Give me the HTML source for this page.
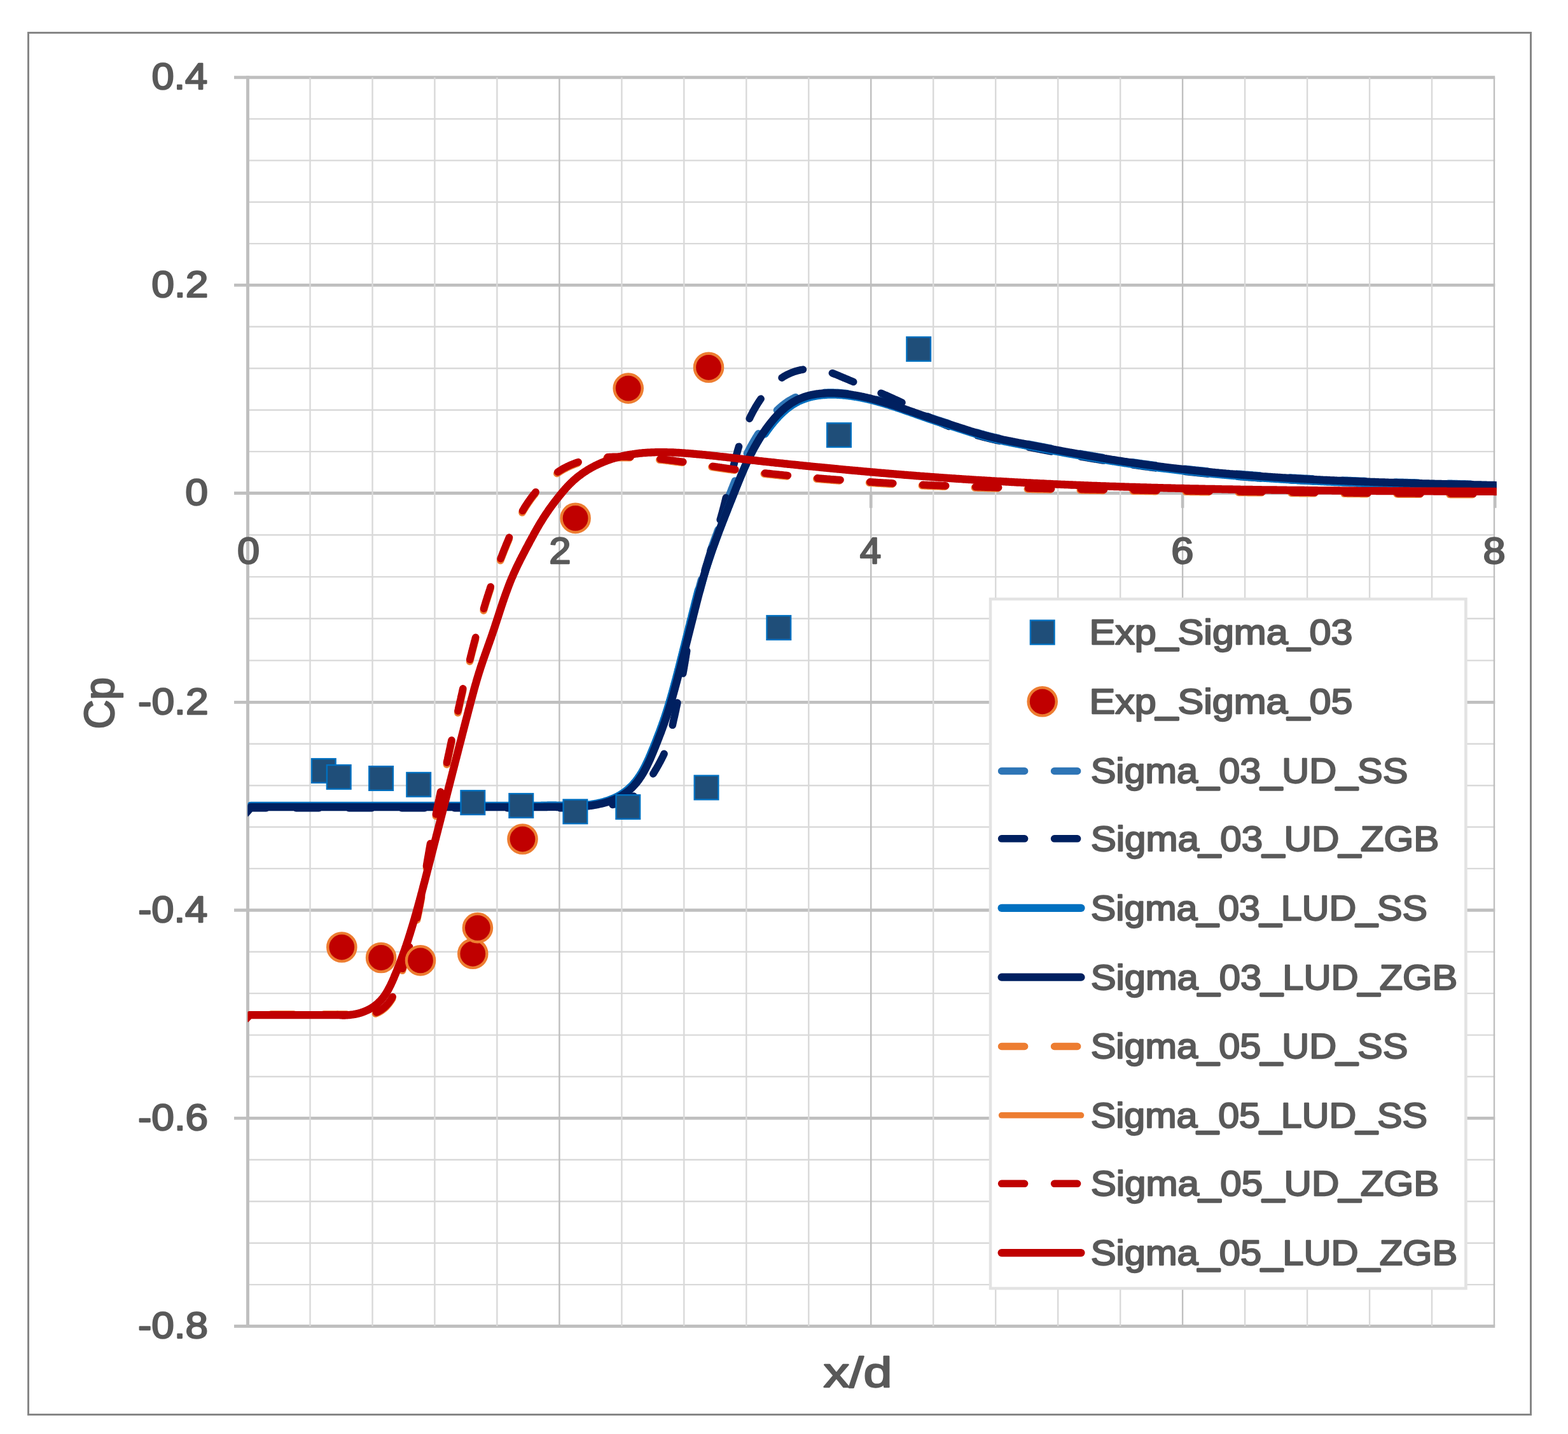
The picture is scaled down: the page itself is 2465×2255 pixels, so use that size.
<!DOCTYPE html>
<html lang="en"><head><meta charset="utf-8"><title>Cp vs x/d</title>
<style>html,body{margin:0;padding:0;background:#fff}svg{display:block}text{font-family:"Liberation Sans",sans-serif;font-weight:normal;fill:#595959;stroke:#595959;stroke-width:2.3px;stroke-linejoin:round}.u{stroke-width:3.6px}</style></head>
<body><svg width="2465" height="2255" viewBox="0 0 2465 2255">
<defs><filter id="soft" filterUnits="userSpaceOnUse" x="0" y="0" width="2465" height="2255" color-interpolation-filters="sRGB"><feGaussianBlur stdDeviation="0.7"/></filter></defs>
<g filter="url(#soft)">
<rect width="2465" height="2255" fill="#fff"/>
<rect x="44.5" y="51.5" width="2362" height="2173" fill="#fff" stroke="#868686" stroke-width="3"/>
<g id="grid" fill="none">
<path d="M389.5 187.0H2350.2M389.5 252.4H2350.2M389.5 317.7H2350.2M389.5 383.1H2350.2M389.5 513.8H2350.2M389.5 579.2H2350.2M389.5 644.7H2350.2M389.5 710.1H2350.2M389.5 841.3H2350.2M389.5 907.1H2350.2M389.5 972.8H2350.2M389.5 1038.6H2350.2M389.5 1169.8H2350.2M389.5 1235.2H2350.2M389.5 1300.5H2350.2M389.5 1365.9H2350.2M389.5 1496.7H2350.2M389.5 1562.1H2350.2M389.5 1627.6H2350.2M389.5 1693.0H2350.2M389.5 1823.8H2350.2M389.5 1889.2H2350.2M389.5 1954.7H2350.2M389.5 2020.1H2350.2" stroke="#D9D9D9" stroke-width="2.4"/>
<path d="M368 121.7H2350.2M368 448.4H2350.2M368 775.5H2350.2M368 1104.4H2350.2M368 1431.3H2350.2M368 1758.4H2350.2M368 2085.5H2350.2" stroke="#BFBFBF" stroke-width="4.9"/>
<path d="M487.5 121.7V2085.5M585.5 121.7V2085.5M683.4 121.7V2085.5M781.4 121.7V2085.5M977.4 121.7V2085.5M1075.3 121.7V2085.5M1173.3 121.7V2085.5M1271.3 121.7V2085.5M1467.2 121.7V2085.5M1565.2 121.7V2085.5M1663.2 121.7V2085.5M1761.2 121.7V2085.5M1957.1 121.7V2085.5M2055.1 121.7V2085.5M2153.1 121.7V2085.5M2251.0 121.7V2085.5" stroke="#D9D9D9" stroke-width="2.4"/>
<path d="M879.4 121.7V2085.5M1369.2 121.7V2085.5M1859.1 121.7V2085.5M2349.0 121.7V2085.5" stroke="#BFBFBF" stroke-width="2.4"/>
<path d="M389.5 119.2V2087.9" stroke="#BFBFBF" stroke-width="4.9"/>
<path d="M879.4 775.5V798.8M1369.2 775.5V798.8M1859.1 775.5V798.8M2350.2 775.5V798.8" stroke="#BFBFBF" stroke-width="4.7"/>
</g>
<defs><clipPath id="pc"><rect x="389.5" y="100" width="1963.3" height="2010"/></clipPath></defs>
<g id="curves" clip-path="url(#pc)" fill="none" stroke-linejoin="round">
<path d="M385.5 1276.6 L394.0 1266.8 L850.0 1266.8 L850.0 1266.8 L851.4 1266.7 L852.8 1266.7 L854.2 1266.7 L855.6 1266.6 L857.0 1266.6 L858.4 1266.6 L859.8 1266.6 L861.2 1266.5 L862.5 1266.5 L863.9 1266.5 L865.3 1266.5 L866.7 1266.5 L868.1 1266.5 L869.5 1266.5 L870.9 1266.5 L872.3 1266.5 L873.7 1266.5 L875.1 1266.6 L876.5 1266.6 L877.9 1266.6 L879.3 1266.6 L880.6 1266.6 L882.0 1266.6 L883.4 1266.6 L884.8 1266.6 L886.2 1266.6 L887.6 1266.6 L889.0 1266.6 L890.4 1266.6 L891.8 1266.6 L893.2 1266.6 L894.6 1266.6 L895.9 1266.6 L897.3 1266.6 L898.7 1266.5 L898.1 1267.9 L899.5 1267.9 L900.9 1267.8 L902.3 1267.8 L903.7 1267.7 L905.1 1267.7 L906.4 1267.6 L907.8 1267.6 L909.2 1267.5 L910.6 1267.4 L912.0 1267.3 L913.4 1267.2 L914.8 1267.1 L916.2 1267.0 L917.5 1266.9 L918.9 1266.7 L920.3 1266.6 L921.7 1266.4 L923.1 1266.3 L924.5 1266.1 L925.8 1265.9 L927.2 1265.8 L928.6 1265.6 L930.0 1265.4 L931.3 1265.1 L932.7 1264.9 L934.1 1264.7 L935.5 1264.4 L936.8 1264.2 L938.2 1263.9 L939.6 1263.6 L940.9 1263.3 L942.3 1263.0 L943.6 1262.7 L945.0 1262.4 L946.4 1262.0 L947.7 1261.7 L949.1 1261.3 L950.4 1260.9 L951.8 1260.5 L953.1 1260.1 L954.4 1259.7 L955.8 1259.2 L957.1 1258.8 L958.4 1258.3 L959.7 1257.8 L961.0 1257.3 L962.3 1256.8 L963.6 1256.2 L964.9 1255.7 L966.2 1255.1 L967.4 1254.5 L968.7 1253.9 L969.9 1253.3 L971.2 1252.6 L972.4 1252.0 L973.6 1251.3 L974.8 1250.6 L976.0 1249.8 L977.2 1249.1 L978.3 1248.3 L979.5 1247.6 L980.6 1246.8 L981.7 1246.0 L982.9 1245.1 L984.0 1244.3 L985.0 1243.4 L986.1 1242.6 L987.2 1241.7 L988.2 1240.8 L989.2 1239.8 L990.2 1238.9 L991.2 1237.9 L992.2 1237.0 L993.2 1236.0 L994.1 1235.0 L995.0 1234.0 L995.9 1233.0 L996.8 1231.9 L997.7 1230.9 L998.6 1229.8 L999.5 1228.8 L1000.3 1227.7 L1001.1 1226.6 L1002.0 1225.5 L1002.8 1224.3 L1003.5 1223.2 L1004.3 1222.1 L1005.1 1220.9 L1005.9 1219.8 L1006.6 1218.6 L1007.3 1217.4 L1008.1 1216.3 L1008.8 1215.1 L1009.5 1213.9 L1010.2 1212.7 L1010.9 1211.4 L1011.5 1210.2 L1012.2 1209.0 L1012.9 1207.7 L1013.5 1206.5 L1014.1 1205.3 L1014.8 1204.0 L1015.4 1202.7 L1016.0 1201.5 L1016.6 1200.2 L1017.2 1198.9 L1017.8 1197.7 L1018.4 1196.4 L1019.0 1195.1 L1019.6 1193.8 L1020.2 1192.5 L1020.7 1191.2 L1021.3 1189.9 L1021.8 1188.6 L1022.4 1187.3 L1022.9 1186.0 L1023.5 1184.7 L1024.0 1183.4 L1024.6 1182.1 L1025.1 1180.8 L1025.6 1179.5 L1026.2 1178.2 L1026.7 1176.9 L1027.2 1175.6 L1027.8 1174.3 L1028.3 1173.0 L1028.8 1171.7 L1029.3 1170.4 L1029.8 1169.1 L1030.4 1167.8 L1030.9 1166.5 L1031.4 1165.2 L1031.9 1163.9 L1032.4 1162.6 L1032.9 1161.3 L1033.4 1160.0 L1033.9 1158.7 L1034.4 1157.4 L1034.9 1156.1 L1035.4 1154.8 L1035.9 1153.5 L1036.4 1152.3 L1036.9 1151.0 L1037.4 1149.7 L1037.8 1148.4 L1038.3 1147.1 L1038.8 1145.8 L1039.3 1144.5 L1039.7 1143.2 L1040.2 1141.9 L1040.7 1140.6 L1041.1 1139.3 L1041.6 1138.0 L1042.1 1136.7 L1042.5 1135.4 L1043.0 1134.1 L1043.4 1132.8 L1043.9 1131.5 L1044.3 1130.2 L1044.8 1128.8 L1045.2 1127.5 L1045.7 1126.2 L1046.1 1124.9 L1046.5 1123.6 L1047.0 1122.3 L1047.4 1121.0 L1047.8 1119.6 L1048.2 1118.3 L1048.7 1117.0 L1049.1 1115.7 L1049.5 1114.3 L1049.9 1113.0 L1050.3 1111.7 L1050.7 1110.4 L1051.1 1109.0 L1051.5 1107.7 L1051.9 1106.4 L1052.3 1105.0 L1052.7 1103.7 L1053.1 1102.4 L1053.5 1101.0 L1053.9 1099.7 L1054.3 1098.4 L1054.7 1097.0 L1055.1 1095.7 L1055.5 1094.3 L1055.8 1093.0 L1056.2 1091.6 L1056.6 1090.3 L1057.0 1089.0 L1057.3 1087.6 L1057.7 1086.3 L1058.1 1084.9 L1058.4 1083.6 L1058.8 1082.2 L1059.2 1080.9 L1059.5 1079.5 L1059.9 1078.2 L1060.3 1076.8 L1060.6 1075.5 L1061.0 1074.1 L1061.4 1072.8 L1061.7 1071.4 L1062.1 1070.1 L1062.4 1068.7 L1062.8 1067.4 L1063.1 1066.0 L1063.5 1064.7 L1063.8 1063.3 L1064.2 1062.0 L1064.5 1060.6 L1064.9 1059.2 L1065.2 1057.9 L1065.6 1056.5 L1065.9 1055.2 L1066.3 1053.8 L1066.6 1052.5 L1067.0 1051.1 L1067.3 1049.8 L1067.7 1048.4 L1068.0 1047.1 L1068.3 1045.7 L1068.7 1044.4 L1069.0 1043.0 L1069.4 1041.7 L1069.7 1040.3 L1070.1 1039.0 L1070.4 1037.6 L1070.7 1036.3 L1071.1 1034.9 L1071.4 1033.6 L1071.8 1032.2 L1072.1 1030.9 L1072.4 1029.5 L1072.8 1028.2 L1073.1 1026.9 L1073.5 1025.5 L1073.8 1024.2 L1074.1 1022.8 L1074.5 1021.5 L1074.8 1020.1 L1075.2 1018.8 L1075.5 1017.4 L1075.8 1016.1 L1076.2 1014.7 L1076.5 1013.4 L1076.8 1012.0 L1077.2 1010.7 L1077.5 1009.3 L1077.9 1008.0 L1078.2 1006.6 L1078.5 1005.3 L1078.9 1004.0 L1079.2 1002.6 L1079.5 1001.3 L1079.9 999.9 L1080.2 998.6 L1080.5 997.2 L1080.9 995.9 L1081.2 994.5 L1081.6 993.2 L1081.9 991.8 L1082.2 990.5 L1082.6 989.1 L1082.9 987.8 L1083.2 986.4 L1083.6 985.1 L1083.9 983.7 L1084.3 982.4 L1084.6 981.0 L1084.9 979.7 L1085.3 978.3 L1085.6 977.0 L1085.9 975.7 L1086.3 974.3 L1086.6 973.0 L1087.0 971.6 L1087.3 970.3 L1087.6 968.9 L1088.0 967.6 L1088.3 966.2 L1088.6 964.9 L1089.0 963.5 L1089.3 962.2 L1089.7 960.8 L1090.0 959.5 L1090.3 958.1 L1090.7 956.7 L1091.0 955.4 L1091.4 954.0 L1091.7 952.7 L1092.1 951.3 L1092.4 950.0 L1092.7 948.6 L1093.1 947.3 L1093.4 945.9 L1093.8 944.6 L1094.1 943.2 L1094.5 941.9 L1094.8 940.5 L1095.2 939.2 L1095.5 937.8 L1095.9 936.5 L1096.2 935.1 L1096.6 933.8 L1096.9 932.4 L1097.3 931.1 L1097.6 929.7 L1098.0 928.4 L1098.4 927.0 L1098.7 925.7 L1099.1 924.3 L1099.4 923.0 L1099.8 921.6 L1100.2 920.3 L1100.5 918.9 L1100.9 917.6 L1101.3 916.2 L1101.7 914.9 L1102.0 913.5 L1102.4 912.2 L1102.8 910.8 L1103.2 909.5 L1103.6 908.2 L1103.9 906.8 L1104.3 905.5 L1104.7 904.1 L1105.1 902.8 L1105.5 901.5 L1105.9 900.1 L1106.3 898.8 L1106.7 897.5 L1107.1 896.1 L1107.5 894.8 L1107.9 893.5 L1108.3 892.1 L1108.8 890.8 L1109.2 889.5 L1109.6 888.2 L1110.0 886.8 L1110.4 885.5 L1110.9 884.2 L1111.3 882.9 L1111.7 881.5 L1112.2 880.2 L1112.6 878.9 L1113.0 877.6 L1113.5 876.3 L1113.9 874.9 L1114.4 873.6 L1114.8 872.3 L1115.2 871.0 L1115.7 869.7 L1116.1 868.4 L1116.6 867.1 L1117.0 865.7 L1117.5 864.4 L1118.0 863.1 L1118.4 861.8 L1118.9 860.5 L1119.3 859.2 L1119.8 857.9 L1120.3 856.6 L1120.7 855.3 L1121.2 854.0 L1121.7 852.7 L1122.2 851.4 L1122.6 850.0 L1123.1 848.7 L1123.6 847.4 L1124.1 846.1 L1124.5 844.8 L1125.0 843.5 L1125.5 842.2 L1126.0 840.9 L1126.5 839.6 L1127.0 838.3 L1127.4 837.0 L1127.9 835.7 L1128.4 834.4 L1128.9 833.1 L1129.4 831.8 L1129.9 830.5 L1130.4 829.2 L1130.9 827.9 L1131.4 826.6 L1131.9 825.3 L1132.4 824.0 L1132.9 822.7 L1133.4 821.4 L1133.9 820.1 L1134.4 818.9 L1134.9 817.6 L1135.4 816.3 L1135.9 815.0 L1136.4 813.7 L1136.9 812.4 L1137.4 811.1 L1137.9 809.8 L1138.4 808.5 L1138.9 807.2 L1139.5 805.9 L1140.0 804.6 L1140.5 803.3 L1141.0 802.0 L1141.5 800.7 L1142.0 799.4 L1142.5 798.1 L1143.0 796.8 L1143.5 795.5 L1144.1 794.2 L1144.6 792.9 L1145.1 791.6 L1145.6 790.3 L1146.1 789.0 L1146.6 787.7 L1147.1 786.4 L1147.7 785.2 L1145.2 781.9 L1145.7 780.6 L1146.2 779.3 L1146.7 778.0 L1147.2 776.7 L1147.8 775.4 L1148.3 774.1 L1148.8 772.8 L1149.3 771.5 L1149.8 770.2 L1150.3 768.9 L1150.8 767.6 L1151.4 766.3 L1151.9 765.0 L1152.4 763.7 L1152.9 762.4 L1153.4 761.1 L1154.0 759.8 L1154.5 758.5 L1155.0 757.2 L1155.5 755.9 L1156.1 754.6 L1156.6 753.3 L1157.1 752.0 L1157.7 750.7 L1158.2 749.4 L1158.7 748.1 L1159.3 746.8 L1159.8 745.5 L1160.3 744.2 L1160.9 743.0 L1161.4 741.7 L1162.0 740.4 L1162.5 739.1 L1163.1 737.8 L1163.6 736.5 L1164.2 735.3 L1164.7 734.0 L1165.3 732.7 L1165.9 731.4 L1166.4 730.2 L1167.0 728.9 L1167.6 727.6 L1168.1 726.4 L1168.7 725.1 L1169.3 723.8 L1169.9 722.6 L1170.5 721.3 L1171.1 720.1 L1171.7 718.8 L1172.3 717.6 L1172.9 716.3 L1173.5 715.1 L1174.1 713.8 L1174.7 712.6 L1175.3 711.4 L1175.9 710.1 L1176.6 708.9 L1177.2 707.7 L1177.8 706.5 L1178.5 705.2 L1179.1 704.0 L1179.8 702.8 L1180.4 701.6 L1181.1 700.4 L1181.8 699.2 L1182.4 698.0 L1183.1 696.8 L1183.8 695.6 L1184.5 694.4 L1185.2 693.2 L1185.9 692.0 L1186.6 690.8 L1187.3 689.6 L1188.0 688.4 L1188.7 687.3 L1189.4 686.1 L1190.2 684.9 L1190.9 683.7 L1191.7 682.6 L1192.4 681.4 L1193.2 680.2 L1193.9 679.1 L1194.7 677.9 L1195.5 676.8 L1196.3 675.6 L1197.1 674.5 L1197.9 673.3 L1198.7 672.2 L1199.5 671.1 L1200.3 669.9 L1201.2 668.8 L1202.0 667.7 L1202.8 666.6 L1203.7 665.4 L1204.6 664.3 L1205.4 663.2 L1206.3 662.1 L1207.2 661.0 L1208.1 659.9 L1209.0 658.8 L1209.9 657.7 L1210.8 656.6 L1211.8 655.5 L1212.7 654.4 L1213.7 653.4 L1214.6 652.3 L1215.6 651.3 L1216.5 650.2 L1217.5 649.2 L1218.5 648.1 L1219.5 647.1 L1220.5 646.1 L1221.5 645.1 L1222.6 644.1 L1223.6 643.2 L1224.6 642.2 L1225.7 641.3 L1226.7 640.3 L1227.8 639.4 L1228.9 638.5 L1230.0 637.6 L1231.1 636.7 L1232.2 635.9 L1233.3 635.0 L1234.4 634.2 L1235.5 633.4 L1236.7 632.6 L1237.8 631.8 L1238.9 631.0 L1240.1 630.3 L1241.3 629.6 L1242.5 628.9 L1243.7 628.2 L1244.9 627.5 L1246.1 626.9 L1247.3 626.2 L1248.5 625.6 L1249.7 625.0 L1251.0 624.5 L1252.2 623.9 L1253.5 623.4 L1254.7 622.9 L1256.0 622.4 L1257.3 621.9 L1258.6 621.5 L1259.9 621.0 L1261.2 620.6 L1262.5 620.2 L1263.8 619.8 L1270.1 621.4 L1271.4 621.1 L1272.7 620.8 L1274.1 620.4 L1275.4 620.1 L1276.8 619.8 L1278.1 619.6 L1279.5 619.3 L1280.8 619.1 L1282.2 618.8 L1283.5 618.6 L1284.9 618.4 L1286.3 618.3 L1287.7 618.1 L1289.0 617.9 L1290.4 617.8 L1291.8 617.7 L1293.2 617.6 L1294.6 617.5 L1296.0 617.4 L1297.4 617.3 L1298.8 617.2 L1300.2 617.2 L1301.6 617.1 L1303.0 617.1 L1304.4 617.1 L1305.8 617.1 L1307.2 617.1 L1308.6 617.1 L1310.0 617.1 L1311.4 617.2 L1312.9 617.2 L1314.3 617.3 L1315.7 617.4 L1317.1 617.4 L1318.5 617.5 L1319.9 617.6 L1321.3 617.7 L1322.7 617.8 L1324.1 618.0 L1325.5 618.1 L1326.9 618.2 L1328.3 618.4 L1329.7 618.5 L1331.1 618.7 L1332.5 618.9 L1333.9 619.1 L1335.3 619.2 L1336.7 619.4 L1338.0 619.6 L1339.4 619.8 L1340.8 620.1 L1342.2 620.3 L1343.6 620.5 L1344.9 620.7 L1346.3 621.0 L1347.7 621.2 L1349.0 621.5 L1350.4 621.7 L1351.8 622.0 L1353.1 622.3 L1354.5 622.6 L1355.9 622.8 L1357.2 623.1 L1358.6 623.4 L1359.9 623.7 L1361.3 624.0 L1362.7 624.3 L1364.0 624.7 L1365.4 625.0 L1366.7 625.3 L1368.1 625.6 L1369.4 626.0 L1370.7 626.3 L1372.1 626.7 L1373.4 627.0 L1374.8 627.4 L1376.1 627.7 L1377.5 628.1 L1378.8 628.5 L1380.1 628.9 L1381.5 629.2 L1382.8 629.6 L1384.1 630.0 L1385.5 630.4 L1386.8 630.8 L1388.1 631.2 L1389.5 631.6 L1390.8 632.0 L1392.1 632.4 L1393.4 632.8 L1394.8 633.2 L1396.1 633.6 L1397.4 634.1 L1398.7 634.5 L1400.1 634.9 L1401.4 635.3 L1402.7 635.8 L1404.0 636.2 L1405.4 636.6 L1406.7 637.1 L1408.0 637.5 L1409.3 637.9 L1410.6 638.4 L1412.0 638.8 L1413.3 639.3 L1414.6 639.7 L1415.9 640.2 L1417.2 640.6 L1418.5 641.1 L1419.9 641.6 L1421.2 642.0 L1422.5 642.5 L1423.8 642.9 L1425.1 643.4 L1426.4 643.8 L1427.7 644.3 L1429.1 644.8 L1430.4 645.2 L1431.7 645.7 L1433.0 646.2 L1434.3 646.6 L1435.6 647.1 L1436.9 647.6 L1438.2 648.0 L1439.6 648.5 L1440.9 649.0 L1442.2 649.4 L1443.5 649.9 L1444.8 650.3 L1446.1 650.8 L1447.4 651.3 L1448.8 651.7 L1450.1 652.2 L1451.4 652.7 L1452.7 653.1 L1454.0 653.6 L1455.3 654.0 L1456.7 654.5 L1458.0 654.9 L1459.3 655.4 L1460.6 655.8 L1461.9 656.3 L1463.2 656.7 L1464.6 657.2 L1465.9 657.6 L1467.2 658.1 L1468.5 658.5 L1469.8 659.0 L1471.2 659.4 L1472.5 659.8 L1473.8 660.3 L1475.1 660.7 L1476.5 661.1 L1477.8 661.5 L1479.1 662.0 L1480.4 662.4 L1481.8 662.8 L1483.1 663.2 L1484.4 663.7 L1485.7 664.1 L1487.1 664.5 L1488.4 664.9 L1489.7 665.4 L1491.1 665.8 L1492.4 666.2 L1493.7 666.6 L1495.0 667.0 L1496.4 667.5 L1497.7 667.9 L1499.0 668.3 L1500.3 668.7 L1501.7 669.2 L1503.0 669.6 L1504.3 670.0 L1505.7 670.4 L1507.0 670.9 L1508.3 671.3 L1509.6 671.7 L1511.0 672.2 L1512.3 672.6 L1513.6 673.0 L1514.9 673.4 L1516.3 673.9 L1517.6 674.3 L1518.9 674.7 L1520.2 675.2 L1521.6 675.6 L1522.9 676.0 L1524.2 676.4 L1525.5 676.9 L1526.9 677.3 L1528.2 677.7 L1529.5 678.1 L1530.9 678.5 L1532.2 679.0 L1533.5 679.4 L1534.8 679.8 L1536.2 680.2 L1537.5 680.6 L1538.8 681.0 L1540.2 681.4 L1541.5 681.8 L1542.9 682.2 L1544.2 682.5 L1545.5 682.9 L1546.9 683.3 L1548.2 683.7 L1549.5 684.0 L1550.9 684.4 L1552.2 684.7 L1553.6 685.1 L1554.9 685.4 L1556.3 685.8 L1557.6 686.1 L1559.0 686.4 L1560.3 686.8 L1561.7 687.1 L1563.0 687.4 L1564.4 687.7 L1565.7 688.0 L1567.1 688.3 L1568.5 688.6 L1569.8 688.9 L1571.2 689.2 L1572.5 689.5 L1573.9 689.8 L1575.2 690.1 L1576.6 690.4 L1578.0 690.7 L1579.3 691.0 L1580.7 691.2 L1582.1 691.5 L1583.4 691.8 L1584.8 692.1 L1586.2 692.3 L1587.5 692.6 L1588.9 692.9 L1590.3 693.1 L1591.6 693.4 L1593.0 693.7 L1594.4 693.9 L1595.7 694.2 L1597.1 694.5 L1598.4 694.7 L1599.8 695.0 L1601.2 695.3 L1602.6 695.5 L1603.9 695.8 L1605.3 696.1 L1606.7 696.3 L1608.0 696.6 L1609.4 696.9 L1610.8 697.1 L1612.1 697.4 L1613.5 697.6 L1614.9 697.9 L1616.2 698.2 L1617.6 698.4 L1619.0 698.7 L1620.3 699.0 L1621.7 699.2 L1623.1 699.5 L1624.4 699.8 L1625.8 700.0 L1627.2 700.3 L1628.5 700.5 L1629.9 700.8 L1631.3 701.1 L1632.6 701.3 L1634.0 701.6 L1635.4 701.8 L1636.7 702.1 L1638.1 702.4 L1639.5 702.6 L1640.8 702.9 L1642.2 703.1 L1643.6 703.4 L1645.0 703.7 L1646.3 703.9 L1647.7 704.2 L1649.1 704.4 L1650.4 704.7 L1651.8 704.9 L1653.2 705.2 L1654.5 705.5 L1655.9 705.7 L1657.3 706.0 L1658.6 706.2 L1660.0 706.5 L1661.4 706.7 L1662.8 707.0 L1664.1 707.2 L1665.5 707.5 L1666.9 707.7 L1668.2 708.0 L1669.6 708.3 L1671.0 708.5 L1672.3 708.8 L1673.7 709.0 L1675.1 709.3 L1676.5 709.5 L1677.8 709.8 L1679.2 710.0 L1680.6 710.3 L1681.9 710.5 L1683.3 710.7 L1684.7 711.0 L1686.1 711.2 L1687.4 711.5 L1688.8 711.7 L1690.2 712.0 L1691.5 712.2 L1692.9 712.5 L1694.3 712.7 L1695.7 713.0 L1697.0 713.2 L1698.4 713.4 L1699.8 713.7 L1701.1 713.9 L1702.5 714.2 L1703.9 714.4 L1705.3 714.6 L1706.6 714.9 L1708.0 715.1 L1709.4 715.4 L1710.7 715.6 L1712.1 715.8 L1713.5 716.1 L1714.9 716.3 L1716.2 716.5 L1717.6 716.8 L1719.0 717.0 L1720.4 717.2 L1721.7 717.5 L1723.1 717.7 L1724.5 717.9 L1725.9 718.2 L1727.2 718.4 L1728.6 718.6 L1730.0 718.9 L1731.3 719.1 L1732.7 719.3 L1734.1 719.5 L1735.5 719.8 L1736.8 720.0 L1738.2 720.2 L1739.6 720.4 L1741.0 720.7 L1742.3 720.9 L1743.7 721.1 L1745.1 721.3 L1746.5 721.6 L1747.8 721.8 L1749.2 722.0 L1750.6 722.2 L1752.0 722.4 L1753.3 722.6 L1754.7 722.9 L1756.1 723.1 L1757.5 723.3 L1758.8 723.5 L1760.2 723.7 L1761.6 723.9 L1763.0 724.1 L1764.4 724.4 L1765.7 724.6 L1767.1 724.8 L1768.5 725.0 L1769.9 725.2 L1771.2 725.4 L1772.6 725.6 L1774.0 725.8 L1775.4 726.0 L1776.7 726.2 L1778.1 726.4 L1779.5 726.6 L1780.9 726.8 L1782.3 727.0 L1783.6 727.2 L1785.0 727.4 L1786.4 727.6 L1787.8 727.8 L1789.1 728.0 L1790.5 728.2 L1791.9 728.4 L1793.3 728.6 L1794.7 728.8 L1796.0 729.0 L1797.4 729.2 L1798.8 729.4 L1800.2 729.5 L1801.5 729.7 L1802.9 729.9 L1804.3 730.1 L1805.7 730.3 L1807.1 730.5 L1808.4 730.7 L1809.8 730.8 L1811.2 731.0 L1812.6 731.2 L1814.0 731.4 L1815.3 731.6 L1816.7 731.7 L1818.1 731.9 L1819.5 732.1 L1820.9 732.3 L1822.2 732.5 L1823.6 732.6 L1825.0 732.8 L1826.4 733.0 L1827.8 733.1 L1829.2 733.3 L1830.5 733.5 L1831.9 733.7 L1833.3 733.8 L1834.7 734.0 L1836.1 734.2 L1837.4 734.3 L1838.8 734.5 L1840.2 734.7 L1841.6 734.8 L1843.0 735.0 L1844.3 735.2 L1845.7 735.3 L1847.1 735.5 L1848.5 735.6 L1849.9 735.8 L1851.3 736.0 L1852.6 736.1 L1854.0 736.3 L1855.4 736.4 L1856.8 736.6 L1858.2 736.8 L1859.6 736.9 L1860.9 737.1 L1862.3 737.2 L1863.7 737.4 L1865.1 737.5 L1866.5 737.7 L1867.9 737.8 L1869.2 738.0 L1870.6 738.1 L1872.0 738.3 L1873.4 738.4 L1874.8 738.6 L1876.2 738.7 L1877.5 738.9 L1878.9 739.0 L1880.3 739.2 L1881.7 739.3 L1883.1 739.4 L1884.5 739.6 L1885.8 739.7 L1887.2 739.9 L1888.6 740.0 L1890.0 740.1 L1891.4 740.3 L1892.8 740.4 L1894.2 740.6 L1895.5 740.7 L1896.9 740.8 L1898.3 741.0 L1899.7 741.1 L1901.1 741.2 L1902.5 741.4 L1903.8 741.5 L1905.2 741.6 L1906.6 741.8 L1908.0 741.9 L1909.4 742.0 L1910.8 742.2 L1912.2 742.3 L1913.5 742.4 L1914.9 742.5 L1916.3 742.7 L1917.7 742.8 L1919.1 742.9 L1920.5 743.1 L1921.9 743.2 L1923.2 743.3 L1924.6 743.4 L1926.0 743.5 L1927.4 743.7 L1928.8 743.8 L1930.2 743.9 L1931.6 744.0 L1933.0 744.2 L1934.3 744.3 L1935.7 744.4 L1937.1 744.5 L1938.5 744.6 L1939.9 744.7 L1941.3 744.9 L1942.7 745.0 L1944.1 745.1 L1945.4 745.2 L1946.8 745.3 L1948.2 745.4 L1949.6 745.5 L1951.0 745.6 L1952.4 745.8 L1953.8 745.9 L1955.2 746.0 L1956.5 746.1 L1957.9 746.2 L1959.3 746.3 L1960.7 746.4 L1962.1 746.5 L1963.5 746.6 L1964.9 746.7 L1966.3 746.8 L1967.6 746.9 L1969.0 747.0 L1970.4 747.2 L1971.8 747.3 L1973.2 747.4 L1974.6 747.5 L1976.0 747.6 L1977.4 747.7 L1978.8 747.8 L1980.1 747.9 L1981.5 748.0 L1982.9 748.1 L1984.3 748.2 L1985.7 748.3 L1987.1 748.4 L1988.5 748.4 L1989.9 748.5 L1991.3 748.6 L1992.6 748.7 L1994.0 748.8 L1995.4 748.9 L1996.8 749.0 L1998.2 749.1 L1999.6 749.2 L2001.0 749.3 L2002.4 749.4 L2003.8 749.5 L2005.1 749.6 L2006.5 749.7 L2007.9 749.7 L2009.3 749.8 L2010.7 749.9 L2012.1 750.0 L2013.5 750.1 L2014.9 750.2 L2016.3 750.3 L2017.7 750.4 L2019.0 750.4 L2020.4 750.5 L2021.8 750.6 L2023.2 750.7 L2024.6 750.8 L2026.0 750.9 L2027.4 750.9 L2028.8 751.0 L2030.2 751.1 L2031.6 751.2 L2032.9 751.3 L2034.3 751.4 L2035.7 751.4 L2037.1 751.5 L2038.5 751.6 L2039.9 751.7 L2041.3 751.7 L2042.7 751.8 L2044.1 751.9 L2045.5 752.0 L2046.9 752.1 L2048.2 752.1 L2049.6 752.2 L2051.0 752.3 L2052.4 752.4 L2053.8 752.4 L2055.2 752.5 L2056.6 752.6 L2058.0 752.6 L2059.4 752.7 L2060.8 752.8 L2062.2 752.9 L2063.5 752.9 L2064.9 753.0 L2066.3 753.1 L2067.7 753.1 L2069.1 753.2 L2070.5 753.3 L2071.9 753.4 L2073.3 753.4 L2074.7 753.5 L2076.1 753.6 L2077.5 753.6 L2078.9 753.7 L2080.2 753.8 L2081.6 753.8 L2083.0 753.9 L2084.4 754.0 L2085.8 754.0 L2087.2 754.1 L2088.6 754.1 L2090.0 754.2 L2091.4 754.3 L2092.8 754.3 L2094.2 754.4 L2095.6 754.5 L2096.9 754.5 L2098.3 754.6 L2099.7 754.6 L2101.1 754.7 L2102.5 754.8 L2103.9 754.8 L2105.3 754.9 L2106.7 754.9 L2108.1 755.0 L2109.5 755.1 L2110.9 755.1 L2112.3 755.2 L2113.6 755.2 L2115.0 755.3 L2116.4 755.4 L2117.8 755.4 L2119.2 755.5 L2120.6 755.5 L2122.0 755.6 L2123.4 755.6 L2124.8 755.7 L2126.2 755.7 L2127.6 755.8 L2129.0 755.9 L2130.4 755.9 L2131.7 756.0 L2133.1 756.0 L2134.5 756.1 L2135.9 756.1 L2137.3 756.2 L2138.7 756.2 L2140.1 756.3 L2141.5 756.3 L2142.9 756.4 L2144.3 756.4 L2145.7 756.5 L2147.1 756.5 L2148.5 756.6 L2149.8 756.6 L2151.2 756.7 L2152.6 756.7 L2154.0 756.8 L2155.4 756.8 L2156.8 756.9 L2158.2 756.9 L2159.6 757.0 L2161.0 757.0 L2162.4 757.1 L2163.8 757.1 L2165.2 757.2 L2166.6 757.2 L2167.9 757.3 L2169.3 757.3 L2170.7 757.3 L2172.1 757.4 L2173.5 757.4 L2174.9 757.5 L2176.3 757.5 L2177.7 757.6 L2179.1 757.6 L2180.5 757.7 L2181.9 757.7 L2183.3 757.8 L2184.7 757.8 L2186.0 757.8 L2187.4 757.9 L2188.8 757.9 L2190.2 758.0 L2191.6 758.0 L2193.0 758.1 L2194.4 758.1 L2195.8 758.1 L2197.2 758.2 L2198.6 758.2 L2200.0 758.3 L2201.4 758.3 L2202.8 758.3 L2204.2 758.4 L2205.5 758.4 L2206.9 758.5 L2208.3 758.5 L2209.7 758.5 L2211.1 758.6 L2212.5 758.6 L2213.9 758.7 L2215.3 758.7 L2216.7 758.7 L2218.1 758.8 L2219.5 758.8 L2220.9 758.9 L2222.3 758.9 L2223.6 758.9 L2225.0 759.0 L2226.4 759.0 L2227.8 759.1 L2229.2 759.1 L2230.6 759.1 L2232.0 759.2 L2233.4 759.2 L2234.8 759.2 L2236.2 759.3 L2237.6 759.3 L2239.0 759.4 L2240.3 759.4 L2241.7 759.4 L2243.1 759.5 L2244.5 759.5 L2245.9 759.5 L2247.3 759.6 L2248.7 759.6 L2250.1 759.6 L2251.5 759.7 L2252.9 759.7 L2254.3 759.7 L2255.7 759.8 L2257.1 759.8 L2258.4 759.9 L2259.8 759.9 L2261.2 759.9 L2262.6 760.0 L2264.0 760.0 L2265.4 760.0 L2266.8 760.1 L2268.2 760.1 L2269.6 760.1 L2271.0 760.2 L2272.4 760.2 L2273.8 760.2 L2275.1 760.3 L2276.5 760.3 L2277.9 760.3 L2279.3 760.4 L2280.7 760.4 L2282.1 760.4 L2283.5 760.5 L2284.9 760.5 L2286.3 760.5 L2287.7 760.6 L2289.1 760.6 L2290.5 760.6 L2291.8 760.7 L2293.2 760.7 L2294.6 760.7 L2296.0 760.8 L2297.4 760.8 L2298.8 760.8 L2300.2 760.9 L2301.6 760.9 L2303.0 760.9 L2304.4 761.0 L2305.8 761.0 L2307.1 761.0 L2308.5 761.1 L2309.9 761.1 L2311.3 761.1 L2312.7 761.2 L2314.1 761.2 L2315.5 761.2 L2316.9 761.3 L2318.3 761.3 L2319.7 761.3 L2321.1 761.4 L2322.4 761.4 L2323.8 761.4 L2325.2 761.5 L2326.6 761.5 L2328.0 761.5 L2329.4 761.6 L2330.8 761.6 L2332.2 761.6 L2333.6 761.7 L2335.0 761.7 L2336.3 761.7 L2337.7 761.8 L2339.1 761.8 L2340.5 761.8 L2341.9 761.9 L2343.3 761.9 L2344.7 761.9 L2346.1 762.0 L2347.5 762.0 L2348.9 762.0 L2350.2 762.1 L2351.6 762.1 L2353.0 762.1 L2354.4 762.2 L2355.8 762.2 L2357.2 762.2 L2358.6 762.3 L2360.0 762.3" stroke="#2E75B6" stroke-width="11.6" stroke-linecap="round" stroke-dasharray="36.0 47.0" stroke-dashoffset="64.7"/>
<path d="M385.5 1280.5 L394.0 1270.6 L900.0 1270.6 L900.0 1270.6 L901.4 1270.6 L902.9 1270.7 L904.3 1270.8 L905.7 1270.8 L907.1 1270.8 L908.6 1270.9 L910.0 1270.9 L911.4 1270.9 L912.8 1270.9 L914.2 1270.9 L915.6 1270.9 L917.0 1270.9 L918.4 1270.9 L919.8 1270.9 L921.2 1270.8 L922.6 1270.8 L924.0 1270.7 L925.4 1270.6 L926.8 1270.6 L928.2 1270.5 L929.6 1270.4 L931.0 1270.3 L932.4 1270.2 L933.8 1270.1 L935.2 1270.0 L936.5 1269.8 L937.9 1269.7 L939.3 1269.5 L940.7 1269.4 L942.1 1269.2 L943.5 1269.0 L944.9 1268.8 L946.2 1268.6 L947.6 1268.4 L949.0 1268.2 L950.4 1268.0 L951.8 1267.7 L953.2 1267.5 L954.6 1267.2 L956.0 1267.0 L957.4 1266.7 L958.8 1266.4 L960.1 1266.1 L961.5 1265.8 L962.9 1265.5 L964.3 1265.1 L965.7 1264.8 L967.1 1264.4 L968.5 1264.0 L969.8 1263.7 L971.2 1263.3 L972.6 1262.8 L973.9 1262.4 L975.3 1262.0 L976.6 1261.5 L978.0 1261.0 L979.3 1260.5 L980.6 1260.0 L981.9 1259.5 L983.2 1258.9 L984.5 1258.4 L985.8 1257.8 L987.0 1257.2 L988.3 1256.6 L989.5 1255.9 L990.8 1255.3 L992.0 1254.6 L993.2 1253.9 L994.4 1253.2 L995.6 1252.4 L996.7 1251.6 L997.9 1250.9 L999.0 1250.0 L1000.1 1249.2 L1001.2 1248.3 L1002.2 1247.5 L1003.3 1246.6 L1004.3 1245.6 L1005.3 1244.7 L1006.4 1243.7 L1007.3 1242.8 L1008.3 1241.8 L1009.3 1240.7 L1010.2 1239.7 L1011.2 1238.7 L1012.1 1237.6 L1013.0 1236.5 L1013.9 1235.4 L1014.8 1234.3 L1015.6 1233.2 L1016.5 1232.1 L1017.3 1230.9 L1018.2 1229.8 L1019.0 1228.6 L1019.8 1227.5 L1020.6 1226.3 L1021.5 1225.1 L1022.2 1224.0 L1023.0 1222.8 L1023.8 1221.6 L1024.6 1220.4 L1025.4 1219.2 L1026.1 1218.0 L1026.9 1216.8 L1027.6 1215.6 L1028.4 1214.4 L1029.1 1213.2 L1029.8 1211.9 L1030.5 1210.7 L1031.3 1209.5 L1032.0 1208.3 L1032.7 1207.1 L1033.4 1205.8 L1034.1 1204.6 L1034.8 1203.4 L1035.5 1202.2 L1036.1 1200.9 L1036.8 1199.7 L1037.5 1198.5 L1038.1 1197.2 L1038.8 1196.0 L1039.4 1194.7 L1040.1 1193.5 L1040.7 1192.2 L1041.3 1191.0 L1042.0 1189.7 L1042.6 1188.4 L1043.2 1187.2 L1043.8 1185.9 L1044.3 1184.6 L1044.9 1183.3 L1045.4 1182.1 L1046.0 1180.8 L1046.5 1179.5 L1047.0 1178.2 L1047.5 1176.8 L1047.9 1175.5 L1048.4 1174.2 L1048.8 1172.9 L1049.3 1171.5 L1049.7 1170.2 L1050.1 1168.9 L1050.5 1167.5 L1050.9 1166.2 L1051.2 1164.8 L1051.6 1163.4 L1052.0 1162.1 L1052.3 1160.7 L1052.7 1159.3 L1053.0 1158.0 L1053.3 1156.6 L1053.7 1155.2 L1054.0 1153.9 L1054.3 1152.5 L1054.7 1151.1 L1055.0 1149.8 L1055.3 1148.4 L1055.6 1147.0 L1056.0 1145.6 L1056.3 1144.3 L1056.6 1142.9 L1056.9 1141.5 L1057.3 1140.1 L1057.6 1138.8 L1057.9 1137.4 L1058.2 1136.0 L1058.5 1134.6 L1058.8 1133.3 L1059.1 1131.9 L1059.4 1130.5 L1059.7 1129.1 L1060.1 1127.8 L1060.4 1126.4 L1060.7 1125.0 L1061.0 1123.6 L1061.3 1122.3 L1061.6 1120.9 L1061.9 1119.5 L1062.2 1118.1 L1062.5 1116.8 L1062.8 1115.4 L1063.0 1114.0 L1063.3 1112.6 L1063.6 1111.2 L1063.9 1109.9 L1064.2 1108.5 L1064.5 1107.1 L1064.8 1105.7 L1065.1 1104.3 L1065.4 1103.0 L1065.6 1101.6 L1065.9 1100.2 L1066.2 1098.8 L1066.5 1097.4 L1066.8 1096.1 L1067.0 1094.7 L1067.3 1093.3 L1067.6 1091.9 L1067.8 1090.5 L1068.1 1089.2 L1068.4 1087.8 L1068.7 1086.4 L1068.9 1085.0 L1069.2 1083.6 L1069.5 1082.2 L1069.7 1080.9 L1070.0 1079.5 L1070.3 1078.1 L1070.5 1076.7 L1070.8 1075.3 L1071.0 1073.9 L1071.3 1072.6 L1071.5 1071.2 L1071.8 1069.8 L1072.1 1068.4 L1072.3 1067.0 L1072.6 1065.6 L1072.8 1064.3 L1073.1 1062.9 L1073.3 1061.5 L1073.6 1060.1 L1073.8 1058.7 L1074.0 1057.3 L1074.3 1055.9 L1074.5 1054.6 L1074.8 1053.2 L1075.0 1051.8 L1075.3 1050.4 L1075.5 1049.0 L1075.7 1047.6 L1076.0 1046.2 L1076.2 1044.8 L1076.4 1043.4 L1076.7 1042.1 L1076.9 1040.7 L1077.1 1039.3 L1077.4 1037.9 L1077.6 1036.5 L1077.8 1035.1 L1078.1 1033.7 L1078.3 1032.3 L1078.5 1030.9 L1078.7 1029.6 L1079.0 1028.2 L1079.2 1026.8 L1079.4 1025.4 L1079.6 1024.0 L1079.9 1022.6 L1080.1 1021.2 L1080.3 1019.8 L1080.5 1018.4 L1080.8 1017.0 L1081.0 1015.7 L1081.2 1014.3 L1081.4 1012.9 L1081.7 1011.5 L1081.9 1010.1 L1082.1 1008.7 L1082.4 1007.3 L1082.6 1005.9 L1082.8 1004.5 L1083.1 1003.1 L1083.3 1001.8 L1083.5 1000.4 L1083.8 999.0 L1084.0 997.6 L1084.2 996.2 L1084.5 994.8 L1084.7 993.4 L1085.0 992.1 L1085.2 990.7 L1085.5 989.3 L1085.7 987.9 L1086.0 986.5 L1086.2 985.1 L1086.5 983.7 L1086.7 982.4 L1087.0 981.0 L1087.3 979.6 L1087.5 978.2 L1087.8 976.8 L1088.1 975.5 L1088.4 974.1 L1088.7 972.7 L1088.9 971.3 L1089.2 969.9 L1089.5 968.6 L1089.8 967.2 L1090.1 965.8 L1090.4 964.4 L1090.7 963.1 L1091.0 961.7 L1091.3 960.3 L1091.6 958.9 L1091.9 957.6 L1092.3 956.2 L1092.6 954.8 L1092.9 953.5 L1093.2 952.1 L1093.5 950.7 L1093.9 949.3 L1094.2 948.0 L1094.5 946.6 L1094.9 945.2 L1095.2 943.9 L1095.5 942.5 L1095.9 941.1 L1096.2 939.8 L1096.6 938.4 L1096.9 937.0 L1097.3 935.7 L1097.6 934.3 L1098.0 933.0 L1098.3 931.6 L1098.7 930.2 L1099.1 928.9 L1099.4 927.5 L1099.8 926.2 L1100.1 924.8 L1100.5 923.4 L1100.9 922.1 L1101.3 920.7 L1101.6 919.4 L1102.0 918.0 L1102.4 916.6 L1102.8 915.3 L1103.1 913.9 L1103.5 912.6 L1103.9 911.2 L1104.3 909.9 L1104.7 908.5 L1105.1 907.1 L1105.5 905.8 L1105.9 904.4 L1106.2 903.1 L1106.6 901.7 L1107.0 900.4 L1107.4 899.0 L1107.8 897.7 L1108.2 896.3 L1108.6 895.0 L1109.0 893.6 L1109.4 892.3 L1109.8 890.9 L1110.2 889.6 L1110.6 888.2 L1111.1 886.9 L1111.5 885.5 L1111.9 884.2 L1112.3 882.8 L1112.7 881.5 L1113.1 880.1 L1113.5 878.8 L1113.9 877.4 L1114.3 876.1 L1114.8 874.7 L1115.2 873.4 L1115.6 872.0 L1116.0 870.7 L1116.4 869.4 L1116.8 868.0 L1117.3 866.7 L1117.7 865.3 L1118.1 864.0 L1118.5 862.6 L1118.9 861.3 L1119.3 859.9 L1119.8 858.6 L1120.2 857.2 L1120.6 855.9 L1121.0 854.6 L1121.4 853.2 L1121.8 851.9 L1122.3 850.5 L1122.7 849.2 L1123.1 847.8 L1123.5 846.5 L1123.9 845.1 L1124.3 843.8 L1124.7 842.4 L1125.2 841.1 L1125.6 839.8 L1126.0 838.4 L1126.4 837.1 L1126.8 835.7 L1127.2 834.4 L1127.6 833.0 L1128.0 831.7 L1128.4 830.3 L1128.8 829.0 L1129.2 827.6 L1129.6 826.3 L1130.0 824.9 L1130.4 823.6 L1130.8 822.2 L1131.2 820.9 L1131.6 819.5 L1132.0 818.2 L1132.3 816.8 L1132.7 815.5 L1133.1 814.1 L1133.5 812.7 L1133.9 811.4 L1134.2 810.0 L1134.6 808.7 L1135.0 807.3 L1135.4 806.0 L1135.7 804.6 L1136.1 803.2 L1136.5 801.9 L1136.8 800.5 L1137.2 799.2 L1137.5 797.8 L1137.9 796.4 L1138.2 795.1 L1138.6 793.7 L1138.9 792.3 L1139.3 791.0 L1139.6 789.6 L1139.9 788.2 L1140.3 786.9 L1140.6 785.5 L1140.9 784.1 L1141.3 782.8 L1141.6 781.4 L1141.9 780.0 L1142.3 778.7 L1142.6 777.3 L1142.9 775.9 L1143.2 774.6 L1143.6 773.2 L1143.9 771.8 L1144.2 770.4 L1144.5 769.1 L1144.9 767.7 L1145.2 766.3 L1145.5 765.0 L1145.8 763.6 L1146.1 762.2 L1146.5 760.8 L1146.8 759.5 L1147.1 758.1 L1147.4 756.7 L1147.7 755.4 L1148.1 754.0 L1148.4 752.6 L1148.7 751.2 L1149.0 749.9 L1149.3 748.5 L1149.7 747.1 L1150.0 745.8 L1150.3 744.4 L1150.7 743.0 L1151.0 741.6 L1151.3 740.3 L1151.6 738.9 L1152.0 737.5 L1152.3 736.2 L1152.7 734.8 L1153.0 733.4 L1153.3 732.1 L1153.7 730.7 L1154.0 729.3 L1154.4 728.0 L1154.7 726.6 L1155.1 725.2 L1155.4 723.9 L1155.8 722.5 L1156.1 721.2 L1156.5 719.8 L1156.9 718.4 L1157.2 717.1 L1157.6 715.7 L1158.0 714.4 L1158.4 713.0 L1158.8 711.6 L1159.1 710.3 L1159.5 708.9 L1159.9 707.6 L1160.3 706.2 L1160.7 704.9 L1161.1 703.5 L1161.5 702.2 L1161.9 700.8 L1162.4 699.5 L1162.8 698.2 L1163.2 696.8 L1163.6 695.5 L1164.1 694.1 L1164.5 692.8 L1165.0 691.5 L1165.4 690.1 L1165.9 688.8 L1166.3 687.5 L1166.8 686.1 L1167.3 684.8 L1167.7 683.5 L1168.2 682.2 L1168.7 680.8 L1169.2 679.5 L1169.7 678.2 L1170.2 676.9 L1170.7 675.6 L1171.2 674.3 L1171.8 673.0 L1172.3 671.7 L1172.8 670.4 L1173.4 669.1 L1173.9 667.8 L1174.5 666.5 L1175.0 665.2 L1175.6 663.9 L1176.2 662.6 L1176.8 661.3 L1177.4 660.0 L1178.0 658.8 L1178.6 657.5 L1179.2 656.2 L1179.8 654.9 L1180.4 653.7 L1181.1 652.4 L1181.7 651.2 L1182.4 649.9 L1183.0 648.6 L1183.7 647.4 L1184.4 646.1 L1185.1 644.9 L1185.8 643.7 L1186.5 642.4 L1187.2 641.2 L1187.9 640.0 L1188.6 638.7 L1189.4 637.5 L1190.1 636.3 L1190.9 635.1 L1191.6 633.9 L1192.4 632.7 L1193.2 631.5 L1194.0 630.3 L1194.8 629.1 L1195.6 627.9 L1196.4 626.8 L1197.3 625.6 L1198.1 624.4 L1198.9 623.3 L1199.8 622.2 L1200.7 621.0 L1201.6 619.9 L1202.4 618.8 L1203.3 617.7 L1204.2 616.6 L1205.2 615.5 L1206.1 614.4 L1207.0 613.4 L1208.0 612.3 L1208.9 611.3 L1209.9 610.3 L1210.9 609.2 L1211.9 608.2 L1212.9 607.2 L1213.9 606.3 L1214.9 605.3 L1215.9 604.3 L1217.0 603.4 L1218.0 602.5 L1219.1 601.6 L1220.2 600.7 L1221.3 599.8 L1222.4 598.9 L1223.5 598.1 L1224.6 597.2 L1225.7 596.4 L1226.9 595.6 L1228.0 594.8 L1229.2 594.0 L1230.3 593.3 L1231.5 592.5 L1232.7 591.8 L1233.9 591.1 L1235.2 590.4 L1236.4 589.8 L1237.6 589.1 L1238.9 588.5 L1240.2 587.9 L1241.4 587.3 L1242.7 586.8 L1244.0 586.2 L1245.3 585.7 L1246.7 585.2 L1248.0 584.7 L1249.3 584.3 L1250.7 583.8 L1252.1 583.4 L1253.5 583.0 L1254.8 582.7 L1256.2 582.3 L1257.6 582.0 L1259.0 581.7 L1260.4 581.4 L1261.9 581.2 L1263.3 580.9 L1264.7 580.7 L1266.1 580.6 L1267.6 580.4 L1269.0 580.3 L1270.4 580.2 L1271.9 580.1 L1273.3 580.0 L1274.7 580.0 L1276.2 580.0 L1277.6 580.0 L1279.0 580.1 L1280.4 580.1 L1281.8 580.2 L1283.3 580.4 L1284.7 580.5 L1286.1 580.7 L1287.5 580.9 L1288.8 581.1 L1290.2 581.4 L1291.6 581.6 L1293.0 581.9 L1294.3 582.3 L1295.7 582.6 L1297.1 583.0 L1298.4 583.4 L1299.8 583.8 L1301.1 584.2 L1302.4 584.6 L1303.8 585.0 L1305.1 585.5 L1306.4 586.0 L1307.8 586.5 L1309.1 587.0 L1310.4 587.5 L1311.7 588.0 L1313.0 588.5 L1314.4 589.0 L1315.7 589.6 L1317.0 590.1 L1318.3 590.7 L1319.6 591.2 L1320.9 591.8 L1322.2 592.3 L1323.5 592.9 L1324.8 593.4 L1326.1 594.0 L1327.4 594.5 L1328.7 595.1 L1330.0 595.6 L1331.3 596.1 L1332.6 596.7 L1333.9 597.2 L1335.2 597.8 L1336.5 598.3 L1337.8 598.9 L1339.1 599.4 L1340.4 599.9 L1341.7 600.5 L1343.0 601.0 L1344.4 601.5 L1345.7 602.1 L1347.0 602.6 L1348.3 603.1 L1349.6 603.7 L1350.9 604.2 L1352.2 604.7 L1353.5 605.3 L1354.8 605.8 L1356.1 606.3 L1357.4 606.9 L1358.7 607.4 L1360.0 607.9 L1361.3 608.4 L1362.6 609.0 L1363.9 609.5 L1365.2 610.0 L1366.5 610.6 L1367.8 611.1 L1369.1 611.6 L1370.4 612.2 L1371.7 612.7 L1373.0 613.3 L1374.3 613.8 L1375.6 614.3 L1376.9 614.9 L1378.2 615.4 L1379.5 616.0 L1380.8 616.5 L1382.1 617.1 L1383.4 617.6 L1384.7 618.1 L1386.0 618.7 L1387.3 619.2 L1388.6 619.8 L1389.9 620.4 L1391.2 620.9 L1392.5 621.5 L1393.8 622.0 L1395.0 622.6 L1396.3 623.2 L1397.6 623.7 L1398.9 624.3 L1400.2 624.9 L1401.5 625.4 L1402.8 626.0 L1404.1 626.6 L1405.3 627.2 L1406.6 627.8 L1407.9 628.3 L1409.2 628.9 L1410.5 629.5 L1411.7 630.1 L1413.0 630.7 L1414.3 631.3 L1415.6 631.9 L1416.8 632.5 L1418.1 633.1 L1419.4 633.8 L1420.6 634.4 L1421.9 635.0 L1423.2 635.6 L1424.4 636.2 L1425.7 636.9 L1426.9 637.5 L1428.2 638.1 L1429.4 638.8 L1430.7 639.4 L1431.9 640.1 L1433.2 640.7 L1434.4 641.4 L1435.7 642.0 L1436.9 642.7 L1438.1 643.4 L1439.4 644.1 L1440.6 644.7 L1441.9 645.4 L1443.1 646.1 L1444.3 646.8 L1445.5 647.5 L1446.8 648.2 L1448.0 648.9 L1449.2 649.6 L1450.4 650.3 L1451.7 651.0 L1452.9 651.6 L1454.1 652.3 L1455.3 653.0 L1456.6 653.7 L1457.8 654.4 L1459.0 655.1 L1460.3 655.8 L1461.5 656.4 L1462.7 657.1 L1464.0 657.8 L1465.2 658.4 L1466.5 659.1 L1467.7 659.7 L1469.0 660.4 L1470.3 661.0 L1471.5 661.6 L1472.8 662.2 L1474.1 662.8 L1475.3 663.4 L1476.6 664.0 L1477.9 664.6 L1479.2 665.2 L1480.5 665.7 L1481.8 666.3 L1483.1 666.9 L1484.4 667.4 L1485.7 668.0 L1487.0 668.5 L1488.3 669.0 L1489.6 669.6 L1490.9 670.1 L1492.2 670.6 L1493.5 671.1 L1494.8 671.6 L1496.2 672.1 L1497.5 672.6 L1498.8 673.1 L1500.1 673.6 L1501.5 674.0 L1502.8 674.5 L1504.1 675.0 L1505.5 675.4 L1506.8 675.9 L1508.1 676.3 L1509.5 676.8 L1510.8 677.2 L1512.2 677.6 L1513.5 678.1 L1514.8 678.5 L1516.2 678.9 L1517.5 679.3 L1518.9 679.7 L1520.2 680.2 L1521.6 680.6 L1522.9 681.0 L1524.3 681.4 L1525.6 681.8 L1527.0 682.1 L1528.3 682.5 L1529.7 682.9 L1531.0 683.3 L1532.4 683.7 L1533.8 684.0 L1535.1 684.4 L1536.5 684.8 L1537.8 685.1 L1539.2 685.5 L1540.5 685.9 L1541.9 686.2 L1543.3 686.6 L1544.6 686.9 L1546.0 687.3 L1547.4 687.6 L1548.7 688.0 L1550.1 688.3 L1551.5 688.6 L1552.8 689.0 L1554.2 689.3 L1555.6 689.7 L1556.9 690.0 L1558.3 690.3 L1559.7 690.7 L1561.0 691.0 L1562.4 691.3 L1563.8 691.6 L1565.1 692.0 L1566.5 692.3 L1567.9 692.6 L1569.2 692.9 L1570.6 693.2 L1572.0 693.5 L1573.4 693.9 L1574.7 694.2 L1576.1 694.5 L1577.5 694.8 L1578.9 695.1 L1580.2 695.4 L1581.6 695.7 L1583.0 696.0 L1584.4 696.3 L1585.7 696.6 L1587.1 696.9 L1588.5 697.2 L1589.9 697.5 L1591.2 697.8 L1592.6 698.1 L1594.0 698.4 L1595.4 698.7 L1596.7 699.0 L1598.1 699.2 L1599.5 699.5 L1600.9 699.8 L1602.3 700.1 L1603.6 700.4 L1605.0 700.7 L1606.4 701.0 L1607.8 701.2 L1609.2 701.5 L1610.5 701.8 L1611.9 702.1 L1613.3 702.4 L1614.7 702.6 L1616.1 702.9 L1617.4 703.2 L1618.8 703.4 L1620.2 703.7 L1621.6 704.0 L1623.0 704.3 L1624.3 704.5 L1625.7 704.8 L1627.1 705.1 L1628.5 705.3 L1629.9 705.6 L1631.3 705.9 L1632.6 706.1 L1634.0 706.4 L1635.4 706.7 L1636.8 706.9 L1638.2 707.2 L1639.6 707.4 L1640.9 707.7 L1642.3 708.0 L1643.7 708.2 L1645.1 708.5 L1646.5 708.7 L1647.9 709.0 L1649.3 709.3 L1650.6 709.5 L1652.0 709.8 L1653.4 710.0 L1654.8 710.3 L1656.2 710.5 L1657.6 710.8 L1659.0 711.1 L1660.3 711.3 L1661.7 711.6 L1663.1 711.8 L1664.5 712.1 L1665.9 712.3 L1667.3 712.6 L1668.7 712.8 L1670.0 713.1 L1671.4 713.3 L1672.8 713.6 L1674.2 713.8 L1675.6 714.1 L1677.0 714.3 L1678.4 714.5 L1679.7 714.8 L1681.1 715.0 L1682.5 715.3 L1683.9 715.5 L1685.3 715.8 L1686.7 716.0 L1688.1 716.3 L1689.5 716.5 L1690.8 716.7 L1692.2 717.0 L1693.6 717.2 L1695.0 717.5 L1696.4 717.7 L1697.8 717.9 L1699.2 718.2 L1700.6 718.4 L1701.9 718.6 L1703.3 718.9 L1704.7 719.1 L1706.1 719.3 L1707.5 719.6 L1708.9 719.8 L1710.3 720.0 L1711.7 720.3 L1713.1 720.5 L1714.4 720.7 L1715.8 721.0 L1717.2 721.2 L1718.6 721.4 L1720.0 721.7 L1721.4 721.9 L1722.8 722.1 L1724.2 722.3 L1725.6 722.6 L1727.0 722.8 L1728.3 723.0 L1729.7 723.2 L1731.1 723.5 L1732.5 723.7 L1733.9 723.9 L1735.3 724.1 L1736.7 724.3 L1738.1 724.6 L1739.5 724.8 L1740.9 725.0 L1742.3 725.2 L1743.6 725.4 L1745.0 725.6 L1746.4 725.9 L1747.8 726.1 L1749.2 726.3 L1750.6 726.5 L1752.0 726.7 L1753.4 726.9 L1754.8 727.1 L1756.2 727.4 L1757.6 727.6 L1759.0 727.8 L1760.4 728.0 L1761.7 728.2 L1763.1 728.4 L1764.5 728.6 L1765.9 728.8 L1767.3 729.0 L1768.7 729.2 L1770.1 729.4 L1771.5 729.6 L1772.9 729.8 L1774.3 730.0 L1775.7 730.2 L1777.1 730.4 L1778.5 730.6 L1779.9 730.8 L1781.3 731.0 L1782.6 731.2 L1784.0 731.4 L1785.4 731.6 L1786.8 731.8 L1788.2 732.0 L1789.6 732.2 L1791.0 732.4 L1792.4 732.6 L1793.8 732.8 L1795.2 733.0 L1796.6 733.2 L1798.0 733.4 L1799.4 733.6 L1800.8 733.7 L1802.2 733.9 L1803.6 734.1 L1805.0 734.3 L1806.4 734.5 L1807.8 734.7 L1809.2 734.9 L1810.5 735.0 L1811.9 735.2 L1813.3 735.4 L1814.7 735.6 L1816.1 735.8 L1817.5 735.9 L1818.9 736.1 L1820.3 736.3 L1821.7 736.5 L1823.1 736.7 L1824.5 736.8 L1825.9 737.0 L1827.3 737.2 L1828.7 737.4 L1830.1 737.5 L1831.5 737.7 L1832.9 737.9 L1834.3 738.1 L1835.7 738.2 L1837.1 738.4 L1838.5 738.6 L1839.9 738.7 L1841.3 738.9 L1842.7 739.1 L1844.1 739.2 L1845.5 739.4 L1846.9 739.6 L1848.3 739.7 L1849.7 739.9 L1851.1 740.0 L1852.5 740.2 L1853.9 740.4 L1855.3 740.5 L1856.7 740.7 L1858.1 740.8 L1859.5 741.0 L1860.9 741.2 L1862.3 741.3 L1863.7 741.5 L1865.1 741.6 L1866.4 741.8 L1867.8 741.9 L1869.2 742.1 L1870.6 742.2 L1872.0 742.4 L1873.4 742.5 L1874.8 742.7 L1876.2 742.8 L1877.6 743.0 L1879.0 743.1 L1880.4 743.3 L1881.8 743.4 L1883.2 743.6 L1884.6 743.7 L1886.0 743.8 L1887.4 744.0 L1888.8 744.1 L1890.2 744.3 L1891.6 744.4 L1893.0 744.5 L1894.5 744.7 L1895.9 744.8 L1897.3 745.0 L1898.7 745.1 L1900.1 745.2 L1901.5 745.4 L1902.9 745.5 L1904.3 745.6 L1905.7 745.8 L1907.1 745.9 L1908.5 746.0 L1909.9 746.1 L1911.3 746.3 L1912.7 746.4 L1914.1 746.5 L1915.5 746.7 L1916.9 746.8 L1918.3 746.9 L1919.7 747.0 L1921.1 747.2 L1922.5 747.3 L1923.9 747.4 L1925.3 747.5 L1926.7 747.6 L1928.1 747.8 L1929.5 747.9 L1930.9 748.0 L1932.3 748.1 L1933.7 748.2 L1935.1 748.4 L1936.5 748.5 L1937.9 748.6 L1939.3 748.7 L1940.7 748.8 L1942.1 748.9 L1943.5 749.0 L1944.9 749.2 L1946.3 749.3 L1947.7 749.4 L1949.1 749.5 L1950.5 749.6 L1951.9 749.7 L1953.3 749.8 L1954.7 749.9 L1956.2 750.0 L1957.6 750.1 L1959.0 750.2 L1960.4 750.4 L1961.8 750.5 L1963.2 750.6 L1964.6 750.7 L1966.0 750.8 L1967.4 750.9 L1968.8 751.0 L1970.2 751.1 L1971.6 751.2 L1973.0 751.3 L1974.4 751.4 L1975.8 751.5 L1977.2 751.6 L1978.6 751.7 L1980.0 751.8 L1981.4 751.9 L1982.8 752.0 L1984.2 752.0 L1985.6 752.1 L1987.0 752.2 L1988.5 752.3 L1989.9 752.4 L1991.3 752.5 L1992.7 752.6 L1994.1 752.7 L1995.5 752.8 L1996.9 752.9 L1998.3 753.0 L1999.7 753.1 L2001.1 753.1 L2002.5 753.2 L2003.9 753.3 L2005.3 753.4 L2006.7 753.5 L2008.1 753.6 L2009.5 753.7 L2010.9 753.7 L2012.3 753.8 L2013.8 753.9 L2015.2 754.0 L2016.6 754.1 L2018.0 754.2 L2019.4 754.2 L2020.8 754.3 L2022.2 754.4 L2023.6 754.5 L2025.0 754.6 L2026.4 754.6 L2027.8 754.7 L2029.2 754.8 L2030.6 754.9 L2032.0 755.0 L2033.4 755.0 L2034.8 755.1 L2036.2 755.2 L2037.7 755.3 L2039.1 755.3 L2040.5 755.4 L2041.9 755.5 L2043.3 755.5 L2044.7 755.6 L2046.1 755.7 L2047.5 755.8 L2048.9 755.8 L2050.3 755.9 L2051.7 756.0 L2053.1 756.0 L2054.5 756.1 L2055.9 756.2 L2057.3 756.3 L2058.8 756.3 L2060.2 756.4 L2061.6 756.5 L2063.0 756.5 L2064.4 756.6 L2065.8 756.7 L2067.2 756.7 L2068.6 756.8 L2070.0 756.8 L2071.4 756.9 L2072.8 757.0 L2074.2 757.0 L2075.6 757.1 L2077.1 757.2 L2078.5 757.2 L2079.9 757.3 L2081.3 757.3 L2082.7 757.4 L2084.1 757.5 L2085.5 757.5 L2086.9 757.6 L2088.3 757.6 L2089.7 757.7 L2091.1 757.8 L2092.5 757.8 L2093.9 757.9 L2095.3 757.9 L2096.8 758.0 L2098.2 758.1 L2099.6 758.1 L2101.0 758.2 L2102.4 758.2 L2103.8 758.3 L2105.2 758.3 L2106.6 758.4 L2108.0 758.4 L2109.4 758.5 L2110.8 758.5 L2112.2 758.6 L2113.7 758.7 L2115.1 758.7 L2116.5 758.8 L2117.9 758.8 L2119.3 758.9 L2120.7 758.9 L2122.1 759.0 L2123.5 759.0 L2124.9 759.1 L2126.3 759.1 L2127.7 759.2 L2129.1 759.2 L2130.5 759.3 L2132.0 759.3 L2133.4 759.4 L2134.8 759.4 L2136.2 759.5 L2137.6 759.5 L2139.0 759.5 L2140.4 759.6 L2141.8 759.6 L2143.2 759.7 L2144.6 759.7 L2146.0 759.8 L2147.4 759.8 L2148.9 759.9 L2150.3 759.9 L2151.7 760.0 L2153.1 760.0 L2154.5 760.0 L2155.9 760.1 L2157.3 760.1 L2158.7 760.2 L2160.1 760.2 L2161.5 760.3 L2162.9 760.3 L2164.3 760.4 L2165.8 760.4 L2167.2 760.4 L2168.6 760.5 L2170.0 760.5 L2171.4 760.6 L2172.8 760.6 L2174.2 760.6 L2175.6 760.7 L2177.0 760.7 L2178.4 760.8 L2179.8 760.8 L2181.2 760.8 L2182.7 760.9 L2184.1 760.9 L2185.5 761.0 L2186.9 761.0 L2188.3 761.0 L2189.7 761.1 L2191.1 761.1 L2192.5 761.2 L2193.9 761.2 L2195.3 761.2 L2196.7 761.3 L2198.1 761.3 L2199.6 761.3 L2201.0 761.4 L2202.4 761.4 L2203.8 761.4 L2205.2 761.5 L2206.6 761.5 L2208.0 761.6 L2209.4 761.6 L2210.8 761.6 L2212.2 761.7 L2213.6 761.7 L2215.0 761.7 L2216.5 761.8 L2217.9 761.8 L2219.3 761.8 L2220.7 761.9 L2222.1 761.9 L2223.5 761.9 L2224.9 762.0 L2226.3 762.0 L2227.7 762.1 L2229.1 762.1 L2230.5 762.1 L2231.9 762.2 L2233.4 762.2 L2234.8 762.2 L2236.2 762.3 L2237.6 762.3 L2239.0 762.3 L2240.4 762.4 L2241.8 762.4 L2243.2 762.4 L2244.6 762.5 L2246.0 762.5 L2247.4 762.5 L2248.8 762.6 L2250.2 762.6 L2251.7 762.6 L2253.1 762.6 L2254.5 762.7 L2255.9 762.7 L2257.3 762.7 L2258.7 762.8 L2260.1 762.8 L2261.5 762.8 L2262.9 762.9 L2264.3 762.9 L2265.7 762.9 L2267.1 763.0 L2268.5 763.0 L2270.0 763.0 L2271.4 763.1 L2272.8 763.1 L2274.2 763.1 L2275.6 763.2 L2277.0 763.2 L2278.4 763.2 L2279.8 763.3 L2281.2 763.3 L2282.6 763.3 L2284.0 763.4 L2285.4 763.4 L2286.8 763.4 L2288.3 763.4 L2289.7 763.5 L2291.1 763.5 L2292.5 763.5 L2293.9 763.6 L2295.3 763.6 L2296.7 763.6 L2298.1 763.7 L2299.5 763.7 L2300.9 763.7 L2302.3 763.8 L2303.7 763.8 L2305.1 763.8 L2306.5 763.9 L2308.0 763.9 L2309.4 763.9 L2310.8 764.0 L2312.2 764.0 L2313.6 764.0 L2315.0 764.0 L2316.4 764.1 L2317.8 764.1 L2319.2 764.1 L2320.6 764.2 L2322.0 764.2 L2323.4 764.2 L2324.8 764.3 L2326.2 764.3 L2327.6 764.3 L2329.0 764.4 L2330.5 764.4 L2331.9 764.4 L2333.3 764.5 L2334.7 764.5 L2336.1 764.5 L2337.5 764.6 L2338.9 764.6 L2340.3 764.6 L2341.7 764.7 L2343.1 764.7 L2344.5 764.7 L2345.9 764.8 L2347.3 764.8 L2348.7 764.8 L2350.1 764.9 L2351.5 764.9 L2352.9 764.9 L2354.4 765.0 L2355.8 765.0 L2357.2 765.0 L2358.6 765.1 L2360.0 765.1" stroke="#002060" stroke-width="11.6" stroke-linecap="round" stroke-dasharray="36.0 47.0" stroke-dashoffset="81.5"/>
<path d="M385.5 1276.6 L394.0 1266.8 L850.0 1266.8 L850.0 1266.8 L851.4 1266.7 L852.8 1266.7 L854.2 1266.7 L855.6 1266.6 L857.0 1266.6 L858.4 1266.6 L859.8 1266.6 L861.2 1266.5 L862.5 1266.5 L863.9 1266.5 L865.3 1266.5 L866.7 1266.5 L868.1 1266.5 L869.5 1266.5 L870.9 1266.5 L872.3 1266.5 L873.7 1266.5 L875.1 1266.6 L876.5 1266.6 L877.9 1266.6 L879.3 1266.6 L880.6 1266.6 L882.0 1266.6 L883.4 1266.6 L884.8 1266.6 L886.2 1266.6 L887.6 1266.6 L889.0 1266.6 L890.4 1266.6 L891.8 1266.6 L893.2 1266.6 L894.6 1266.6 L895.9 1266.6 L897.3 1266.6 L898.7 1266.5 L898.1 1267.4 L899.5 1267.4 L900.9 1267.3 L902.3 1267.3 L903.7 1267.2 L905.1 1267.2 L906.4 1267.1 L907.8 1267.1 L909.2 1267.0 L910.6 1266.9 L912.0 1266.8 L913.4 1266.7 L914.8 1266.6 L916.2 1266.5 L917.5 1266.4 L918.9 1266.2 L920.3 1266.1 L921.7 1265.9 L923.1 1265.8 L924.5 1265.6 L925.8 1265.4 L927.2 1265.3 L928.6 1265.1 L930.0 1264.9 L931.3 1264.6 L932.7 1264.4 L934.1 1264.2 L935.5 1263.9 L936.8 1263.7 L938.2 1263.4 L939.6 1263.1 L940.9 1262.8 L942.3 1262.5 L943.6 1262.2 L945.0 1261.9 L946.4 1261.5 L947.7 1261.2 L949.1 1260.8 L950.4 1260.4 L951.8 1260.0 L953.1 1259.6 L954.4 1259.2 L955.8 1258.7 L957.1 1258.3 L958.4 1257.8 L959.7 1257.3 L961.0 1256.8 L962.3 1256.3 L963.6 1255.7 L964.9 1255.2 L966.2 1254.6 L967.4 1254.0 L968.7 1253.4 L969.9 1252.8 L971.2 1252.1 L972.4 1251.5 L973.6 1250.8 L974.8 1250.1 L976.0 1249.3 L977.2 1248.6 L978.3 1247.8 L979.5 1247.1 L980.6 1246.3 L981.7 1245.5 L982.9 1244.6 L984.0 1243.8 L985.0 1242.9 L986.1 1242.1 L987.2 1241.2 L988.2 1240.3 L989.2 1239.3 L990.2 1238.4 L991.2 1237.4 L992.2 1236.5 L993.2 1235.5 L994.1 1234.5 L995.0 1233.5 L995.9 1232.5 L996.8 1231.4 L997.7 1230.4 L998.6 1229.3 L999.5 1228.3 L1000.3 1227.2 L1001.1 1226.1 L1002.0 1225.0 L1002.8 1223.8 L1003.5 1222.7 L1004.3 1221.6 L1005.1 1220.4 L1005.9 1219.3 L1006.6 1218.1 L1007.3 1216.9 L1008.1 1215.8 L1008.8 1214.6 L1009.5 1213.4 L1010.2 1212.2 L1010.9 1210.9 L1011.5 1209.7 L1012.2 1208.5 L1012.9 1207.2 L1013.5 1206.0 L1014.1 1204.8 L1014.8 1203.5 L1015.4 1202.2 L1016.0 1201.0 L1016.6 1199.7 L1017.2 1198.4 L1017.8 1197.2 L1018.4 1195.9 L1019.0 1194.6 L1019.6 1193.3 L1020.2 1192.0 L1020.7 1190.7 L1021.3 1189.4 L1021.8 1188.1 L1022.4 1186.8 L1022.9 1185.5 L1023.5 1184.2 L1024.0 1182.9 L1024.6 1181.6 L1025.1 1180.3 L1025.6 1179.0 L1026.2 1177.7 L1026.7 1176.4 L1027.2 1175.1 L1027.8 1173.8 L1028.3 1172.5 L1028.8 1171.2 L1029.3 1169.9 L1029.8 1168.6 L1030.4 1167.3 L1030.9 1166.0 L1031.4 1164.7 L1031.9 1163.4 L1032.4 1162.1 L1032.9 1160.8 L1033.4 1159.5 L1033.9 1158.2 L1034.4 1156.9 L1034.9 1155.6 L1035.4 1154.3 L1035.9 1153.0 L1036.4 1151.8 L1036.9 1150.5 L1037.4 1149.2 L1037.8 1147.9 L1038.3 1146.6 L1038.8 1145.3 L1039.3 1144.0 L1039.7 1142.7 L1040.2 1141.4 L1040.7 1140.1 L1041.1 1138.8 L1041.6 1137.5 L1042.1 1136.2 L1042.5 1134.9 L1043.0 1133.6 L1043.4 1132.3 L1043.9 1131.0 L1044.3 1129.7 L1044.8 1128.3 L1045.2 1127.0 L1045.7 1125.7 L1046.1 1124.4 L1046.5 1123.1 L1047.0 1121.8 L1047.4 1120.5 L1047.8 1119.1 L1048.2 1117.8 L1048.7 1116.5 L1049.1 1115.2 L1049.5 1113.8 L1049.9 1112.5 L1050.3 1111.2 L1050.7 1109.9 L1051.1 1108.5 L1051.5 1107.2 L1051.9 1105.9 L1052.3 1104.5 L1052.7 1103.2 L1053.1 1101.9 L1053.5 1100.5 L1053.9 1099.2 L1054.3 1097.9 L1054.7 1096.5 L1055.1 1095.2 L1055.5 1093.8 L1055.8 1092.5 L1056.2 1091.1 L1056.6 1089.8 L1057.0 1088.5 L1057.3 1087.1 L1057.7 1085.8 L1058.1 1084.4 L1058.4 1083.1 L1058.8 1081.7 L1059.2 1080.4 L1059.5 1079.0 L1059.9 1077.7 L1060.3 1076.3 L1060.6 1075.0 L1061.0 1073.6 L1061.4 1072.3 L1061.7 1070.9 L1062.1 1069.6 L1062.4 1068.2 L1062.8 1066.9 L1063.1 1065.5 L1063.5 1064.2 L1063.8 1062.8 L1064.2 1061.5 L1064.5 1060.1 L1064.9 1058.7 L1065.2 1057.4 L1065.6 1056.0 L1065.9 1054.7 L1066.3 1053.3 L1066.6 1052.0 L1067.0 1050.6 L1067.3 1049.3 L1067.7 1047.9 L1068.0 1046.6 L1068.3 1045.2 L1068.7 1043.9 L1069.0 1042.5 L1069.4 1041.2 L1069.7 1039.8 L1070.1 1038.5 L1070.4 1037.1 L1070.7 1035.8 L1071.1 1034.4 L1071.4 1033.1 L1071.8 1031.7 L1072.1 1030.4 L1072.4 1029.0 L1072.8 1027.7 L1073.1 1026.4 L1073.5 1025.0 L1073.8 1023.7 L1074.1 1022.3 L1074.5 1021.0 L1074.8 1019.6 L1075.2 1018.3 L1075.5 1016.9 L1075.8 1015.6 L1076.2 1014.2 L1076.5 1012.9 L1076.8 1011.5 L1077.2 1010.2 L1077.5 1008.8 L1077.9 1007.5 L1078.2 1006.1 L1078.5 1004.8 L1078.9 1003.5 L1079.2 1002.1 L1079.5 1000.8 L1079.9 999.4 L1080.2 998.1 L1080.5 996.7 L1080.9 995.4 L1081.2 994.0 L1081.6 992.7 L1081.9 991.3 L1082.2 990.0 L1082.6 988.6 L1082.9 987.3 L1083.2 985.9 L1083.6 984.6 L1083.9 983.2 L1084.3 981.9 L1084.6 980.5 L1084.9 979.2 L1085.3 977.8 L1085.6 976.5 L1085.9 975.2 L1086.3 973.8 L1086.6 972.5 L1087.0 971.1 L1087.3 969.8 L1087.6 968.4 L1088.0 967.1 L1088.3 965.7 L1088.6 964.4 L1089.0 963.0 L1089.3 961.7 L1089.7 960.3 L1090.0 959.0 L1090.3 957.6 L1090.7 956.2 L1091.0 954.9 L1091.4 953.5 L1091.7 952.2 L1092.1 950.8 L1092.4 949.5 L1092.7 948.1 L1093.1 946.8 L1093.4 945.4 L1093.8 944.1 L1094.1 942.7 L1094.5 941.4 L1094.8 940.0 L1095.2 938.7 L1095.5 937.3 L1095.9 936.0 L1096.2 934.6 L1096.6 933.3 L1096.9 931.9 L1097.3 930.6 L1097.6 929.2 L1098.0 927.9 L1100.4 928.0 L1100.7 926.7 L1101.1 925.3 L1101.4 924.0 L1101.8 922.6 L1102.2 921.3 L1102.5 919.9 L1102.9 918.6 L1103.3 917.2 L1103.7 915.9 L1104.0 914.5 L1104.4 913.2 L1104.8 911.8 L1105.2 910.5 L1105.6 909.2 L1105.9 907.8 L1106.3 906.5 L1106.7 905.1 L1107.1 903.8 L1107.5 902.5 L1107.9 901.1 L1108.3 899.8 L1108.7 898.5 L1109.1 897.1 L1109.5 895.8 L1109.9 894.5 L1110.3 893.1 L1110.8 891.8 L1111.2 890.5 L1111.6 889.2 L1112.0 887.8 L1112.4 886.5 L1112.9 885.2 L1113.3 883.9 L1113.7 882.5 L1114.2 881.2 L1114.6 879.9 L1115.0 878.6 L1115.5 877.3 L1115.9 875.9 L1116.4 874.6 L1116.8 873.3 L1117.2 872.0 L1117.7 870.7 L1118.1 869.4 L1118.6 868.1 L1119.0 866.7 L1119.5 865.4 L1120.0 864.1 L1120.4 862.8 L1120.9 861.5 L1121.3 860.2 L1121.8 858.9 L1122.3 857.6 L1122.7 856.3 L1123.2 855.0 L1123.7 853.7 L1124.2 852.4 L1124.6 851.0 L1125.1 849.7 L1125.6 848.4 L1126.1 847.1 L1126.5 845.8 L1127.0 844.5 L1127.5 843.2 L1128.0 841.9 L1128.5 840.6 L1129.0 839.3 L1129.4 838.0 L1129.9 836.7 L1130.4 835.4 L1130.9 834.1 L1131.4 832.8 L1131.9 831.5 L1132.4 830.2 L1132.9 828.9 L1133.4 827.6 L1133.9 826.3 L1134.4 825.0 L1134.9 823.7 L1135.4 822.4 L1135.9 821.1 L1136.4 819.9 L1136.9 818.6 L1137.4 817.3 L1137.9 816.0 L1138.4 814.7 L1138.9 813.4 L1139.4 812.1 L1139.9 810.8 L1140.4 809.5 L1140.9 808.2 L1141.5 806.9 L1142.0 805.6 L1142.5 804.3 L1143.0 803.0 L1143.5 801.7 L1144.0 800.4 L1144.5 799.1 L1145.0 797.8 L1145.5 796.5 L1146.1 795.2 L1146.6 793.9 L1147.1 792.6 L1147.6 791.3 L1148.1 790.0 L1148.6 788.7 L1149.1 787.4 L1149.7 786.2 L1150.2 784.9 L1150.7 783.6 L1151.2 782.3 L1151.7 781.0 L1152.2 779.7 L1152.8 778.4 L1153.3 777.1 L1153.8 775.8 L1154.3 774.5 L1154.8 773.2 L1155.3 771.9 L1155.8 770.6 L1156.4 769.3 L1156.9 768.0 L1157.4 766.7 L1157.9 765.4 L1158.4 764.1 L1159.0 762.8 L1159.5 761.5 L1160.0 760.2 L1160.5 758.9 L1161.1 757.6 L1161.6 756.3 L1162.1 755.0 L1162.7 753.7 L1163.2 752.4 L1163.7 751.1 L1164.3 749.8 L1164.8 748.5 L1165.3 747.2 L1165.9 746.0 L1166.4 744.7 L1167.0 743.4 L1167.5 742.1 L1168.1 740.8 L1168.6 739.5 L1169.2 738.3 L1169.7 737.0 L1170.3 735.7 L1170.9 734.4 L1171.4 733.2 L1172.0 731.9 L1172.6 730.6 L1173.1 729.4 L1173.7 728.1 L1174.3 726.8 L1174.9 725.6 L1175.5 724.3 L1176.1 723.1 L1176.7 721.8 L1177.3 720.6 L1177.9 719.3 L1178.5 718.1 L1179.1 716.8 L1179.7 715.6 L1180.3 714.4 L1180.9 713.1 L1181.6 711.9 L1182.2 710.7 L1182.8 709.5 L1183.5 708.2 L1184.1 707.0 L1184.8 705.8 L1185.4 704.6 L1186.1 703.4 L1186.8 702.2 L1187.4 701.0 L1188.1 699.8 L1188.8 698.6 L1189.5 697.4 L1190.2 696.2 L1190.9 695.0 L1191.6 693.8 L1192.3 692.6 L1193.0 691.4 L1193.7 690.3 L1194.4 689.1 L1195.2 687.9 L1195.9 686.7 L1196.7 685.6 L1197.4 684.4 L1198.2 683.2 L1198.9 682.1 L1199.7 680.9 L1202.5 682.3 L1203.3 681.1 L1204.1 680.0 L1204.9 678.8 L1205.7 677.7 L1206.5 676.6 L1207.3 675.4 L1208.2 674.3 L1209.0 673.2 L1209.8 672.1 L1210.7 670.9 L1211.6 669.8 L1212.4 668.7 L1213.3 667.6 L1214.2 666.5 L1215.1 665.4 L1216.0 664.3 L1216.9 663.2 L1217.8 662.1 L1218.8 661.0 L1219.7 659.9 L1220.7 658.9 L1221.6 657.8 L1222.6 656.8 L1223.5 655.7 L1224.5 654.7 L1225.5 653.6 L1226.5 652.6 L1227.5 651.6 L1228.5 650.6 L1229.6 649.6 L1230.6 648.7 L1231.6 647.7 L1232.7 646.8 L1233.7 645.8 L1234.8 644.9 L1235.9 644.0 L1237.0 643.1 L1238.1 642.2 L1239.2 641.4 L1240.3 640.5 L1241.4 639.7 L1242.5 638.9 L1243.7 638.1 L1244.8 637.3 L1245.9 636.5 L1247.1 635.8 L1248.3 635.1 L1249.5 634.4 L1250.7 633.7 L1251.9 633.0 L1253.1 632.4 L1254.3 631.7 L1255.5 631.1 L1256.7 630.5 L1258.0 630.0 L1259.2 629.4 L1260.5 628.9 L1261.7 628.4 L1263.0 627.9 L1264.3 627.4 L1265.6 627.0 L1266.9 626.5 L1268.2 626.1 L1269.5 625.7 L1270.8 625.3 L1272.1 624.9 L1273.4 624.6 L1274.7 624.3 L1276.1 623.9 L1277.4 623.6 L1278.8 623.3 L1280.1 623.1 L1281.5 622.8 L1282.8 622.6 L1284.2 622.3 L1285.5 622.1 L1286.9 621.9 L1288.3 621.8 L1289.7 621.6 L1291.0 621.4 L1292.4 621.3 L1293.8 621.2 L1295.2 621.1 L1296.6 621.0 L1298.0 620.9 L1299.4 620.8 L1300.8 620.7 L1302.2 620.7 L1303.6 620.6 L1305.0 620.6 L1306.4 620.6 L1307.8 620.6 L1309.2 620.6 L1310.6 620.6 L1312.0 620.6 L1313.4 620.7 L1314.9 620.7 L1316.3 620.8 L1317.7 620.9 L1319.1 620.9 L1320.5 621.0 L1321.9 621.1 L1323.3 621.2 L1324.7 621.3 L1326.1 621.5 L1327.5 621.6 L1328.9 621.7 L1330.3 621.9 L1331.7 622.0 L1333.1 622.2 L1334.5 622.4 L1335.9 622.6 L1337.3 622.7 L1338.7 622.9 L1340.0 623.1 L1341.4 623.3 L1342.8 623.6 L1344.2 623.8 L1345.6 624.0 L1346.9 624.2 L1348.3 624.5 L1349.7 624.7 L1351.0 625.0 L1352.4 625.2 L1353.8 625.5 L1355.1 625.8 L1356.5 626.1 L1357.9 626.3 L1359.2 626.6 L1360.6 626.9 L1361.9 627.2 L1363.3 627.5 L1364.7 627.8 L1366.0 628.2 L1367.4 628.5 L1368.7 628.8 L1370.1 629.1 L1371.4 629.5 L1372.7 629.8 L1374.1 630.2 L1375.4 630.5 L1376.8 630.9 L1378.1 631.2 L1379.5 631.6 L1380.8 632.0 L1382.1 632.4 L1383.5 632.7 L1384.8 633.1 L1386.1 633.5 L1387.5 633.9 L1388.8 634.3 L1390.1 634.7 L1391.5 635.1 L1392.8 635.5 L1394.1 635.9 L1395.4 636.3 L1396.8 636.7 L1398.1 637.1 L1399.4 637.6 L1400.7 638.0 L1402.1 638.4 L1403.4 638.8 L1404.7 639.3 L1406.0 639.7 L1407.4 640.1 L1408.7 640.6 L1410.0 641.0 L1411.3 641.4 L1412.6 641.9 L1414.0 642.3 L1415.3 642.8 L1416.6 643.2 L1417.9 643.7 L1419.2 644.1 L1420.5 644.6 L1421.9 645.1 L1423.2 645.5 L1424.5 646.0 L1425.8 646.4 L1427.1 646.9 L1428.4 647.3 L1429.7 647.8 L1431.1 648.3 L1432.4 648.7 L1433.7 649.2 L1435.0 649.7 L1436.3 650.1 L1437.6 650.6 L1438.9 651.1 L1440.2 651.5 L1441.6 652.0 L1442.9 652.5 L1444.2 652.9 L1445.5 653.4 L1446.8 653.8 L1448.1 654.3 L1449.4 654.8 L1450.8 655.2 L1452.1 655.7 L1453.4 656.2 L1454.7 656.6 L1456.0 657.1 L1457.3 657.5 L1458.7 658.0 L1460.0 658.4 L1461.3 658.9 L1462.6 659.3 L1463.9 659.8 L1465.2 660.2 L1466.6 660.7 L1467.9 661.1 L1469.2 661.6 L1470.5 662.0 L1471.8 662.5 L1473.2 662.9 L1474.5 663.3 L1475.8 663.8 L1477.1 664.2 L1478.5 664.6 L1479.8 665.0 L1481.1 665.5 L1482.4 665.9 L1483.8 666.3 L1485.1 666.7 L1486.4 667.2 L1487.7 667.6 L1489.1 668.0 L1490.4 668.4 L1491.7 668.9 L1493.1 669.3 L1494.4 669.7 L1495.7 670.1 L1497.0 670.5 L1498.4 671.0 L1499.7 671.4 L1501.0 671.8 L1502.3 672.2 L1503.7 672.7 L1505.0 673.1 L1506.3 673.5 L1507.7 673.9 L1509.0 674.4 L1510.3 674.8 L1511.6 675.2 L1513.0 675.7 L1514.3 676.1 L1515.6 676.5 L1516.9 676.9 L1518.3 677.4 L1519.6 677.8 L1520.9 678.2 L1522.2 678.7 L1523.6 679.1 L1524.9 679.5 L1526.2 679.9 L1527.5 680.4 L1528.9 680.8 L1530.2 681.2 L1531.5 681.6 L1532.9 682.0 L1534.2 682.5 L1535.5 682.9 L1536.8 683.3 L1538.2 683.7 L1539.5 684.1 L1540.8 684.5 L1542.2 684.9 L1543.5 685.3 L1544.9 685.7 L1546.2 686.0 L1547.5 686.4 L1548.9 686.8 L1550.2 687.2 L1551.5 687.5 L1552.9 687.9 L1554.2 688.2 L1555.6 688.6 L1556.9 688.9 L1558.3 689.3 L1559.6 689.6 L1561.0 689.9 L1562.3 690.3 L1563.7 690.6 L1565.0 690.9 L1566.4 691.2 L1567.7 691.5 L1569.1 691.8 L1570.5 692.1 L1571.8 692.4 L1573.2 692.7 L1574.5 693.0 L1575.9 693.3 L1577.2 693.6 L1578.6 693.9 L1580.0 694.2 L1581.3 694.5 L1582.7 694.7 L1584.1 695.0 L1585.4 695.3 L1586.8 695.6 L1588.2 695.8 L1589.5 696.1 L1590.9 696.4 L1592.3 696.6 L1593.6 696.9 L1595.0 697.2 L1596.4 697.4 L1597.7 697.7 L1599.1 698.0 L1600.4 698.2 L1601.8 698.5 L1603.2 698.8 L1604.6 699.0 L1605.9 699.3 L1607.3 699.6 L1608.7 699.8 L1610.0 700.1 L1611.4 700.4 L1612.8 700.6 L1614.1 700.9 L1615.5 701.1 L1616.9 701.4 L1618.2 701.7 L1619.6 701.9 L1621.0 702.2 L1622.3 702.5 L1623.7 702.7 L1625.1 703.0 L1626.4 703.3 L1627.8 703.5 L1629.2 703.8 L1630.5 704.0 L1631.9 704.3 L1633.3 704.6 L1634.6 704.8 L1636.0 705.1 L1637.4 705.3 L1638.7 705.6 L1640.1 705.9 L1641.5 706.1 L1642.8 706.4 L1644.2 706.6 L1645.6 706.9 L1647.0 707.2 L1648.3 707.4 L1649.7 707.7 L1651.1 707.9 L1652.4 708.2 L1653.8 708.4 L1655.2 708.7 L1656.5 709.0 L1657.9 709.2 L1659.3 709.5 L1660.6 709.7 L1662.0 710.0 L1663.4 710.2 L1664.8 710.5 L1666.1 710.7 L1667.5 711.0 L1668.9 711.2 L1670.2 711.5 L1671.6 711.8 L1673.0 712.0 L1674.3 712.3 L1675.7 712.5 L1677.1 712.8 L1678.5 713.0 L1679.8 713.3 L1681.2 713.5 L1682.6 713.8 L1683.9 714.0 L1685.3 714.2 L1686.7 714.5 L1688.1 714.7 L1689.4 715.0 L1690.8 715.2 L1692.2 715.5 L1693.5 715.7 L1694.9 716.0 L1696.3 716.2 L1697.7 716.5 L1699.0 716.7 L1700.4 716.9 L1701.8 717.2 L1703.1 717.4 L1704.5 717.7 L1705.9 717.9 L1707.3 718.1 L1708.6 718.4 L1710.0 718.6 L1711.4 718.9 L1712.7 719.1 L1714.1 719.3 L1715.5 719.6 L1716.9 719.8 L1718.2 720.0 L1719.6 720.3 L1721.0 720.5 L1722.4 720.7 L1723.7 721.0 L1725.1 721.2 L1726.5 721.4 L1727.9 721.7 L1729.2 721.9 L1730.6 722.1 L1732.0 722.4 L1733.3 722.6 L1734.7 722.8 L1736.1 723.0 L1737.5 723.3 L1738.8 723.5 L1740.2 723.7 L1741.6 723.9 L1743.0 724.2 L1744.3 724.4 L1745.7 724.6 L1747.1 724.8 L1748.5 725.1 L1749.8 725.3 L1751.2 725.5 L1752.6 725.7 L1754.0 725.9 L1755.3 726.1 L1756.7 726.4 L1758.1 726.6 L1759.5 726.8 L1760.8 727.0 L1762.2 727.2 L1763.6 727.4 L1765.0 727.6 L1766.4 727.9 L1767.7 728.1 L1769.1 728.3 L1770.5 728.5 L1771.9 728.7 L1773.2 728.9 L1774.6 729.1 L1776.0 729.3 L1777.4 729.5 L1778.7 729.7 L1780.1 729.9 L1781.5 730.1 L1782.9 730.3 L1784.3 730.5 L1785.6 730.7 L1787.0 730.9 L1788.4 731.1 L1789.8 731.3 L1791.1 731.5 L1792.5 731.7 L1793.9 731.9 L1795.3 732.1 L1796.7 732.3 L1798.0 732.5 L1799.4 732.7 L1800.8 732.9 L1802.2 733.0 L1803.5 733.2 L1804.9 733.4 L1806.3 733.6 L1807.7 733.8 L1809.1 734.0 L1810.4 734.2 L1811.8 734.3 L1813.2 734.5 L1814.6 734.7 L1816.0 734.9 L1817.3 735.1 L1818.7 735.2 L1820.1 735.4 L1821.5 735.6 L1822.9 735.8 L1824.2 736.0 L1825.6 736.1 L1827.0 736.3 L1828.4 736.5 L1829.8 736.6 L1831.2 736.8 L1832.5 737.0 L1833.9 737.2 L1835.3 737.3 L1836.7 737.5 L1838.1 737.7 L1839.4 737.8 L1840.8 738.0 L1842.2 738.2 L1843.6 738.3 L1845.0 738.5 L1846.3 738.7 L1847.7 738.8 L1849.1 739.0 L1850.5 739.1 L1851.9 739.3 L1853.3 739.5 L1854.6 739.6 L1856.0 739.8 L1857.4 739.9 L1858.8 740.1 L1860.2 740.3 L1861.6 740.4 L1862.9 740.6 L1864.3 740.7 L1865.7 740.9 L1867.1 741.0 L1868.5 741.2 L1869.9 741.3 L1871.2 741.5 L1872.6 741.6 L1874.0 741.8 L1875.4 741.9 L1876.8 742.1 L1878.2 742.2 L1879.5 742.4 L1880.9 742.5 L1882.3 742.7 L1883.7 742.8 L1885.1 742.9 L1886.5 743.1 L1887.8 743.2 L1889.2 743.4 L1890.6 743.5 L1892.0 743.6 L1893.4 743.8 L1894.8 743.9 L1896.2 744.1 L1897.5 744.2 L1898.9 744.3 L1900.3 744.5 L1901.7 744.6 L1903.1 744.7 L1904.5 744.9 L1905.8 745.0 L1907.2 745.1 L1908.6 745.3 L1910.0 745.4 L1911.4 745.5 L1912.8 745.7 L1914.2 745.8 L1915.5 745.9 L1916.9 746.0 L1918.3 746.2 L1919.7 746.3 L1921.1 746.4 L1922.5 746.6 L1923.9 746.7 L1925.2 746.8 L1926.6 746.9 L1928.0 747.0 L1929.4 747.2 L1930.8 747.3 L1932.2 747.4 L1933.6 747.5 L1935.0 747.7 L1936.3 747.8 L1937.7 747.9 L1939.1 748.0 L1940.5 748.1 L1941.9 748.2 L1943.3 748.4 L1944.7 748.5 L1946.1 748.6 L1947.4 748.7 L1948.8 748.8 L1950.2 748.9 L1951.6 749.0 L1953.0 749.1 L1954.4 749.3 L1955.8 749.4 L1957.2 749.5 L1958.5 749.6 L1959.9 749.7 L1961.3 749.8 L1962.7 749.9 L1964.1 750.0 L1965.5 750.1 L1966.9 750.2 L1968.3 750.3 L1969.6 750.4 L1971.0 750.5 L1972.4 750.7 L1973.8 750.8 L1975.2 750.9 L1976.6 751.0 L1978.0 751.1 L1979.4 751.2 L1980.8 751.3 L1982.1 751.4 L1983.5 751.5 L1984.9 751.6 L1986.3 751.7 L1987.7 751.8 L1989.1 751.9 L1990.5 751.9 L1991.9 752.0 L1993.3 752.1 L1994.6 752.2 L1996.0 752.3 L1997.4 752.4 L1998.8 752.5 L2000.2 752.6 L2001.6 752.7 L2003.0 752.8 L2004.4 752.9 L2005.8 753.0 L2007.1 753.1 L2008.5 753.2 L2009.9 753.2 L2011.3 753.3 L2012.7 753.4 L2014.1 753.5 L2015.5 753.6 L2016.9 753.7 L2018.3 753.8 L2019.7 753.9 L2021.0 753.9 L2022.4 754.0 L2023.8 754.1 L2025.2 754.2 L2026.6 754.3 L2028.0 754.4 L2029.4 754.4 L2030.8 754.5 L2032.2 754.6 L2033.6 754.7 L2034.9 754.8 L2036.3 754.9 L2037.7 754.9 L2039.1 755.0 L2040.5 755.1 L2041.9 755.2 L2043.3 755.2 L2044.7 755.3 L2046.1 755.4 L2047.5 755.5 L2048.9 755.6 L2050.2 755.6 L2051.6 755.7 L2053.0 755.8 L2054.4 755.9 L2055.8 755.9 L2057.2 756.0 L2058.6 756.1 L2060.0 756.1 L2061.4 756.2 L2062.8 756.3 L2064.2 756.4 L2065.5 756.4 L2066.9 756.5 L2068.3 756.6 L2069.7 756.6 L2071.1 756.7 L2072.5 756.8 L2073.9 756.9 L2075.3 756.9 L2076.7 757.0 L2078.1 757.1 L2079.5 757.1 L2080.9 757.2 L2082.2 757.3 L2083.6 757.3 L2085.0 757.4 L2086.4 757.5 L2087.8 757.5 L2089.2 757.6 L2090.6 757.6 L2092.0 757.7 L2093.4 757.8 L2094.8 757.8 L2096.2 757.9 L2097.6 758.0 L2098.9 758.0 L2100.3 758.1 L2101.7 758.1 L2103.1 758.2 L2104.5 758.3 L2105.9 758.3 L2107.3 758.4 L2108.7 758.4 L2110.1 758.5 L2111.5 758.6 L2112.9 758.6 L2114.3 758.7 L2115.6 758.7 L2117.0 758.8 L2118.4 758.9 L2119.8 758.9 L2121.2 759.0 L2122.6 759.0 L2124.0 759.1 L2125.4 759.1 L2126.8 759.2 L2128.2 759.2 L2129.6 759.3 L2131.0 759.4 L2132.4 759.4 L2133.7 759.5 L2135.1 759.5 L2136.5 759.6 L2137.9 759.6 L2139.3 759.7 L2140.7 759.7 L2142.1 759.8 L2143.5 759.8 L2144.9 759.9 L2146.3 759.9 L2147.7 760.0 L2149.1 760.0 L2150.5 760.1 L2151.8 760.1 L2153.2 760.2 L2154.6 760.2 L2156.0 760.3 L2157.4 760.3 L2158.8 760.4 L2160.2 760.4 L2161.6 760.5 L2163.0 760.5 L2164.4 760.6 L2165.8 760.6 L2167.2 760.7 L2168.6 760.7 L2169.9 760.8 L2171.3 760.8 L2172.7 760.8 L2174.1 760.9 L2175.5 760.9 L2176.9 761.0 L2178.3 761.0 L2179.7 761.1 L2181.1 761.1 L2182.5 761.2 L2183.9 761.2 L2185.3 761.3 L2186.7 761.3 L2188.0 761.3 L2189.4 761.4 L2190.8 761.4 L2192.2 761.5 L2193.6 761.5 L2195.0 761.6 L2196.4 761.6 L2197.8 761.6 L2199.2 761.7 L2200.6 761.7 L2202.0 761.8 L2203.4 761.8 L2204.8 761.8 L2206.2 761.9 L2207.5 761.9 L2208.9 762.0 L2210.3 762.0 L2211.7 762.0 L2213.1 762.1 L2214.5 762.1 L2215.9 762.2 L2217.3 762.2 L2218.7 762.2 L2220.1 762.3 L2221.5 762.3 L2222.9 762.4 L2224.3 762.4 L2225.6 762.4 L2227.0 762.5 L2228.4 762.5 L2229.8 762.6 L2231.2 762.6 L2232.6 762.6 L2234.0 762.7 L2235.4 762.7 L2236.8 762.7 L2238.2 762.8 L2239.6 762.8 L2241.0 762.9 L2242.3 762.9 L2243.7 762.9 L2245.1 763.0 L2246.5 763.0 L2247.9 763.0 L2249.3 763.1 L2250.7 763.1 L2252.1 763.1 L2253.5 763.2 L2254.9 763.2 L2256.3 763.2 L2257.7 763.3 L2259.1 763.3 L2260.4 763.4 L2261.8 763.4 L2263.2 763.4 L2264.6 763.5 L2266.0 763.5 L2267.4 763.5 L2268.8 763.6 L2270.2 763.6 L2271.6 763.6 L2273.0 763.7 L2274.4 763.7 L2275.8 763.7 L2277.1 763.8 L2278.5 763.8 L2279.9 763.8 L2281.3 763.9 L2282.7 763.9 L2284.1 763.9 L2285.5 764.0 L2286.9 764.0 L2288.3 764.0 L2289.7 764.1 L2291.1 764.1 L2292.5 764.1 L2293.8 764.2 L2295.2 764.2 L2296.6 764.2 L2298.0 764.3 L2299.4 764.3 L2300.8 764.3 L2302.2 764.4 L2303.6 764.4 L2305.0 764.4 L2306.4 764.5 L2307.8 764.5 L2309.1 764.5 L2310.5 764.6 L2311.9 764.6 L2313.3 764.6 L2314.7 764.7 L2316.1 764.7 L2317.5 764.7 L2318.9 764.8 L2320.3 764.8 L2321.7 764.8 L2323.1 764.9 L2324.4 764.9 L2325.8 764.9 L2327.2 765.0 L2328.6 765.0 L2330.0 765.0 L2331.4 765.1 L2332.8 765.1 L2334.2 765.1 L2335.6 765.2 L2337.0 765.2 L2338.3 765.2 L2339.7 765.3 L2341.1 765.3 L2342.5 765.3 L2343.9 765.4 L2345.3 765.4 L2346.7 765.4 L2348.1 765.5 L2349.5 765.5 L2350.9 765.5 L2352.2 765.6 L2353.6 765.6 L2355.0 765.6 L2356.4 765.7 L2357.8 765.7 L2359.2 765.7 L2360.6 765.8 L2362.0 765.8" stroke="#0070C0" stroke-width="12.3"/>
<path d="M385.5 1279.0 L394.0 1269.2 L850.0 1269.2 L850.0 1269.2 L851.4 1269.1 L852.8 1269.1 L854.2 1269.1 L855.6 1269.0 L857.0 1269.0 L858.4 1269.0 L859.8 1269.0 L861.2 1268.9 L862.5 1268.9 L863.9 1268.9 L865.3 1268.9 L866.7 1268.9 L868.1 1268.9 L869.5 1268.9 L870.9 1268.9 L872.3 1268.9 L873.7 1268.9 L875.1 1269.0 L876.5 1269.0 L877.9 1269.0 L879.3 1269.0 L880.6 1269.0 L882.0 1269.0 L883.4 1269.0 L884.8 1269.0 L886.2 1269.0 L887.6 1269.0 L889.0 1269.0 L890.4 1269.0 L891.8 1269.0 L893.2 1269.0 L894.6 1269.0 L895.9 1269.0 L897.3 1269.0 L898.7 1268.9 L900.1 1268.9 L901.5 1268.9 L902.9 1268.8 L904.3 1268.8 L905.7 1268.7 L907.1 1268.7 L908.4 1268.6 L909.8 1268.6 L911.2 1268.5 L912.6 1268.4 L914.0 1268.3 L915.4 1268.2 L916.8 1268.1 L918.2 1268.0 L919.5 1267.9 L920.9 1267.7 L922.3 1267.6 L923.7 1267.4 L925.1 1267.3 L926.5 1267.1 L927.8 1266.9 L929.2 1266.8 L930.6 1266.6 L932.0 1266.4 L933.3 1266.1 L934.7 1265.9 L936.1 1265.7 L937.5 1265.4 L938.8 1265.2 L940.2 1264.9 L941.6 1264.6 L942.9 1264.3 L944.3 1264.0 L945.6 1263.7 L947.0 1263.4 L948.4 1263.0 L949.7 1262.7 L951.1 1262.3 L952.4 1261.9 L953.8 1261.5 L955.1 1261.1 L956.4 1260.7 L957.8 1260.2 L959.1 1259.8 L960.4 1259.3 L961.7 1258.8 L963.0 1258.3 L964.3 1257.8 L965.6 1257.2 L966.9 1256.7 L968.2 1256.1 L969.4 1255.5 L970.7 1254.9 L971.9 1254.3 L973.2 1253.6 L974.4 1253.0 L975.6 1252.3 L976.8 1251.6 L978.0 1250.8 L979.2 1250.1 L980.3 1249.3 L981.5 1248.6 L982.6 1247.8 L983.7 1247.0 L984.9 1246.1 L986.0 1245.3 L987.0 1244.4 L988.1 1243.6 L989.2 1242.7 L990.2 1241.8 L991.2 1240.8 L992.2 1239.9 L993.2 1238.9 L994.2 1238.0 L995.2 1237.0 L996.1 1236.0 L997.0 1235.0 L997.9 1234.0 L998.8 1232.9 L999.7 1231.9 L1000.6 1230.8 L1001.5 1229.8 L1002.3 1228.7 L1003.1 1227.6 L1004.0 1226.5 L1004.8 1225.3 L1005.5 1224.2 L1006.3 1223.1 L1007.1 1221.9 L1007.9 1220.8 L1008.6 1219.6 L1009.3 1218.4 L1010.1 1217.3 L1010.8 1216.1 L1011.5 1214.9 L1012.2 1213.7 L1012.9 1212.4 L1013.5 1211.2 L1014.2 1210.0 L1014.9 1208.7 L1015.5 1207.5 L1016.1 1206.3 L1016.8 1205.0 L1017.4 1203.7 L1018.0 1202.5 L1018.6 1201.2 L1019.2 1199.9 L1019.8 1198.7 L1020.4 1197.4 L1021.0 1196.1 L1021.6 1194.8 L1022.2 1193.5 L1022.7 1192.2 L1023.3 1190.9 L1023.8 1189.6 L1024.4 1188.3 L1024.9 1187.0 L1025.5 1185.7 L1026.0 1184.4 L1026.6 1183.1 L1027.1 1181.8 L1027.6 1180.5 L1028.2 1179.2 L1028.7 1177.9 L1029.2 1176.6 L1029.8 1175.3 L1030.3 1174.0 L1030.8 1172.7 L1031.3 1171.4 L1031.8 1170.1 L1032.4 1168.8 L1032.9 1167.5 L1033.4 1166.2 L1033.9 1164.9 L1034.4 1163.6 L1034.9 1162.3 L1035.4 1161.0 L1035.9 1159.7 L1036.4 1158.4 L1036.9 1157.1 L1037.4 1155.8 L1037.9 1154.5 L1038.4 1153.3 L1038.9 1152.0 L1039.4 1150.7 L1039.8 1149.4 L1040.3 1148.1 L1040.8 1146.8 L1041.3 1145.5 L1041.7 1144.2 L1042.2 1142.9 L1042.7 1141.6 L1043.1 1140.3 L1043.6 1139.0 L1044.1 1137.7 L1044.5 1136.4 L1045.0 1135.1 L1045.4 1133.8 L1045.9 1132.5 L1046.3 1131.2 L1046.8 1129.8 L1047.2 1128.5 L1047.7 1127.2 L1048.1 1125.9 L1048.5 1124.6 L1049.0 1123.3 L1049.4 1122.0 L1049.8 1120.6 L1050.2 1119.3 L1050.7 1118.0 L1051.1 1116.7 L1051.5 1115.3 L1051.9 1114.0 L1052.3 1112.7 L1052.7 1111.4 L1053.1 1110.0 L1053.5 1108.7 L1053.9 1107.4 L1054.3 1106.0 L1054.7 1104.7 L1055.1 1103.4 L1055.5 1102.0 L1055.9 1100.7 L1056.3 1099.4 L1056.7 1098.0 L1057.1 1096.7 L1057.5 1095.3 L1057.8 1094.0 L1058.2 1092.6 L1058.6 1091.3 L1059.0 1090.0 L1059.3 1088.6 L1059.7 1087.3 L1060.1 1085.9 L1060.4 1084.6 L1060.8 1083.2 L1061.2 1081.9 L1061.5 1080.5 L1061.9 1079.2 L1062.3 1077.8 L1062.6 1076.5 L1063.0 1075.1 L1063.4 1073.8 L1063.7 1072.4 L1064.1 1071.1 L1064.4 1069.7 L1064.8 1068.4 L1065.1 1067.0 L1065.5 1065.7 L1065.8 1064.3 L1066.2 1063.0 L1066.5 1061.6 L1066.9 1060.2 L1067.2 1058.9 L1067.6 1057.5 L1067.9 1056.2 L1068.3 1054.8 L1068.6 1053.5 L1069.0 1052.1 L1069.3 1050.8 L1069.7 1049.4 L1070.0 1048.1 L1070.3 1046.7 L1070.7 1045.4 L1071.0 1044.0 L1071.4 1042.7 L1071.7 1041.3 L1072.1 1040.0 L1072.4 1038.6 L1072.7 1037.3 L1073.1 1035.9 L1073.4 1034.6 L1073.8 1033.2 L1074.1 1031.9 L1074.4 1030.5 L1074.8 1029.2 L1075.1 1027.9 L1075.5 1026.5 L1075.8 1025.2 L1076.1 1023.8 L1076.5 1022.5 L1076.8 1021.1 L1077.2 1019.8 L1077.5 1018.4 L1077.8 1017.1 L1078.2 1015.7 L1078.5 1014.4 L1078.8 1013.0 L1079.2 1011.7 L1079.5 1010.3 L1079.9 1009.0 L1080.2 1007.6 L1080.5 1006.3 L1080.9 1005.0 L1081.2 1003.6 L1081.5 1002.3 L1081.9 1000.9 L1082.2 999.6 L1082.5 998.2 L1082.9 996.9 L1083.2 995.5 L1083.6 994.2 L1083.9 992.8 L1084.2 991.5 L1084.6 990.1 L1084.9 988.8 L1085.2 987.4 L1085.6 986.1 L1085.9 984.7 L1086.3 983.4 L1086.6 982.0 L1086.9 980.7 L1087.3 979.3 L1087.6 978.0 L1087.9 976.7 L1088.3 975.3 L1088.6 974.0 L1089.0 972.6 L1089.3 971.3 L1089.6 969.9 L1090.0 968.6 L1090.3 967.2 L1090.6 965.9 L1091.0 964.5 L1091.3 963.2 L1091.7 961.8 L1092.0 960.5 L1092.3 959.1 L1092.7 957.7 L1093.0 956.4 L1093.4 955.0 L1093.7 953.7 L1094.1 952.3 L1094.4 951.0 L1094.7 949.6 L1095.1 948.3 L1095.4 946.9 L1095.8 945.6 L1096.1 944.2 L1096.5 942.9 L1096.8 941.5 L1097.2 940.2 L1097.5 938.8 L1097.9 937.5 L1098.2 936.1 L1098.6 934.8 L1098.9 933.4 L1099.3 932.1 L1099.6 930.7 L1100.0 929.4 L1100.4 928.0 L1100.7 926.7 L1101.1 925.3 L1101.4 924.0 L1101.8 922.6 L1102.2 921.3 L1102.5 919.9 L1102.9 918.6 L1103.3 917.2 L1103.7 915.9 L1104.0 914.5 L1104.4 913.2 L1104.8 911.8 L1105.2 910.5 L1105.6 909.2 L1105.9 907.8 L1106.3 906.5 L1106.7 905.1 L1107.1 903.8 L1107.5 902.5 L1107.9 901.1 L1108.3 899.8 L1108.7 898.5 L1109.1 897.1 L1109.5 895.8 L1109.9 894.5 L1110.3 893.1 L1110.8 891.8 L1111.2 890.5 L1111.6 889.2 L1112.0 887.8 L1112.4 886.5 L1112.9 885.2 L1113.3 883.9 L1113.7 882.5 L1114.2 881.2 L1114.6 879.9 L1115.0 878.6 L1115.5 877.3 L1115.9 875.9 L1116.4 874.6 L1116.8 873.3 L1117.2 872.0 L1117.7 870.7 L1118.1 869.4 L1118.6 868.1 L1119.0 866.7 L1119.5 865.4 L1120.0 864.1 L1120.4 862.8 L1120.9 861.5 L1121.3 860.2 L1121.8 858.9 L1122.3 857.6 L1122.7 856.3 L1123.2 855.0 L1123.7 853.7 L1124.2 852.4 L1124.6 851.0 L1125.1 849.7 L1125.6 848.4 L1126.1 847.1 L1126.5 845.8 L1127.0 844.5 L1127.5 843.2 L1128.0 841.9 L1128.5 840.6 L1129.0 839.3 L1129.4 838.0 L1129.9 836.7 L1130.4 835.4 L1130.9 834.1 L1131.4 832.8 L1131.9 831.5 L1132.4 830.2 L1132.9 828.9 L1133.4 827.6 L1133.9 826.3 L1134.4 825.0 L1134.9 823.7 L1135.4 822.4 L1135.9 821.1 L1136.4 819.9 L1136.9 818.6 L1137.4 817.3 L1137.9 816.0 L1138.4 814.7 L1138.9 813.4 L1139.4 812.1 L1139.9 810.8 L1140.4 809.5 L1140.9 808.2 L1141.5 806.9 L1142.0 805.6 L1142.5 804.3 L1143.0 803.0 L1143.5 801.7 L1144.0 800.4 L1144.5 799.1 L1145.0 797.8 L1145.5 796.5 L1146.1 795.2 L1146.6 793.9 L1147.1 792.6 L1147.6 791.3 L1148.1 790.0 L1148.6 788.7 L1149.1 787.4 L1149.7 786.2 L1150.2 784.9 L1150.7 783.6 L1151.2 782.3 L1151.7 781.0 L1152.2 779.7 L1152.8 778.4 L1153.3 777.1 L1153.8 775.8 L1154.3 774.5 L1154.8 773.2 L1155.3 771.9 L1155.8 770.6 L1156.4 769.3 L1156.9 768.0 L1157.4 766.7 L1157.9 765.4 L1158.4 764.1 L1159.0 762.8 L1159.5 761.5 L1160.0 760.2 L1160.5 758.9 L1161.1 757.6 L1161.6 756.3 L1162.1 755.0 L1162.7 753.7 L1163.2 752.4 L1163.7 751.1 L1164.3 749.8 L1164.8 748.5 L1165.3 747.2 L1165.9 746.0 L1166.4 744.7 L1167.0 743.4 L1167.5 742.1 L1168.1 740.8 L1168.6 739.5 L1169.2 738.3 L1169.7 737.0 L1170.3 735.7 L1170.9 734.4 L1171.4 733.2 L1172.0 731.9 L1172.6 730.6 L1173.1 729.4 L1173.7 728.1 L1174.3 726.8 L1174.9 725.6 L1175.5 724.3 L1176.1 723.1 L1176.7 721.8 L1177.3 720.6 L1177.9 719.3 L1178.5 718.1 L1179.1 716.8 L1179.7 715.6 L1180.3 714.4 L1180.9 713.1 L1181.6 711.9 L1182.2 710.7 L1182.8 709.5 L1183.5 708.2 L1184.1 707.0 L1184.8 705.8 L1185.4 704.6 L1186.1 703.4 L1186.8 702.2 L1187.4 701.0 L1188.1 699.8 L1188.8 698.6 L1189.5 697.4 L1190.2 696.2 L1190.9 695.0 L1191.6 693.8 L1192.3 692.6 L1193.0 691.4 L1193.7 690.3 L1194.4 689.1 L1195.2 687.9 L1195.9 686.7 L1196.7 685.6 L1197.4 684.4 L1198.2 683.2 L1198.9 682.1 L1199.7 680.9 L1200.5 679.8 L1201.3 678.6 L1202.1 677.5 L1202.9 676.3 L1203.7 675.2 L1204.5 674.1 L1205.3 672.9 L1206.2 671.8 L1207.0 670.7 L1207.8 669.6 L1208.7 668.4 L1209.6 667.3 L1210.4 666.2 L1211.3 665.1 L1212.2 664.0 L1213.1 662.9 L1214.0 661.8 L1214.9 660.7 L1215.8 659.6 L1216.8 658.5 L1217.7 657.4 L1218.7 656.4 L1219.6 655.3 L1220.6 654.3 L1221.5 653.2 L1222.5 652.2 L1223.5 651.1 L1224.5 650.1 L1225.5 649.1 L1226.5 648.1 L1227.6 647.1 L1228.6 646.2 L1229.6 645.2 L1230.7 644.3 L1231.7 643.3 L1232.8 642.4 L1233.9 641.5 L1235.0 640.6 L1236.1 639.7 L1237.2 638.9 L1238.3 638.0 L1239.4 637.2 L1240.5 636.4 L1241.7 635.6 L1242.8 634.8 L1243.9 634.0 L1245.1 633.3 L1246.3 632.6 L1247.5 631.9 L1248.7 631.2 L1249.9 630.5 L1251.1 629.9 L1252.3 629.2 L1253.5 628.6 L1254.7 628.0 L1256.0 627.5 L1257.2 626.9 L1258.5 626.4 L1259.7 625.9 L1261.0 625.4 L1262.3 624.9 L1263.6 624.5 L1264.9 624.0 L1266.2 623.6 L1267.5 623.2 L1268.8 622.8 L1270.1 622.4 L1271.4 622.1 L1272.7 621.8 L1274.1 621.4 L1275.4 621.1 L1276.8 620.8 L1278.1 620.6 L1279.5 620.3 L1280.8 620.1 L1282.2 619.8 L1283.5 619.6 L1284.9 619.4 L1286.3 619.3 L1287.7 619.1 L1289.0 618.9 L1290.4 618.8 L1291.8 618.7 L1293.2 618.6 L1294.6 618.5 L1296.0 618.4 L1297.4 618.3 L1298.8 618.2 L1300.2 618.2 L1301.6 618.1 L1303.0 618.1 L1304.4 618.1 L1305.8 618.1 L1307.2 618.1 L1308.6 618.1 L1310.0 618.1 L1311.4 618.2 L1312.9 618.2 L1314.3 618.3 L1315.7 618.4 L1317.1 618.4 L1318.5 618.5 L1319.9 618.6 L1321.3 618.7 L1322.7 618.8 L1324.1 619.0 L1325.5 619.1 L1326.9 619.2 L1328.3 619.4 L1329.7 619.5 L1331.1 619.7 L1332.5 619.9 L1333.9 620.1 L1335.3 620.2 L1336.7 620.4 L1338.0 620.6 L1339.4 620.8 L1340.8 621.1 L1342.2 621.3 L1343.6 621.5 L1344.9 621.7 L1346.3 622.0 L1347.7 622.2 L1349.0 622.5 L1350.4 622.7 L1351.8 623.0 L1353.1 623.3 L1354.5 623.6 L1355.9 623.8 L1357.2 624.1 L1358.6 624.4 L1359.9 624.7 L1361.3 625.0 L1362.7 625.3 L1364.0 625.7 L1365.4 626.0 L1366.7 626.3 L1368.1 626.6 L1369.4 627.0 L1370.7 627.3 L1372.1 627.7 L1373.4 628.0 L1374.8 628.4 L1376.1 628.7 L1377.5 629.1 L1378.8 629.5 L1380.1 629.9 L1381.5 630.2 L1382.8 630.6 L1384.1 631.0 L1385.5 631.4 L1386.8 631.8 L1388.1 632.2 L1389.5 632.6 L1390.8 633.0 L1392.1 633.4 L1393.4 633.8 L1394.8 634.2 L1396.1 634.6 L1397.4 635.1 L1398.7 635.5 L1400.1 635.9 L1401.4 636.3 L1402.7 636.8 L1404.0 637.2 L1405.4 637.6 L1406.7 638.1 L1408.0 638.5 L1409.3 638.9 L1410.6 639.4 L1412.0 639.8 L1413.3 640.3 L1414.6 640.7 L1415.9 641.2 L1417.2 641.6 L1418.5 642.1 L1419.9 642.6 L1421.2 643.0 L1422.5 643.5 L1423.8 643.9 L1425.1 644.4 L1426.4 644.8 L1427.7 645.3 L1429.1 645.8 L1430.4 646.2 L1431.7 646.7 L1433.0 647.2 L1434.3 647.6 L1435.6 648.1 L1436.9 648.6 L1438.2 649.0 L1439.6 649.5 L1440.9 650.0 L1442.2 650.4 L1443.5 650.9 L1444.8 651.3 L1446.1 651.8 L1447.4 652.3 L1448.8 652.7 L1450.1 653.2 L1451.4 653.7 L1452.7 654.1 L1454.0 654.6 L1455.3 655.0 L1456.7 655.5 L1458.0 655.9 L1459.3 656.4 L1460.6 656.8 L1461.9 657.3 L1463.2 657.7 L1464.6 658.2 L1465.9 658.6 L1467.2 659.1 L1468.5 659.5 L1469.8 660.0 L1471.2 660.4 L1472.5 660.8 L1473.8 661.3 L1475.1 661.7 L1476.5 662.1 L1477.8 662.5 L1479.1 663.0 L1480.4 663.4 L1481.8 663.8 L1483.1 664.2 L1484.4 664.7 L1485.7 665.1 L1487.1 665.5 L1488.4 665.9 L1489.7 666.4 L1491.1 666.8 L1492.4 667.2 L1493.7 667.6 L1495.0 668.0 L1496.4 668.5 L1497.7 668.9 L1499.0 669.3 L1500.3 669.7 L1501.7 670.2 L1503.0 670.6 L1504.3 671.0 L1505.7 671.4 L1507.0 671.9 L1508.3 672.3 L1509.6 672.7 L1511.0 673.2 L1512.3 673.6 L1513.6 674.0 L1514.9 674.4 L1516.3 674.9 L1517.6 675.3 L1518.9 675.7 L1520.2 676.2 L1521.6 676.6 L1522.9 677.0 L1524.2 677.4 L1525.5 677.9 L1526.9 678.3 L1528.2 678.7 L1529.5 679.1 L1530.9 679.5 L1532.2 680.0 L1533.5 680.4 L1534.8 680.8 L1536.2 681.2 L1537.5 681.6 L1538.8 682.0 L1540.2 682.4 L1541.5 682.8 L1542.9 683.2 L1544.2 683.5 L1545.5 683.9 L1546.9 684.3 L1548.2 684.7 L1549.5 685.0 L1550.9 685.4 L1552.2 685.7 L1553.6 686.1 L1554.9 686.4 L1556.3 686.8 L1557.6 687.1 L1559.0 687.4 L1560.3 687.8 L1561.7 688.1 L1563.0 688.4 L1564.4 688.7 L1565.7 689.0 L1567.1 689.3 L1568.5 689.6 L1569.8 689.9 L1571.2 690.2 L1572.5 690.5 L1573.9 690.8 L1575.2 691.1 L1576.6 691.4 L1578.0 691.7 L1579.3 692.0 L1580.7 692.2 L1582.1 692.5 L1583.4 692.8 L1584.8 693.1 L1586.2 693.3 L1587.5 693.6 L1588.9 693.9 L1590.3 694.1 L1591.6 694.4 L1593.0 694.7 L1594.4 694.9 L1595.7 695.2 L1597.1 695.5 L1598.4 695.7 L1599.8 696.0 L1601.2 696.3 L1602.6 696.5 L1603.9 696.8 L1605.3 697.1 L1606.7 697.3 L1608.0 697.6 L1609.4 697.9 L1610.8 698.1 L1612.1 698.4 L1613.5 698.6 L1614.9 698.9 L1616.2 699.2 L1617.6 699.4 L1619.0 699.7 L1620.3 700.0 L1621.7 700.2 L1623.1 700.5 L1624.4 700.8 L1625.8 701.0 L1627.2 701.3 L1628.5 701.5 L1629.9 701.8 L1631.3 702.1 L1632.6 702.3 L1634.0 702.6 L1635.4 702.8 L1636.7 703.1 L1638.1 703.4 L1639.5 703.6 L1640.8 703.9 L1642.2 704.1 L1643.6 704.4 L1645.0 704.7 L1646.3 704.9 L1647.7 705.2 L1649.1 705.4 L1650.4 705.7 L1651.8 705.9 L1653.2 706.2 L1654.5 706.5 L1655.9 706.7 L1657.3 707.0 L1658.6 707.2 L1660.0 707.5 L1661.4 707.7 L1662.8 708.0 L1664.1 708.2 L1665.5 708.5 L1666.9 708.7 L1668.2 709.0 L1669.6 709.3 L1671.0 709.5 L1672.3 709.8 L1673.7 710.0 L1675.1 710.3 L1676.5 710.5 L1677.8 710.8 L1679.2 711.0 L1680.6 711.3 L1681.9 711.5 L1683.3 711.7 L1684.7 712.0 L1686.1 712.2 L1687.4 712.5 L1688.8 712.7 L1690.2 713.0 L1691.5 713.2 L1692.9 713.5 L1694.3 713.7 L1695.7 714.0 L1697.0 714.2 L1698.4 714.4 L1699.8 714.7 L1701.1 714.9 L1702.5 715.2 L1703.9 715.4 L1705.3 715.6 L1706.6 715.9 L1708.0 716.1 L1709.4 716.4 L1710.7 716.6 L1712.1 716.8 L1713.5 717.1 L1714.9 717.3 L1716.2 717.5 L1717.6 717.8 L1719.0 718.0 L1720.4 718.2 L1721.7 718.5 L1723.1 718.7 L1724.5 718.9 L1725.9 719.2 L1727.2 719.4 L1728.6 719.6 L1730.0 719.9 L1731.3 720.1 L1732.7 720.3 L1734.1 720.5 L1735.5 720.8 L1736.8 721.0 L1738.2 721.2 L1739.6 721.4 L1741.0 721.7 L1742.3 721.9 L1743.7 722.1 L1745.1 722.3 L1746.5 722.6 L1747.8 722.8 L1749.2 723.0 L1750.6 723.2 L1752.0 723.4 L1753.3 723.6 L1754.7 723.9 L1756.1 724.1 L1757.5 724.3 L1758.8 724.5 L1760.2 724.7 L1761.6 724.9 L1763.0 725.1 L1764.4 725.4 L1765.7 725.6 L1767.1 725.8 L1768.5 726.0 L1769.9 726.2 L1771.2 726.4 L1772.6 726.6 L1774.0 726.8 L1775.4 727.0 L1776.7 727.2 L1778.1 727.4 L1779.5 727.6 L1780.9 727.8 L1782.3 728.0 L1783.6 728.2 L1785.0 728.4 L1786.4 728.6 L1787.8 728.8 L1789.1 729.0 L1790.5 729.2 L1791.9 729.4 L1793.3 729.6 L1794.7 729.8 L1796.0 730.0 L1797.4 730.2 L1798.8 730.4 L1800.2 730.5 L1801.5 730.7 L1802.9 730.9 L1804.3 731.1 L1805.7 731.3 L1807.1 731.5 L1808.4 731.7 L1809.8 731.8 L1811.2 732.0 L1812.6 732.2 L1814.0 732.4 L1815.3 732.6 L1816.7 732.7 L1818.1 732.9 L1819.5 733.1 L1820.9 733.3 L1822.2 733.5 L1823.6 733.6 L1825.0 733.8 L1826.4 734.0 L1827.8 734.1 L1829.2 734.3 L1830.5 734.5 L1831.9 734.7 L1833.3 734.8 L1834.7 735.0 L1836.1 735.2 L1837.4 735.3 L1838.8 735.5 L1840.2 735.7 L1841.6 735.8 L1843.0 736.0 L1844.3 736.2 L1845.7 736.3 L1847.1 736.5 L1848.5 736.6 L1849.9 736.8 L1851.3 737.0 L1852.6 737.1 L1854.0 737.3 L1855.4 737.4 L1856.8 737.6 L1858.2 737.8 L1859.6 737.9 L1860.9 738.1 L1862.3 738.2 L1863.7 738.4 L1865.1 738.5 L1866.5 738.7 L1867.9 738.8 L1869.2 739.0 L1870.6 739.1 L1872.0 739.3 L1873.4 739.4 L1874.8 739.6 L1876.2 739.7 L1877.5 739.9 L1878.9 740.0 L1880.3 740.2 L1881.7 740.3 L1883.1 740.4 L1884.5 740.6 L1885.8 740.7 L1887.2 740.9 L1888.6 741.0 L1890.0 741.1 L1891.4 741.3 L1892.8 741.4 L1894.2 741.6 L1895.5 741.7 L1896.9 741.8 L1898.3 742.0 L1899.7 742.1 L1901.1 742.2 L1902.5 742.4 L1903.8 742.5 L1905.2 742.6 L1906.6 742.8 L1908.0 742.9 L1909.4 743.0 L1910.8 743.2 L1912.2 743.3 L1913.5 743.4 L1914.9 743.5 L1916.3 743.7 L1917.7 743.8 L1919.1 743.9 L1920.5 744.1 L1921.9 744.2 L1923.2 744.3 L1924.6 744.4 L1926.0 744.5 L1927.4 744.7 L1928.8 744.8 L1930.2 744.9 L1931.6 745.0 L1933.0 745.2 L1934.3 745.3 L1935.7 745.4 L1937.1 745.5 L1938.5 745.6 L1939.9 745.7 L1941.3 745.9 L1942.7 746.0 L1944.1 746.1 L1945.4 746.2 L1946.8 746.3 L1948.2 746.4 L1949.6 746.5 L1951.0 746.6 L1952.4 746.8 L1953.8 746.9 L1955.2 747.0 L1956.5 747.1 L1957.9 747.2 L1959.3 747.3 L1960.7 747.4 L1962.1 747.5 L1963.5 747.6 L1964.9 747.7 L1966.3 747.8 L1967.6 747.9 L1969.0 748.0 L1970.4 748.2 L1971.8 748.3 L1973.2 748.4 L1974.6 748.5 L1976.0 748.6 L1977.4 748.7 L1978.8 748.8 L1980.1 748.9 L1981.5 749.0 L1982.9 749.1 L1984.3 749.2 L1985.7 749.3 L1987.1 749.4 L1988.5 749.4 L1989.9 749.5 L1991.3 749.6 L1992.6 749.7 L1994.0 749.8 L1995.4 749.9 L1996.8 750.0 L1998.2 750.1 L1999.6 750.2 L2001.0 750.3 L2002.4 750.4 L2003.8 750.5 L2005.1 750.6 L2006.5 750.7 L2007.9 750.7 L2009.3 750.8 L2010.7 750.9 L2012.1 751.0 L2013.5 751.1 L2014.9 751.2 L2016.3 751.3 L2017.7 751.4 L2019.0 751.4 L2020.4 751.5 L2021.8 751.6 L2023.2 751.7 L2024.6 751.8 L2026.0 751.9 L2027.4 751.9 L2028.8 752.0 L2030.2 752.1 L2031.6 752.2 L2032.9 752.3 L2034.3 752.4 L2035.7 752.4 L2037.1 752.5 L2038.5 752.6 L2039.9 752.7 L2041.3 752.7 L2042.7 752.8 L2044.1 752.9 L2045.5 753.0 L2046.9 753.1 L2048.2 753.1 L2049.6 753.2 L2051.0 753.3 L2052.4 753.4 L2053.8 753.4 L2055.2 753.5 L2056.6 753.6 L2058.0 753.6 L2059.4 753.7 L2060.8 753.8 L2062.2 753.9 L2063.5 753.9 L2064.9 754.0 L2066.3 754.1 L2067.7 754.1 L2069.1 754.2 L2070.5 754.3 L2071.9 754.4 L2073.3 754.4 L2074.7 754.5 L2076.1 754.6 L2077.5 754.6 L2078.9 754.7 L2080.2 754.8 L2081.6 754.8 L2083.0 754.9 L2084.4 755.0 L2085.8 755.0 L2087.2 755.1 L2088.6 755.1 L2090.0 755.2 L2091.4 755.3 L2092.8 755.3 L2094.2 755.4 L2095.6 755.5 L2096.9 755.5 L2098.3 755.6 L2099.7 755.6 L2101.1 755.7 L2102.5 755.8 L2103.9 755.8 L2105.3 755.9 L2106.7 755.9 L2108.1 756.0 L2109.5 756.1 L2110.9 756.1 L2112.3 756.2 L2113.6 756.2 L2115.0 756.3 L2116.4 756.4 L2117.8 756.4 L2119.2 756.5 L2120.6 756.5 L2122.0 756.6 L2123.4 756.6 L2124.8 756.7 L2126.2 756.7 L2127.6 756.8 L2129.0 756.9 L2130.4 756.9 L2131.7 757.0 L2133.1 757.0 L2134.5 757.1 L2135.9 757.1 L2137.3 757.2 L2138.7 757.2 L2140.1 757.3 L2141.5 757.3 L2142.9 757.4 L2144.3 757.4 L2145.7 757.5 L2147.1 757.5 L2148.5 757.6 L2149.8 757.6 L2151.2 757.7 L2152.6 757.7 L2154.0 757.8 L2155.4 757.8 L2156.8 757.9 L2158.2 757.9 L2159.6 758.0 L2161.0 758.0 L2162.4 758.1 L2163.8 758.1 L2165.2 758.2 L2166.6 758.2 L2167.9 758.3 L2169.3 758.3 L2170.7 758.3 L2172.1 758.4 L2173.5 758.4 L2174.9 758.5 L2176.3 758.5 L2177.7 758.6 L2179.1 758.6 L2180.5 758.7 L2181.9 758.7 L2183.3 758.8 L2184.7 758.8 L2186.0 758.8 L2187.4 758.9 L2188.8 758.9 L2190.2 759.0 L2191.6 759.0 L2193.0 759.1 L2194.4 759.1 L2195.8 759.1 L2197.2 759.2 L2198.6 759.2 L2200.0 759.3 L2201.4 759.3 L2202.8 759.3 L2204.2 759.4 L2205.5 759.4 L2206.9 759.5 L2208.3 759.5 L2209.7 759.5 L2211.1 759.6 L2212.5 759.6 L2213.9 759.7 L2215.3 759.7 L2216.7 759.7 L2218.1 759.8 L2219.5 759.8 L2220.9 759.9 L2222.3 759.9 L2223.6 759.9 L2225.0 760.0 L2226.4 760.0 L2227.8 760.1 L2229.2 760.1 L2230.6 760.1 L2232.0 760.2 L2233.4 760.2 L2234.8 760.2 L2236.2 760.3 L2237.6 760.3 L2239.0 760.4 L2240.3 760.4 L2241.7 760.4 L2243.1 760.5 L2244.5 760.5 L2245.9 760.5 L2247.3 760.6 L2248.7 760.6 L2250.1 760.6 L2251.5 760.7 L2252.9 760.7 L2254.3 760.7 L2255.7 760.8 L2257.1 760.8 L2258.4 760.9 L2259.8 760.9 L2261.2 760.9 L2262.6 761.0 L2264.0 761.0 L2265.4 761.0 L2266.8 761.1 L2268.2 761.1 L2269.6 761.1 L2271.0 761.2 L2272.4 761.2 L2273.8 761.2 L2275.1 761.3 L2276.5 761.3 L2277.9 761.3 L2279.3 761.4 L2280.7 761.4 L2282.1 761.4 L2283.5 761.5 L2284.9 761.5 L2286.3 761.5 L2287.7 761.6 L2289.1 761.6 L2290.5 761.6 L2291.8 761.7 L2293.2 761.7 L2294.6 761.7 L2296.0 761.8 L2297.4 761.8 L2298.8 761.8 L2300.2 761.9 L2301.6 761.9 L2303.0 761.9 L2304.4 762.0 L2305.8 762.0 L2307.1 762.0 L2308.5 762.1 L2309.9 762.1 L2311.3 762.1 L2312.7 762.2 L2314.1 762.2 L2315.5 762.2 L2316.9 762.3 L2318.3 762.3 L2319.7 762.3 L2321.1 762.4 L2322.4 762.4 L2323.8 762.4 L2325.2 762.5 L2326.6 762.5 L2328.0 762.5 L2329.4 762.6 L2330.8 762.6 L2332.2 762.6 L2333.6 762.7 L2335.0 762.7 L2336.3 762.7 L2337.7 762.8 L2339.1 762.8 L2340.5 762.8 L2341.9 762.9 L2343.3 762.9 L2344.7 762.9 L2346.1 763.0 L2347.5 763.0 L2348.9 763.0 L2350.2 763.1 L2351.6 763.1 L2353.0 763.1 L2354.4 763.2 L2355.8 763.2 L2357.2 763.2 L2358.6 763.3 L2360.0 763.3" stroke="#002060" stroke-width="12.3"/>
<path d="M385.5 1602.4 L392.5 1595.0 L560.0 1595.0 L560.0 1594.9 L561.7 1594.9 L563.4 1595.0 L565.1 1595.0 L566.8 1595.0 L568.6 1595.0 L570.3 1595.0 L572.1 1594.9 L573.9 1594.7 L575.7 1594.6 L577.4 1594.4 L579.2 1594.2 L581.2 1596.4 L583.0 1596.0 L584.7 1595.7 L586.4 1595.2 L588.1 1594.8 L589.8 1594.2 L591.4 1593.6 L593.0 1593.0 L594.6 1592.3 L596.1 1591.5 L597.6 1590.6 L599.1 1589.7 L600.5 1588.8 L601.9 1587.7 L603.2 1586.7 L604.6 1585.5 L605.8 1584.4 L607.1 1583.2 L608.2 1581.9 L609.4 1580.6 L610.5 1579.3 L611.6 1578.0 L612.6 1576.6 L613.6 1575.2 L614.6 1573.8 L615.5 1572.3 L616.4 1570.9 L617.2 1569.4 L618.1 1567.9 L618.8 1566.4 L619.6 1564.8 L620.3 1563.3 L621.0 1561.7 L621.7 1560.1 L622.4 1558.5 L623.0 1556.9 L623.6 1555.2 L624.2 1553.6 L624.8 1552.0 L625.4 1550.3 L625.9 1548.6 L626.5 1547.0 L627.0 1545.3 L627.5 1543.6 L628.0 1541.9 L628.5 1540.2 L629.0 1538.5 L629.5 1536.8 L630.0 1535.1 L630.5 1533.4 L631.0 1531.7 L631.5 1530.0 L631.9 1528.3 L632.4 1526.6 L632.9 1524.9 L633.4 1523.2 L633.9 1521.5 L634.5 1519.8 L635.0 1518.2 L635.5 1516.5 L636.0 1514.8 L636.6 1513.2 L637.1 1511.5 L637.6 1509.8 L638.1 1508.2 L638.7 1506.5 L639.2 1504.9 L639.8 1503.2 L640.3 1501.5 L640.8 1499.9 L641.4 1498.2 L641.9 1496.6 L642.4 1494.9 L642.9 1493.3 L643.5 1491.6 L644.0 1490.0 L644.5 1488.3 L645.0 1486.7 L645.5 1485.0 L646.0 1483.4 L646.5 1481.7 L647.0 1480.0 L647.5 1478.4 L648.0 1476.7 L648.4 1475.1 L648.9 1473.4 L649.3 1471.7 L649.8 1470.0 L650.2 1468.4 L650.7 1466.7 L651.1 1465.0 L651.5 1463.3 L652.0 1461.7 L652.4 1460.0 L652.8 1458.3 L653.2 1456.6 L653.6 1454.9 L654.0 1453.2 L654.4 1451.6 L654.8 1449.9 L655.2 1448.2 L655.6 1446.5 L655.9 1444.8 L656.3 1443.1 L656.7 1441.4 L657.0 1439.7 L657.4 1438.0 L657.8 1436.3 L658.1 1434.6 L658.5 1432.9 L658.8 1431.2 L659.1 1429.5 L659.5 1427.8 L659.8 1426.1 L660.2 1424.4 L660.5 1422.7 L660.8 1421.0 L661.1 1419.2 L661.5 1417.5 L661.8 1415.8 L662.1 1414.1 L662.4 1412.4 L662.7 1410.7 L663.0 1409.0 L663.3 1407.3 L663.6 1405.5 L663.9 1403.8 L664.2 1402.1 L664.5 1400.4 L664.8 1398.7 L665.1 1397.0 L665.4 1395.2 L665.7 1393.5 L666.0 1391.8 L666.3 1390.1 L666.6 1388.4 L666.9 1386.6 L667.2 1384.9 L667.4 1383.2 L667.7 1381.5 L668.0 1379.8 L668.3 1378.0 L668.6 1376.3 L668.9 1374.6 L669.2 1372.9 L669.4 1371.1 L669.7 1369.4 L670.0 1367.7 L670.3 1366.0 L670.6 1364.3 L670.9 1362.5 L671.1 1360.8 L671.4 1359.1 L671.7 1357.4 L672.0 1355.7 L672.3 1353.9 L672.6 1352.2 L672.9 1350.5 L673.2 1348.8 L673.5 1347.1 L673.8 1345.3 L674.1 1343.6 L674.4 1341.9 L674.7 1340.2 L675.0 1338.5 L675.3 1336.7 L675.6 1335.0 L675.9 1333.3 L676.2 1331.6 L676.5 1329.9 L676.8 1328.2 L677.1 1326.5 L677.4 1324.7 L677.7 1323.0 L678.1 1321.3 L678.4 1319.6 L678.7 1317.9 L679.0 1316.2 L679.3 1314.5 L679.6 1312.8 L680.0 1311.0 L680.3 1309.3 L680.6 1307.6 L680.9 1305.9 L681.3 1304.2 L681.6 1302.5 L681.9 1300.8 L682.3 1299.1 L682.6 1297.4 L682.9 1295.7 L683.3 1294.0 L683.6 1292.3 L683.9 1290.5 L684.3 1288.8 L684.6 1287.1 L684.9 1285.4 L685.3 1283.7 L685.6 1282.0 L686.0 1280.3 L686.3 1278.6 L686.7 1276.9 L687.0 1275.2 L687.3 1273.5 L687.7 1271.8 L688.0 1270.1 L688.4 1268.4 L688.7 1266.7 L689.1 1265.0 L689.4 1263.3 L689.8 1261.6 L690.1 1259.9 L690.5 1258.2 L690.8 1256.5 L691.2 1254.8 L691.6 1253.1 L691.9 1251.4 L692.3 1249.6 L692.6 1247.9 L693.0 1246.2 L693.3 1244.5 L693.7 1242.8 L694.0 1241.1 L694.4 1239.4 L694.8 1237.7 L695.1 1236.0 L695.5 1234.3 L695.8 1232.6 L696.2 1230.9 L696.6 1229.2 L696.9 1227.5 L697.3 1225.8 L697.7 1224.1 L698.0 1222.4 L698.4 1220.7 L698.7 1219.0 L699.1 1217.3 L699.5 1215.6 L699.8 1213.9 L700.2 1212.2 L700.6 1210.5 L700.9 1208.8 L701.3 1207.1 L701.7 1205.4 L702.0 1203.7 L702.4 1202.0 L702.8 1200.3 L703.1 1198.6 L703.5 1196.9 L703.9 1195.2 L704.2 1193.5 L704.6 1191.8 L705.0 1190.1 L705.3 1188.4 L705.7 1186.7 L706.1 1185.0 L706.4 1183.3 L706.8 1181.6 L707.2 1179.9 L707.5 1178.2 L707.9 1176.5 L708.2 1174.8 L708.6 1173.1 L709.0 1171.4 L709.3 1169.7 L709.7 1168.0 L710.1 1166.3 L710.4 1164.6 L710.8 1162.9 L711.2 1161.2 L711.5 1159.5 L711.9 1157.8 L712.3 1156.1 L712.6 1154.4 L713.0 1152.7 L713.4 1151.0 L713.7 1149.3 L714.1 1147.6 L714.5 1145.9 L714.8 1144.2 L715.2 1142.5 L715.6 1140.8 L715.9 1139.1 L716.3 1137.4 L716.7 1135.7 L717.1 1134.0 L717.4 1132.3 L717.8 1130.6 L718.2 1128.9 L718.5 1127.2 L718.9 1125.5 L719.3 1123.8 L719.7 1122.1 L720.0 1120.4 L720.4 1118.7 L720.8 1117.0 L721.1 1115.3 L721.5 1113.6 L721.9 1111.9 L722.3 1110.2 L722.7 1108.5 L723.0 1106.8 L723.4 1105.1 L723.8 1103.4 L724.2 1101.7 L724.6 1100.0 L724.9 1098.3 L725.3 1096.6 L725.7 1094.9 L726.1 1093.2 L726.5 1091.5 L726.9 1089.8 L727.2 1088.1 L727.6 1086.4 L728.0 1084.7 L728.4 1083.0 L728.8 1081.4 L729.2 1079.7 L729.6 1078.0 L730.0 1076.3 L730.4 1074.6 L730.7 1072.9 L731.1 1071.2 L731.5 1069.5 L731.9 1067.8 L732.3 1066.1 L732.7 1064.4 L733.1 1062.7 L733.5 1061.0 L733.9 1059.3 L734.3 1057.6 L734.7 1055.9 L735.2 1054.2 L735.6 1052.6 L736.0 1050.9 L736.4 1049.2 L736.8 1047.5 L737.2 1045.8 L737.6 1044.1 L738.0 1042.4 L738.4 1040.7 L738.9 1039.0 L739.3 1037.3 L739.7 1035.7 L740.1 1034.0 L740.5 1032.3 L741.0 1030.6 L741.4 1028.9 L741.8 1027.2 L742.2 1025.5 L742.7 1023.9 L743.1 1022.2 L743.5 1020.5 L744.0 1018.8 L744.4 1017.1 L744.9 1015.4 L745.3 1013.7 L745.7 1012.1 L746.2 1010.4 L746.6 1008.7 L747.1 1007.0 L747.5 1005.3 L748.0 1003.7 L748.4 1002.0 L748.9 1000.3 L749.3 998.6 L749.8 996.9 L750.2 995.3 L750.7 993.6 L751.1 991.9 L751.6 990.2 L752.1 988.6 L752.5 986.9 L753.0 985.2 L753.5 983.5 L753.9 981.9 L754.4 980.2 L754.9 978.5 L755.4 976.8 L755.9 975.2 L756.3 973.5 L756.8 971.8 L757.3 970.1 L757.8 968.5 L758.3 966.8 L758.8 965.1 L759.3 963.5 L759.8 961.8 L760.3 960.1 L760.8 958.5 L761.3 956.8 L761.8 955.1 L762.3 953.5 L762.8 951.8 L763.3 950.1 L763.8 948.5 L764.3 946.8 L764.8 945.2 L765.4 943.5 L765.9 941.8 L766.4 940.2 L766.9 938.5 L767.5 936.9 L768.0 935.2 L768.5 933.5 L769.1 931.9 L769.6 930.2 L770.2 928.6 L770.7 926.9 L771.2 925.3 L771.8 923.6 L772.3 922.0 L772.9 920.3 L773.5 918.7 L774.0 917.0 L774.6 915.4 L775.1 913.7 L775.7 912.1 L776.3 910.4 L776.8 908.8 L777.4 907.1 L778.0 905.5 L778.6 903.8 L779.2 902.2 L779.7 900.6 L780.3 898.9 L780.9 897.3 L781.5 895.6 L782.1 894.0 L782.7 892.4 L783.3 890.7 L783.9 889.1 L784.5 887.4 L785.1 885.8 L785.8 884.2 L786.4 882.5 L787.0 880.9 L787.6 879.3 L788.2 877.6 L788.9 876.0 L789.5 874.4 L790.1 872.8 L790.8 871.1 L791.4 869.5 L792.0 867.9 L792.7 866.3 L793.3 864.6 L794.0 863.0 L794.7 861.4 L795.3 859.8 L796.0 858.1 L796.6 856.5 L797.3 854.9 L798.0 853.3 L798.7 851.7 L799.3 850.1 L800.0 848.4 L800.7 846.8 L801.4 845.2 L802.1 843.6 L802.8 842.0 L803.5 840.4 L804.2 838.8 L805.0 837.2 L805.7 835.7 L806.4 834.1 L807.2 832.5 L807.9 830.9 L808.7 829.3 L809.4 827.8 L810.2 826.2 L811.0 824.6 L811.7 823.1 L812.5 821.5 L813.3 820.0 L814.1 818.4 L814.9 816.9 L815.7 815.4 L816.6 813.8 L817.4 812.3 L818.2 810.8 L819.1 809.3 L820.0 807.8 L820.8 806.3 L821.7 804.8 L822.6 803.3 L823.5 801.8 L824.4 800.3 L825.3 798.9 L826.2 797.4 L827.2 795.9 L828.1 794.5 L829.1 793.1 L830.0 791.6 L831.0 790.2 L832.0 788.8 L833.0 787.4 L834.0 786.0 L835.0 784.6 L836.0 783.2 L837.1 781.8 L838.1 780.5 L839.2 779.1 L840.3 777.8 L841.4 776.4 L842.5 775.1 L843.6 773.8 L844.7 772.5 L845.9 771.2 L847.0 769.9 L848.2 768.6 L849.4 767.3 L850.6 766.0 L851.8 764.8 L853.0 763.6 L854.3 762.3 L855.5 761.1 L856.8 759.9 L858.1 758.7 L859.4 757.5 L860.7 756.4 L862.0 755.2 L863.3 754.0 L864.7 752.9 L866.1 751.8 L867.5 750.7 L868.9 749.6 L870.3 748.5 L871.7 747.4 L873.1 746.4 L874.6 745.4 L876.0 744.4 L877.5 743.4 L879.0 742.4 L880.5 741.4 L882.0 740.5 L883.5 739.6 L885.0 738.7 L886.6 737.8 L888.1 737.0 L889.7 736.2 L891.2 735.4 L892.8 734.6 L894.4 733.9 L896.0 733.1 L897.6 732.4 L899.2 731.8 L900.8 731.1 L902.4 730.5 L904.0 729.9 L905.6 729.3 L907.3 728.7 L908.9 728.2 L910.6 727.6 L912.2 727.1 L913.9 726.7 L915.5 726.2 L917.2 725.8 L918.9 725.3 L920.6 724.9 L922.3 724.5 L923.9 724.2 L925.6 723.8 L927.3 723.5 L929.0 723.2 L930.7 722.9 L932.5 722.6 L934.2 722.3 L935.9 722.1 L937.6 721.8 L939.3 721.6 L941.1 721.4 L942.8 721.2 L944.5 721.0 L946.3 720.9 L948.0 720.7 L949.7 720.6 L951.5 720.4 L953.2 720.3 L955.0 720.2 L956.7 720.1 L958.4 720.0 L960.2 719.9 L961.9 719.9 L963.7 719.8 L965.4 719.8 L967.2 719.7 L968.9 719.7 L970.7 719.7 L972.4 719.6 L974.2 719.6 L975.9 719.6 L977.6 719.6 L979.4 719.6 L981.1 719.6 L982.9 719.7 L984.6 719.7 L986.4 719.7 L988.1 719.8 L989.8 719.8 L991.6 719.9 L993.3 719.9 L995.1 720.0 L996.8 720.0 L998.5 720.1 L1000.3 720.2 L1002.0 720.3 L1003.7 720.4 L1005.5 720.5 L1007.2 720.6 L1008.9 720.7 L1010.7 720.8 L1012.4 720.9 L1014.1 721.0 L1015.9 721.2 L1017.6 721.3 L1019.3 721.4 L1021.1 721.6 L1022.8 721.7 L1024.5 721.9 L1026.3 722.0 L1028.0 722.2 L1029.7 722.4 L1031.5 722.5 L1033.2 722.7 L1034.9 722.9 L1036.6 723.1 L1038.4 723.2 L1040.1 723.4 L1041.8 723.6 L1043.5 723.8 L1045.3 724.0 L1047.0 724.2 L1048.7 724.4 L1050.5 724.6 L1052.2 724.8 L1053.9 725.1 L1055.6 725.3 L1057.4 725.5 L1059.1 725.7 L1060.8 725.9 L1062.5 726.2 L1064.3 726.4 L1066.0 726.6 L1067.7 726.9 L1069.4 727.1 L1071.2 727.3 L1072.9 727.6 L1074.6 727.8 L1076.3 728.0 L1078.1 728.3 L1079.8 728.5 L1081.5 728.8 L1083.2 729.0 L1084.9 729.3 L1086.7 729.5 L1088.4 729.8 L1090.1 730.0 L1091.8 730.3 L1093.6 730.5 L1095.3 730.8 L1097.0 731.1 L1098.7 731.3 L1100.5 731.6 L1102.2 731.8 L1103.9 732.1 L1105.6 732.4 L1107.3 732.6 L1109.1 732.9 L1110.8 733.1 L1112.5 733.4 L1114.2 733.6 L1116.0 733.9 L1117.7 734.2 L1119.4 734.4 L1121.1 734.7 L1122.8 734.9 L1124.6 735.2 L1126.3 735.4 L1128.0 735.7 L1129.7 735.9 L1131.5 736.2 L1133.2 736.4 L1134.9 736.7 L1136.6 736.9 L1138.4 737.2 L1140.1 737.4 L1141.8 737.7 L1143.5 737.9 L1145.3 738.2 L1147.0 738.4 L1148.7 738.6 L1150.4 738.9 L1152.2 739.1 L1153.9 739.3 L1155.6 739.6 L1157.3 739.8 L1159.1 740.0 L1160.8 740.3 L1162.5 740.5 L1164.3 740.7 L1166.0 740.9 L1167.7 741.1 L1169.4 741.4 L1171.2 741.6 L1172.9 741.8 L1174.6 742.0 L1176.3 742.2 L1178.1 742.4 L1179.8 742.6 L1181.5 742.9 L1183.3 743.1 L1185.0 743.3 L1186.7 743.5 L1188.4 743.7 L1190.2 743.9 L1191.9 744.1 L1193.6 744.3 L1195.4 744.5 L1197.1 744.7 L1198.8 744.9 L1200.5 745.1 L1202.3 745.3 L1204.0 745.5 L1205.7 745.7 L1207.5 745.9 L1209.2 746.0 L1210.9 746.2 L1212.7 746.4 L1214.4 746.6 L1216.1 746.8 L1217.8 747.0 L1219.6 747.2 L1221.3 747.3 L1223.0 747.5 L1224.8 747.7 L1226.5 747.9 L1228.2 748.0 L1230.0 748.2 L1231.7 748.4 L1233.4 748.6 L1235.2 748.7 L1236.9 748.9 L1238.6 749.1 L1240.4 749.3 L1242.1 749.4 L1243.8 749.6 L1245.6 749.8 L1247.3 749.9 L1249.0 750.1 L1250.8 750.2 L1252.5 750.4 L1254.2 750.6 L1256.0 750.7 L1257.7 750.9 L1259.4 751.0 L1261.1 751.2 L1262.9 751.4 L1264.6 751.5 L1266.3 751.7 L1268.1 751.8 L1269.8 752.0 L1271.6 752.1 L1273.3 752.3 L1275.0 752.4 L1276.8 752.6 L1278.5 752.7 L1280.2 752.9 L1282.0 753.0 L1283.7 753.2 L1285.4 753.3 L1287.2 753.4 L1288.9 753.6 L1290.6 753.7 L1292.4 753.9 L1294.1 754.0 L1295.8 754.1 L1297.6 754.3 L1299.3 754.4 L1301.0 754.6 L1302.8 754.7 L1304.5 754.8 L1306.2 755.0 L1308.0 755.1 L1309.7 755.2 L1311.4 755.4 L1313.2 755.5 L1314.9 755.6 L1316.6 755.8 L1318.4 755.9 L1320.1 756.0 L1321.8 756.1 L1323.6 756.3 L1325.3 756.4 L1327.1 756.5 L1328.8 756.6 L1330.5 756.8 L1332.3 756.9 L1334.0 757.0 L1335.7 757.1 L1337.5 757.3 L1339.2 757.4 L1340.9 757.5 L1342.7 757.6 L1344.4 757.7 L1346.1 757.9 L1347.9 758.0 L1349.6 758.1 L1351.4 758.2 L1353.1 758.3 L1354.8 758.4 L1356.6 758.5 L1358.3 758.7 L1360.0 758.8 L1361.8 758.9 L1363.5 759.0 L1365.2 759.1 L1367.0 759.2 L1368.7 759.3 L1370.4 759.4 L1372.2 759.5 L1373.9 759.6 L1375.7 759.7 L1377.4 759.9 L1379.1 760.0 L1380.9 760.1 L1382.6 760.2 L1384.3 760.3 L1386.1 760.4 L1387.8 760.5 L1389.5 760.6 L1391.3 760.7 L1393.0 760.8 L1394.8 760.9 L1396.5 761.0 L1398.2 761.1 L1400.0 761.2 L1401.7 761.3 L1403.4 761.4 L1405.2 761.4 L1406.9 761.5 L1408.7 761.6 L1410.4 761.7 L1412.1 761.8 L1413.9 761.9 L1415.6 762.0 L1417.3 762.1 L1419.1 762.2 L1420.8 762.3 L1422.6 762.4 L1424.3 762.5 L1426.0 762.5 L1427.8 762.6 L1429.5 762.7 L1431.2 762.8 L1433.0 762.9 L1434.7 763.0 L1436.5 763.1 L1438.2 763.1 L1439.9 763.2 L1441.7 763.3 L1443.4 763.4 L1445.1 763.5 L1446.9 763.6 L1448.6 763.6 L1450.4 763.7 L1452.1 763.8 L1453.8 763.9 L1455.6 763.9 L1457.3 764.0 L1459.0 764.1 L1460.8 764.2 L1462.5 764.3 L1464.3 764.3 L1466.0 764.4 L1467.7 764.5 L1469.5 764.6 L1471.2 764.6 L1472.9 764.7 L1474.7 764.8 L1476.4 764.8 L1478.2 764.9 L1479.9 765.0 L1481.6 765.1 L1483.4 765.1 L1485.1 765.2 L1486.9 765.3 L1488.6 765.3 L1490.3 765.4 L1492.1 765.5 L1493.8 765.5 L1495.5 765.6 L1497.3 765.7 L1499.0 765.7 L1500.8 765.8 L1502.5 765.9 L1504.2 765.9 L1506.0 766.0 L1507.7 766.1 L1509.5 766.1 L1511.2 766.2 L1512.9 766.2 L1514.7 766.3 L1516.4 766.4 L1518.2 766.4 L1519.9 766.5 L1521.6 766.6 L1523.4 766.6 L1525.1 766.7 L1526.8 766.7 L1528.6 766.8 L1530.3 766.8 L1532.1 766.9 L1533.8 767.0 L1535.5 767.0 L1537.3 767.1 L1539.0 767.1 L1540.8 767.2 L1542.5 767.2 L1544.2 767.3 L1546.0 767.3 L1547.7 767.4 L1549.5 767.5 L1551.2 767.5 L1552.9 767.6 L1554.7 767.6 L1556.4 767.7 L1558.2 767.7 L1559.9 767.8 L1561.6 767.8 L1563.4 767.9 L1565.1 767.9 L1566.8 768.0 L1568.6 768.0 L1570.3 768.1 L1572.1 768.1 L1573.8 768.2 L1575.5 768.2 L1577.3 768.3 L1579.0 768.3 L1580.8 768.3 L1582.5 768.4 L1584.2 768.4 L1586.0 768.5 L1587.7 768.5 L1589.5 768.6 L1591.2 768.6 L1592.9 768.7 L1594.7 768.7 L1596.4 768.7 L1598.2 768.8 L1599.9 768.8 L1601.6 768.9 L1603.4 768.9 L1605.1 769.0 L1606.9 769.0 L1608.6 769.0 L1610.3 769.1 L1612.1 769.1 L1613.8 769.2 L1615.6 769.2 L1617.3 769.2 L1619.0 769.3 L1620.8 769.3 L1622.5 769.4 L1624.3 769.4 L1626.0 769.4 L1627.7 769.5 L1629.5 769.5 L1631.2 769.6 L1633.0 769.6 L1634.7 769.6 L1636.4 769.7 L1638.2 769.7 L1639.9 769.7 L1641.7 769.8 L1643.4 769.8 L1645.1 769.8 L1646.9 769.9 L1648.6 769.9 L1650.4 770.0 L1652.1 770.0 L1653.8 770.0 L1655.6 770.1 L1657.3 770.1 L1659.1 770.1 L1660.8 770.2 L1662.5 770.2 L1664.3 770.2 L1666.0 770.3 L1667.8 770.3 L1669.5 770.3 L1671.2 770.4 L1673.0 770.4 L1674.7 770.4 L1676.5 770.5 L1678.2 770.5 L1679.9 770.5 L1681.7 770.5 L1683.4 770.6 L1685.2 770.6 L1686.9 770.6 L1688.6 770.7 L1690.4 770.7 L1692.1 770.7 L1693.9 770.8 L1695.6 770.8 L1697.3 770.8 L1699.1 770.8 L1700.8 770.9 L1702.6 770.9 L1704.3 770.9 L1706.0 771.0 L1707.8 771.0 L1709.5 771.0 L1711.3 771.0 L1713.0 771.1 L1714.8 771.1 L1716.5 771.1 L1718.2 771.2 L1720.0 771.2 L1721.7 771.2 L1723.5 771.2 L1725.2 771.3 L1726.9 771.3 L1728.7 771.3 L1730.4 771.3 L1732.2 771.4 L1733.9 771.4 L1735.6 771.4 L1737.4 771.5 L1739.1 771.5 L1740.9 771.5 L1742.6 771.5 L1744.3 771.6 L1746.1 771.6 L1747.8 771.6 L1749.6 771.6 L1751.3 771.7 L1753.0 771.7 L1754.8 771.7 L1756.5 771.7 L1758.3 771.8 L1760.0 771.8 L1761.7 771.8 L1763.5 771.8 L1765.2 771.9 L1767.0 771.9 L1768.7 771.9 L1770.4 771.9 L1772.2 772.0 L1773.9 772.0 L1775.7 772.0 L1777.4 772.0 L1779.1 772.1 L1780.9 772.1 L1782.6 772.1 L1784.4 772.1 L1786.1 772.2 L1787.8 772.2 L1789.6 772.2 L1791.3 772.2 L1793.1 772.3 L1794.8 772.3 L1796.5 772.3 L1798.3 772.3 L1800.0 772.4 L1801.8 772.4 L1803.5 772.4 L1805.2 772.4 L1807.0 772.5 L1808.7 772.5 L1810.5 772.5 L1812.2 772.5 L1813.9 772.6 L1815.7 772.6 L1817.4 772.6 L1819.2 772.6 L1820.9 772.7 L1822.6 772.7 L1824.4 772.7 L1826.1 772.7 L1827.9 772.7 L1829.6 772.8 L1831.3 772.8 L1833.1 772.8 L1834.8 772.8 L1836.6 772.9 L1838.3 772.9 L1840.1 772.9 L1841.8 772.9 L1843.5 773.0 L1845.3 773.0 L1847.0 773.0 L1848.8 773.0 L1850.5 773.1 L1852.2 773.1 L1854.0 773.1 L1855.7 773.1 L1857.5 773.2 L1859.2 773.2 L1860.9 773.2 L1862.7 773.2 L1864.4 773.3 L1866.2 773.3 L1867.9 773.3 L1869.6 773.3 L1871.4 773.4 L1873.1 773.4 L1874.9 773.4 L1876.6 773.4 L1878.3 773.4 L1880.1 773.5 L1881.8 773.5 L1883.6 773.5 L1885.3 773.5 L1887.0 773.6 L1888.8 773.6 L1890.5 773.6 L1892.2 773.6 L1894.0 773.7 L1895.7 773.7 L1897.5 773.7 L1899.2 773.7 L1900.9 773.8 L1902.7 773.8 L1904.4 773.8 L1906.2 773.8 L1907.9 773.9 L1909.6 773.9 L1911.4 773.9 L1913.1 773.9 L1914.9 773.9 L1916.6 774.0 L1918.3 774.0 L1920.1 774.0 L1921.8 774.0 L1923.6 774.1 L1925.3 774.1 L1927.0 774.1 L1928.8 774.1 L1930.5 774.2 L1932.3 774.2 L1934.0 774.2 L1935.7 774.2 L1937.5 774.2 L1939.2 774.3 L1941.0 774.3 L1942.7 774.3 L1944.4 774.3 L1946.2 774.4 L1947.9 774.4 L1949.7 774.4 L1951.4 774.4 L1953.1 774.5 L1954.9 774.5 L1956.6 774.5 L1958.4 774.5 L1960.1 774.5 L1961.8 774.6 L1963.6 774.6 L1965.3 774.6 L1967.1 774.6 L1968.8 774.7 L1970.5 774.7 L1972.3 774.7 L1974.0 774.7 L1975.8 774.7 L1977.5 774.8 L1979.2 774.8 L1981.0 774.8 L1982.7 774.8 L1984.5 774.9 L1986.2 774.9 L1987.9 774.9 L1989.7 774.9 L1991.4 774.9 L1993.2 775.0 L1994.9 775.0 L1996.6 775.0 L1998.4 775.0 L2000.1 775.0 L2001.9 775.1 L2003.6 775.1 L2005.3 775.1 L2007.1 775.1 L2008.8 775.2 L2010.6 775.2 L2012.3 775.2 L2014.0 775.2 L2015.8 775.2 L2017.5 775.3 L2019.3 775.3 L2021.0 775.3 L2022.7 775.3 L2024.5 775.3 L2026.2 775.4 L2028.0 775.4 L2029.7 775.4 L2031.4 775.4 L2033.2 775.4 L2034.9 775.5 L2036.7 775.5 L2038.4 775.5 L2040.1 775.5 L2041.9 775.5 L2043.6 775.6 L2045.4 775.6 L2047.1 775.6 L2048.8 775.6 L2050.6 775.6 L2052.3 775.7 L2054.1 775.7 L2055.8 775.7 L2057.5 775.7 L2059.3 775.7 L2061.0 775.8 L2062.7 775.8 L2064.5 775.8 L2066.2 775.8 L2068.0 775.8 L2069.7 775.9 L2071.4 775.9 L2073.2 775.9 L2074.9 775.9 L2076.7 775.9 L2078.4 776.0 L2080.1 776.0 L2081.9 776.0 L2083.6 776.0 L2085.4 776.0 L2087.1 776.0 L2088.8 776.1 L2090.6 776.1 L2092.3 776.1 L2094.1 776.1 L2095.8 776.1 L2097.5 776.2 L2099.3 776.2 L2101.0 776.2 L2102.8 776.2 L2104.5 776.2 L2106.2 776.2 L2108.0 776.3 L2109.7 776.3 L2111.5 776.3 L2113.2 776.3 L2114.9 776.3 L2116.7 776.3 L2118.4 776.4 L2120.2 776.4 L2121.9 776.4 L2123.6 776.4 L2125.4 776.4 L2127.1 776.4 L2128.9 776.5 L2130.6 776.5 L2132.3 776.5 L2134.1 776.5 L2135.8 776.5 L2137.6 776.5 L2139.3 776.6 L2141.0 776.6 L2142.8 776.6 L2144.5 776.6 L2146.3 776.6 L2148.0 776.6 L2149.7 776.7 L2151.5 776.7 L2153.2 776.7 L2155.0 776.7 L2156.7 776.7 L2158.4 776.7 L2160.2 776.7 L2161.9 776.8 L2163.7 776.8 L2165.4 776.8 L2167.1 776.8 L2168.9 776.8 L2170.6 776.8 L2172.4 776.9 L2174.1 776.9 L2175.8 776.9 L2177.6 776.9 L2179.3 776.9 L2181.1 776.9 L2182.8 776.9 L2184.5 777.0 L2186.3 777.0 L2188.0 777.0 L2189.8 777.0 L2191.5 777.0 L2193.2 777.0 L2195.0 777.0 L2196.7 777.0 L2198.5 777.1 L2200.2 777.1 L2201.9 777.1 L2203.7 777.1 L2205.4 777.1 L2207.2 777.1 L2208.9 777.1 L2210.6 777.1 L2212.4 777.2 L2214.1 777.2 L2215.9 777.2 L2217.6 777.2 L2219.3 777.2 L2221.1 777.2 L2222.8 777.2 L2224.6 777.2 L2226.3 777.3 L2228.0 777.3 L2229.8 777.3 L2231.5 777.3 L2233.3 777.3 L2235.0 777.3 L2236.7 777.3 L2238.5 777.3 L2240.2 777.3 L2242.0 777.4 L2243.7 777.4 L2245.4 777.4 L2247.2 777.4 L2248.9 777.4 L2250.7 777.4 L2252.4 777.4 L2254.1 777.4 L2255.9 777.4 L2257.6 777.4 L2259.4 777.5 L2261.1 777.5 L2262.8 777.5 L2264.6 777.5 L2266.3 777.5 L2268.1 777.5 L2269.8 777.5 L2271.5 777.5 L2273.3 777.5 L2275.0 777.5 L2276.8 777.5 L2278.5 777.5 L2280.2 777.6 L2282.0 777.6 L2283.7 777.6 L2285.5 777.6 L2287.2 777.6 L2288.9 777.6 L2290.7 777.6 L2292.4 777.6 L2294.2 777.6 L2295.9 777.6 L2297.6 777.6 L2299.4 777.6 L2301.1 777.6 L2302.9 777.6 L2304.6 777.7 L2306.4 777.7 L2308.1 777.7 L2309.8 777.7 L2311.6 777.7 L2313.3 777.7 L2315.1 777.7 L2316.8 777.7 L2318.5 777.7 L2320.3 777.7 L2322.0 777.7 L2323.8 777.7 L2325.5 777.7 L2327.2 777.7 L2329.0 777.7 L2330.7 777.7 L2332.5 777.7 L2334.2 777.7 L2335.9 777.7 L2337.7 777.7 L2339.4 777.8 L2341.2 777.8 L2342.9 777.8 L2344.6 777.8 L2346.4 777.8 L2348.1 777.8 L2349.9 777.8 L2351.6 777.8 L2353.3 777.8 L2355.1 777.8 L2356.8 777.8 L2358.6 777.8 L2360.3 777.8" stroke="#ED7D31" stroke-width="11.6" stroke-linecap="round" stroke-dasharray="36.0 47.0" stroke-dashoffset="39.4"/>
<path d="M385.5 1603.5 L392.5 1596.1 L530.0 1596.1 L530.0 1595.9 L531.7 1596.1 L533.4 1596.2 L535.1 1596.3 L536.8 1596.4 L538.5 1596.5 L540.2 1596.5 L542.0 1596.5 L543.7 1596.4 L545.5 1596.4 L547.2 1596.2 L548.9 1596.1 L550.7 1595.9 L552.4 1595.7 L554.2 1595.5 L555.9 1595.2 L557.6 1594.9 L559.4 1594.6 L561.1 1594.2 L562.8 1593.8 L564.5 1593.3 L566.2 1592.9 L567.9 1592.4 L569.5 1591.8 L571.2 1591.2 L572.8 1590.6 L574.5 1589.9 L576.1 1589.2 L577.6 1588.5 L579.2 1587.7 L580.8 1586.9 L582.3 1586.1 L583.8 1585.2 L585.2 1584.3 L586.7 1583.3 L588.1 1582.4 L589.5 1581.3 L590.9 1580.3 L592.2 1579.2 L593.5 1578.1 L594.8 1576.9 L596.0 1575.7 L597.2 1574.5 L598.4 1573.3 L599.6 1572.0 L600.7 1570.7 L601.8 1569.4 L602.8 1568.1 L603.8 1566.7 L604.8 1565.3 L605.8 1563.9 L606.7 1562.4 L607.6 1561.0 L608.5 1559.5 L609.4 1558.0 L610.2 1556.5 L611.0 1555.0 L611.8 1553.5 L612.6 1551.9 L613.4 1550.4 L614.2 1548.8 L614.9 1547.2 L615.6 1545.6 L616.4 1544.1 L617.1 1542.5 L617.8 1540.9 L618.5 1539.3 L619.2 1537.7 L619.8 1536.1 L620.5 1534.4 L621.2 1532.8 L621.9 1531.2 L622.5 1529.6 L623.2 1528.0 L623.9 1526.4 L624.5 1524.8 L625.2 1523.2 L625.8 1521.5 L626.5 1519.9 L627.1 1518.3 L627.7 1516.7 L628.3 1515.1 L629.0 1513.4 L629.6 1511.8 L630.2 1510.2 L630.8 1508.6 L631.4 1506.9 L632.0 1505.3 L632.6 1503.7 L633.2 1502.0 L633.8 1500.4 L634.4 1498.8 L635.0 1497.1 L635.5 1495.5 L636.1 1493.8 L636.7 1492.2 L637.2 1490.6 L637.8 1488.9 L638.4 1487.3 L638.9 1485.6 L639.5 1484.0 L640.0 1482.4 L640.6 1480.7 L641.1 1479.1 L641.6 1477.4 L642.2 1475.8 L642.7 1474.1 L643.2 1472.5 L643.7 1470.8 L644.3 1469.2 L644.8 1467.5 L645.3 1465.8 L645.8 1464.2 L646.3 1462.5 L646.8 1460.9 L647.3 1459.2 L647.8 1457.6 L648.3 1455.9 L648.8 1454.2 L649.3 1452.6 L649.8 1450.9 L650.3 1449.3 L650.8 1447.6 L651.3 1445.9 L651.8 1444.3 L652.3 1442.6 L652.7 1440.9 L653.2 1439.3 L653.7 1437.6 L654.2 1435.9 L654.6 1434.3 L655.1 1432.6 L655.6 1430.9 L656.0 1429.3 L656.5 1427.6 L657.0 1425.9 L657.4 1424.3 L657.9 1422.6 L658.3 1420.9 L658.8 1419.2 L659.2 1417.6 L659.7 1415.9 L660.1 1414.2 L660.6 1412.5 L661.0 1410.9 L661.5 1409.2 L661.9 1407.5 L662.4 1405.8 L662.8 1404.2 L663.3 1402.5 L663.7 1400.8 L664.1 1399.1 L664.6 1397.5 L665.0 1395.8 L665.5 1394.1 L665.9 1392.4 L666.3 1390.8 L666.8 1389.1 L667.2 1387.4 L667.7 1385.7 L668.1 1384.0 L668.5 1382.4 L669.0 1380.7 L669.4 1379.0 L669.8 1377.3 L670.3 1375.7 L670.7 1374.0 L671.1 1372.3 L671.6 1370.6 L672.0 1368.9 L672.4 1367.3 L672.9 1365.6 L673.3 1363.9 L673.7 1362.2 L674.2 1360.5 L674.6 1358.9 L675.0 1357.2 L675.5 1355.5 L675.9 1353.8 L676.3 1352.2 L676.8 1350.5 L677.2 1348.8 L677.6 1347.1 L678.1 1345.4 L678.5 1343.8 L678.9 1342.1 L679.4 1340.4 L679.8 1338.7 L680.2 1337.0 L680.6 1335.4 L681.1 1333.7 L681.5 1332.0 L681.9 1330.3 L682.4 1328.6 L682.8 1327.0 L683.2 1325.3 L683.7 1323.6 L684.1 1321.9 L684.5 1320.2 L685.0 1318.6 L685.4 1316.9 L685.8 1315.2 L686.2 1313.5 L686.7 1311.8 L687.1 1310.2 L687.5 1308.5 L688.0 1306.8 L688.4 1305.1 L688.8 1303.4 L689.2 1301.8 L689.7 1300.1 L690.1 1298.4 L690.5 1296.7 L691.0 1295.0 L691.4 1293.4 L691.8 1291.7 L692.3 1290.0 L692.7 1288.3 L693.1 1286.6 L693.5 1285.0 L694.0 1283.3 L694.4 1281.6 L694.8 1279.9 L695.3 1278.2 L695.7 1276.6 L696.1 1274.9 L696.5 1273.2 L697.0 1271.5 L697.4 1269.8 L697.8 1268.2 L698.3 1266.5 L698.7 1264.8 L699.1 1263.1 L699.5 1261.4 L700.0 1259.8 L700.4 1258.1 L700.8 1256.4 L701.3 1254.7 L701.7 1253.0 L702.1 1251.4 L702.5 1249.7 L703.0 1248.0 L703.4 1246.3 L703.8 1244.6 L704.3 1243.0 L704.7 1241.3 L705.1 1239.6 L705.5 1237.9 L706.0 1236.2 L706.4 1234.6 L706.8 1232.9 L707.3 1231.2 L707.7 1229.5 L708.1 1227.8 L708.5 1226.2 L709.0 1224.5 L709.4 1222.8 L709.8 1221.1 L710.3 1219.4 L710.7 1217.8 L711.1 1216.1 L711.5 1214.4 L712.0 1212.7 L712.4 1211.0 L712.8 1209.4 L713.3 1207.7 L713.7 1206.0 L714.1 1204.3 L714.6 1202.6 L715.0 1201.0 L715.4 1199.3 L715.8 1197.6 L716.3 1195.9 L716.7 1194.2 L717.1 1192.6 L717.6 1190.9 L718.0 1189.2 L718.4 1187.5 L718.9 1185.8 L719.3 1184.2 L719.7 1182.5 L720.1 1180.8 L720.6 1179.1 L721.0 1177.4 L721.4 1175.8 L721.9 1174.1 L722.3 1172.4 L722.7 1170.7 L723.2 1169.0 L723.6 1167.4 L724.0 1165.7 L724.5 1164.0 L724.9 1162.3 L725.3 1160.6 L725.8 1159.0 L726.2 1157.3 L726.6 1155.6 L727.1 1153.9 L727.5 1152.2 L727.9 1150.6 L728.4 1148.9 L728.8 1147.2 L729.2 1145.5 L729.7 1143.9 L730.1 1142.2 L730.5 1140.5 L731.0 1138.8 L731.4 1137.1 L731.8 1135.5 L732.3 1133.8 L732.7 1132.1 L733.1 1130.4 L733.6 1128.7 L734.0 1127.1 L734.5 1125.4 L734.9 1123.7 L735.3 1122.0 L735.8 1120.4 L736.2 1118.7 L736.6 1117.0 L737.1 1115.3 L737.5 1113.6 L738.0 1112.0 L738.4 1110.3 L738.8 1108.6 L739.3 1106.9 L739.7 1105.3 L740.1 1103.6 L740.6 1101.9 L741.0 1100.2 L741.5 1098.6 L741.9 1096.9 L742.4 1095.2 L742.8 1093.5 L743.3 1091.9 L743.7 1090.2 L744.2 1088.5 L744.6 1086.8 L745.1 1085.2 L745.5 1083.5 L746.0 1081.8 L746.5 1080.2 L746.9 1078.5 L747.4 1076.8 L747.9 1075.2 L748.4 1073.5 L748.8 1071.8 L749.3 1070.2 L749.8 1068.5 L750.3 1066.8 L750.8 1065.2 L751.3 1063.5 L751.8 1061.9 L752.3 1060.2 L752.8 1058.5 L753.3 1056.9 L753.9 1055.2 L754.4 1053.6 L754.9 1051.9 L755.4 1050.3 L756.0 1048.6 L756.5 1047.0 L757.1 1045.4 L757.6 1043.7 L758.2 1042.1 L758.7 1040.4 L759.3 1038.8 L759.8 1037.1 L760.4 1035.5 L761.0 1033.9 L761.6 1032.2 L762.1 1030.6 L762.7 1029.0 L763.3 1027.3 L763.9 1025.7 L764.4 1024.1 L765.0 1022.4 L765.6 1020.8 L766.2 1019.2 L766.8 1017.5 L767.3 1015.9 L767.9 1014.2 L768.5 1012.6 L769.1 1011.0 L769.7 1009.3 L770.2 1007.7 L770.8 1006.1 L771.4 1004.4 L772.0 1002.8 L772.5 1001.2 L773.1 999.5 L773.7 997.9 L774.2 996.2 L774.8 994.6 L775.3 992.9 L775.9 991.3 L776.5 989.7 L777.0 988.0 L777.6 986.4 L778.1 984.7 L778.6 983.1 L779.2 981.4 L779.7 979.8 L780.3 978.1 L780.8 976.5 L781.3 974.8 L781.9 973.2 L782.4 971.5 L783.0 969.9 L783.5 968.2 L784.0 966.6 L784.6 964.9 L785.1 963.3 L785.6 961.6 L786.2 959.9 L786.7 958.3 L787.3 956.7 L787.8 955.0 L788.3 953.4 L788.9 951.7 L789.4 950.1 L790.0 948.4 L790.5 946.8 L791.1 945.1 L791.7 943.5 L792.2 941.8 L792.8 940.2 L793.4 938.6 L793.9 936.9 L794.5 935.3 L795.1 933.7 L795.7 932.0 L796.3 930.4 L796.9 928.8 L797.5 927.2 L798.1 925.5 L798.7 923.9 L799.3 922.3 L799.9 920.7 L800.5 919.1 L801.2 917.5 L801.8 915.8 L802.4 914.2 L803.1 912.6 L803.7 911.0 L804.4 909.4 L805.1 907.8 L805.8 906.3 L806.5 904.7 L807.1 903.1 L807.8 901.5 L808.6 899.9 L809.3 898.3 L810.0 896.8 L810.7 895.2 L811.5 893.6 L812.2 892.1 L812.9 890.5 L813.7 888.9 L814.5 887.4 L815.2 885.8 L816.0 884.3 L816.8 882.7 L817.5 881.2 L818.3 879.6 L819.1 878.1 L819.9 876.5 L820.7 875.0 L821.5 873.4 L822.3 871.9 L823.1 870.4 L823.9 868.8 L824.7 867.3 L825.5 865.7 L826.3 864.2 L827.1 862.7 L827.9 861.1 L828.7 859.6 L829.6 858.1 L830.4 856.5 L831.2 855.0 L832.0 853.5 L832.8 851.9 L833.6 850.4 L834.5 848.9 L835.3 847.4 L836.1 845.8 L836.9 844.3 L837.8 842.8 L838.6 841.3 L839.4 839.7 L840.3 838.2 L841.1 836.7 L842.0 835.2 L842.8 833.7 L843.7 832.2 L844.5 830.7 L845.4 829.2 L846.3 827.7 L847.1 826.2 L848.0 824.7 L848.9 823.2 L849.8 821.7 L850.7 820.3 L851.6 818.8 L852.5 817.3 L853.4 815.8 L854.3 814.4 L855.3 812.9 L856.2 811.5 L857.2 810.0 L858.1 808.6 L859.1 807.1 L860.1 805.7 L861.1 804.3 L862.0 802.9 L863.0 801.4 L864.0 800.0 L865.0 798.6 L866.1 797.2 L867.1 795.8 L868.1 794.4 L869.1 793.0 L870.2 791.6 L871.2 790.3 L872.3 788.9 L873.3 787.5 L874.4 786.1 L875.5 784.8 L876.5 783.4 L877.6 782.0 L878.7 780.7 L879.8 779.3 L880.9 778.0 L882.0 776.6 L883.1 775.3 L884.2 774.0 L885.3 772.6 L886.4 771.3 L887.6 770.0 L888.7 768.7 L889.9 767.4 L891.0 766.1 L892.2 764.9 L893.4 763.6 L894.6 762.4 L895.8 761.1 L897.1 759.9 L898.3 758.7 L899.6 757.5 L900.8 756.3 L902.1 755.1 L903.4 754.0 L904.7 752.9 L906.0 751.7 L907.4 750.6 L908.7 749.5 L910.1 748.5 L911.5 747.4 L912.9 746.4 L914.3 745.3 L915.7 744.3 L917.2 743.3 L918.6 742.3 L920.1 741.4 L921.5 740.4 L923.0 739.5 L924.5 738.6 L926.0 737.7 L927.5 736.8 L929.1 735.9 L930.6 735.1 L932.1 734.2 L933.7 733.4 L935.2 732.6 L936.8 731.8 L938.4 731.1 L939.9 730.3 L941.5 729.6 L943.1 728.9 L944.7 728.2 L946.3 727.5 L947.9 726.8 L949.5 726.2 L951.1 725.5 L952.7 724.9 L954.4 724.3 L956.0 723.7 L957.6 723.1 L959.3 722.6 L960.9 722.0 L962.5 721.5 L964.2 721.0 L965.8 720.5 L967.5 720.0 L969.1 719.6 L970.8 719.1 L972.4 718.7 L974.1 718.3 L975.8 717.9 L977.4 717.5 L979.1 717.1 L980.8 716.7 L982.5 716.4 L984.2 716.0 L985.8 715.7 L987.5 715.4 L989.2 715.1 L990.9 714.8 L992.6 714.5 L994.3 714.3 L996.0 714.0 L997.7 713.8 L999.4 713.5 L1001.1 713.3 L1002.9 713.1 L1004.6 712.9 L1006.3 712.7 L1008.0 712.6 L1009.7 712.4 L1011.4 712.2 L1013.2 712.1 L1014.9 712.0 L1016.6 711.9 L1018.3 711.7 L1020.1 711.6 L1021.8 711.6 L1023.5 711.5 L1025.3 711.4 L1027.0 711.3 L1028.7 711.3 L1030.5 711.2 L1032.2 711.2 L1033.9 711.2 L1035.7 711.1 L1037.4 711.1 L1039.2 711.1 L1040.9 711.1 L1042.7 711.1 L1044.4 711.2 L1046.1 711.2 L1047.9 711.2 L1049.6 711.3 L1051.4 711.3 L1053.1 711.4 L1054.9 711.4 L1056.6 711.5 L1058.4 711.5 L1060.1 711.6 L1061.9 711.7 L1063.6 711.8 L1065.4 711.9 L1067.1 712.0 L1068.9 712.1 L1070.6 712.2 L1072.3 712.3 L1074.1 712.4 L1075.8 712.5 L1077.6 712.7 L1079.3 712.8 L1081.1 712.9 L1082.8 713.1 L1084.6 713.2 L1086.3 713.3 L1088.0 713.5 L1089.8 713.6 L1091.5 713.8 L1093.3 713.9 L1095.0 714.1 L1096.7 714.3 L1098.5 714.4 L1100.2 714.6 L1101.9 714.7 L1103.6 714.9 L1105.4 715.1 L1107.1 715.2 L1108.8 715.4 L1110.6 715.6 L1112.3 715.8 L1114.0 715.9 L1115.7 716.1 L1117.4 716.3 L1119.2 716.5 L1120.9 716.7 L1122.6 716.8 L1124.3 717.0 L1126.0 717.2 L1127.8 717.4 L1129.5 717.6 L1131.2 717.8 L1132.9 718.0 L1134.6 718.2 L1136.3 718.4 L1138.0 718.5 L1139.8 718.7 L1141.5 718.9 L1143.2 719.1 L1144.9 719.3 L1146.6 719.5 L1148.3 719.7 L1150.0 719.9 L1151.7 720.1 L1153.4 720.3 L1155.2 720.5 L1156.9 720.7 L1158.6 720.9 L1160.3 721.1 L1162.0 721.3 L1163.7 721.5 L1165.4 721.7 L1167.1 721.9 L1168.9 722.1 L1170.6 722.3 L1172.3 722.5 L1174.0 722.7 L1175.7 722.9 L1177.4 723.1 L1179.1 723.3 L1180.9 723.5 L1182.6 723.6 L1184.3 723.8 L1186.0 724.0 L1187.7 724.2 L1189.4 724.4 L1191.2 724.6 L1192.9 724.8 L1194.6 725.0 L1196.3 725.2 L1198.0 725.4 L1199.8 725.6 L1201.5 725.8 L1203.2 725.9 L1204.9 726.1 L1206.7 726.3 L1208.4 726.5 L1210.1 726.7 L1211.8 726.9 L1213.5 727.1 L1215.3 727.2 L1217.0 727.4 L1218.7 727.6 L1220.4 727.8 L1222.2 728.0 L1223.9 728.2 L1225.6 728.3 L1227.4 728.5 L1229.1 728.7 L1230.8 728.9 L1232.5 729.1 L1234.3 729.3 L1236.0 729.4 L1237.7 729.6 L1239.4 729.8 L1241.2 730.0 L1242.9 730.2 L1244.6 730.3 L1246.4 730.5 L1248.1 730.7 L1249.8 730.9 L1251.5 731.0 L1253.3 731.2 L1255.0 731.4 L1256.7 731.6 L1258.5 731.8 L1260.2 731.9 L1261.9 732.1 L1263.6 732.3 L1265.4 732.5 L1267.1 732.6 L1268.8 732.8 L1270.6 733.0 L1272.3 733.1 L1274.0 733.3 L1275.7 733.5 L1277.5 733.7 L1279.2 733.8 L1280.9 734.0 L1282.6 734.2 L1284.4 734.3 L1286.1 734.5 L1287.8 734.7 L1289.6 734.9 L1291.3 735.0 L1293.0 735.2 L1294.7 735.4 L1296.5 735.5 L1298.2 735.7 L1299.9 735.9 L1301.7 736.0 L1303.4 736.2 L1305.1 736.4 L1306.8 736.5 L1308.6 736.7 L1310.3 736.9 L1312.0 737.0 L1313.8 737.2 L1315.5 737.4 L1317.2 737.5 L1318.9 737.7 L1320.7 737.8 L1322.4 738.0 L1324.1 738.2 L1325.8 738.3 L1327.6 738.5 L1329.3 738.7 L1331.0 738.8 L1332.8 739.0 L1334.5 739.1 L1336.2 739.3 L1337.9 739.5 L1339.7 739.6 L1341.4 739.8 L1343.1 739.9 L1344.9 740.1 L1346.6 740.2 L1348.3 740.4 L1350.0 740.6 L1351.8 740.7 L1353.5 740.9 L1355.2 741.0 L1356.9 741.2 L1358.7 741.3 L1360.4 741.5 L1362.1 741.6 L1363.9 741.8 L1365.6 741.9 L1367.3 742.1 L1369.0 742.3 L1370.8 742.4 L1372.5 742.6 L1374.2 742.7 L1376.0 742.9 L1377.7 743.0 L1379.4 743.2 L1381.1 743.3 L1382.9 743.5 L1384.6 743.6 L1386.3 743.8 L1388.1 743.9 L1389.8 744.0 L1391.5 744.2 L1393.2 744.3 L1395.0 744.5 L1396.7 744.6 L1398.4 744.8 L1400.1 744.9 L1401.9 745.1 L1403.6 745.2 L1405.3 745.3 L1407.1 745.5 L1408.8 745.6 L1410.5 745.8 L1412.2 745.9 L1414.0 746.1 L1415.7 746.2 L1417.4 746.3 L1419.2 746.5 L1420.9 746.6 L1422.6 746.8 L1424.3 746.9 L1426.1 747.0 L1427.8 747.2 L1429.5 747.3 L1431.3 747.4 L1433.0 747.6 L1434.7 747.7 L1436.4 747.9 L1438.2 748.0 L1439.9 748.1 L1441.6 748.3 L1443.4 748.4 L1445.1 748.5 L1446.8 748.7 L1448.5 748.8 L1450.3 748.9 L1452.0 749.0 L1453.7 749.2 L1455.4 749.3 L1457.2 749.4 L1458.9 749.6 L1460.6 749.7 L1462.4 749.8 L1464.1 750.0 L1465.8 750.1 L1467.5 750.2 L1469.3 750.3 L1471.0 750.5 L1472.7 750.6 L1474.5 750.7 L1476.2 750.8 L1477.9 751.0 L1479.7 751.1 L1481.4 751.2 L1483.1 751.3 L1484.8 751.5 L1486.6 751.6 L1488.3 751.7 L1490.0 751.8 L1491.8 751.9 L1493.5 752.1 L1495.2 752.2 L1496.9 752.3 L1498.7 752.4 L1500.4 752.5 L1502.1 752.6 L1503.9 752.8 L1505.6 752.9 L1507.3 753.0 L1509.0 753.1 L1510.8 753.2 L1512.5 753.3 L1514.2 753.5 L1516.0 753.6 L1517.7 753.7 L1519.4 753.8 L1521.2 753.9 L1522.9 754.0 L1524.6 754.1 L1526.3 754.2 L1528.1 754.3 L1529.8 754.5 L1531.5 754.6 L1533.3 754.7 L1535.0 754.8 L1536.7 754.9 L1538.5 755.0 L1540.2 755.1 L1541.9 755.2 L1543.6 755.3 L1545.4 755.4 L1547.1 755.5 L1548.8 755.6 L1550.6 755.7 L1552.3 755.8 L1554.0 755.9 L1555.8 756.0 L1557.5 756.1 L1559.2 756.3 L1560.9 756.4 L1562.7 756.5 L1564.4 756.6 L1566.1 756.7 L1567.9 756.8 L1569.6 756.9 L1571.3 756.9 L1573.1 757.0 L1574.8 757.1 L1576.5 757.2 L1578.2 757.3 L1580.0 757.4 L1581.7 757.5 L1583.4 757.6 L1585.2 757.7 L1586.9 757.8 L1588.6 757.9 L1590.4 758.0 L1592.1 758.1 L1593.8 758.2 L1595.6 758.3 L1597.3 758.4 L1599.0 758.5 L1600.7 758.6 L1602.5 758.7 L1604.2 758.7 L1605.9 758.8 L1607.7 758.9 L1609.4 759.0 L1611.1 759.1 L1612.9 759.2 L1614.6 759.3 L1616.3 759.4 L1618.1 759.4 L1619.8 759.5 L1621.5 759.6 L1623.3 759.7 L1625.0 759.8 L1626.7 759.9 L1628.4 760.0 L1630.2 760.0 L1631.9 760.1 L1633.6 760.2 L1635.4 760.3 L1637.1 760.4 L1638.8 760.5 L1640.6 760.5 L1642.3 760.6 L1644.0 760.7 L1645.8 760.8 L1647.5 760.9 L1649.2 760.9 L1651.0 761.0 L1652.7 761.1 L1654.4 761.2 L1656.2 761.3 L1657.9 761.3 L1659.6 761.4 L1661.3 761.5 L1663.1 761.6 L1664.8 761.6 L1666.5 761.7 L1668.3 761.8 L1670.0 761.9 L1671.7 761.9 L1673.5 762.0 L1675.2 762.1 L1676.9 762.2 L1678.7 762.2 L1680.4 762.3 L1682.1 762.4 L1683.9 762.5 L1685.6 762.5 L1687.3 762.6 L1689.1 762.7 L1690.8 762.7 L1692.5 762.8 L1694.3 762.9 L1696.0 763.0 L1697.7 763.0 L1699.5 763.1 L1701.2 763.2 L1702.9 763.2 L1704.6 763.3 L1706.4 763.4 L1708.1 763.4 L1709.8 763.5 L1711.6 763.6 L1713.3 763.6 L1715.0 763.7 L1716.8 763.8 L1718.5 763.8 L1720.2 763.9 L1722.0 764.0 L1723.7 764.0 L1725.4 764.1 L1727.2 764.1 L1728.9 764.2 L1730.6 764.3 L1732.4 764.3 L1734.1 764.4 L1735.8 764.5 L1737.6 764.5 L1739.3 764.6 L1741.0 764.6 L1742.8 764.7 L1744.5 764.8 L1746.2 764.8 L1748.0 764.9 L1749.7 764.9 L1751.4 765.0 L1753.2 765.0 L1754.9 765.1 L1756.6 765.2 L1758.4 765.2 L1760.1 765.3 L1761.8 765.3 L1763.6 765.4 L1765.3 765.4 L1767.0 765.5 L1768.8 765.6 L1770.5 765.6 L1772.2 765.7 L1774.0 765.7 L1775.7 765.8 L1777.4 765.8 L1779.2 765.9 L1780.9 765.9 L1782.6 766.0 L1784.4 766.0 L1786.1 766.1 L1787.8 766.1 L1789.6 766.2 L1791.3 766.2 L1793.0 766.3 L1794.8 766.3 L1796.5 766.4 L1798.2 766.4 L1800.0 766.5 L1801.7 766.5 L1803.4 766.6 L1805.2 766.6 L1806.9 766.7 L1808.6 766.7 L1810.4 766.8 L1812.1 766.8 L1813.8 766.9 L1815.6 766.9 L1817.3 767.0 L1819.0 767.0 L1820.8 767.1 L1822.5 767.1 L1824.2 767.2 L1826.0 767.2 L1827.7 767.2 L1829.4 767.3 L1831.2 767.3 L1832.9 767.4 L1834.6 767.4 L1836.4 767.5 L1838.1 767.5 L1839.8 767.5 L1841.6 767.6 L1843.3 767.6 L1845.0 767.7 L1846.8 767.7 L1848.5 767.8 L1850.2 767.8 L1852.0 767.8 L1853.7 767.9 L1855.4 767.9 L1857.2 768.0 L1858.9 768.0 L1860.6 768.0 L1862.4 768.1 L1864.1 768.1 L1865.8 768.2 L1867.6 768.2 L1869.3 768.2 L1871.0 768.3 L1872.8 768.3 L1874.5 768.3 L1876.2 768.4 L1878.0 768.4 L1879.7 768.5 L1881.4 768.5 L1883.2 768.5 L1884.9 768.6 L1886.6 768.6 L1888.4 768.6 L1890.1 768.7 L1891.8 768.7 L1893.6 768.7 L1895.3 768.8 L1897.0 768.8 L1898.8 768.8 L1900.5 768.9 L1902.2 768.9 L1904.0 768.9 L1905.7 769.0 L1907.4 769.0 L1909.2 769.0 L1910.9 769.1 L1912.6 769.1 L1914.4 769.1 L1916.1 769.2 L1917.8 769.2 L1919.6 769.2 L1921.3 769.3 L1923.1 769.3 L1924.8 769.3 L1926.5 769.4 L1928.3 769.4 L1930.0 769.4 L1931.7 769.5 L1933.5 769.5 L1935.2 769.5 L1936.9 769.5 L1938.7 769.6 L1940.4 769.6 L1942.1 769.6 L1943.9 769.7 L1945.6 769.7 L1947.3 769.7 L1949.1 769.7 L1950.8 769.8 L1952.5 769.8 L1954.3 769.8 L1956.0 769.8 L1957.7 769.9 L1959.5 769.9 L1961.2 769.9 L1962.9 770.0 L1964.7 770.0 L1966.4 770.0 L1968.1 770.0 L1969.9 770.1 L1971.6 770.1 L1973.3 770.1 L1975.1 770.1 L1976.8 770.2 L1978.5 770.2 L1980.3 770.2 L1982.0 770.2 L1983.7 770.3 L1985.5 770.3 L1987.2 770.3 L1988.9 770.3 L1990.7 770.3 L1992.4 770.4 L1994.2 770.4 L1995.9 770.4 L1997.6 770.4 L1999.4 770.5 L2001.1 770.5 L2002.8 770.5 L2004.6 770.5 L2006.3 770.5 L2008.0 770.6 L2009.8 770.6 L2011.5 770.6 L2013.2 770.6 L2015.0 770.7 L2016.7 770.7 L2018.4 770.7 L2020.2 770.7 L2021.9 770.7 L2023.6 770.8 L2025.4 770.8 L2027.1 770.8 L2028.8 770.8 L2030.6 770.8 L2032.3 770.9 L2034.0 770.9 L2035.8 770.9 L2037.5 770.9 L2039.2 770.9 L2041.0 770.9 L2042.7 771.0 L2044.4 771.0 L2046.2 771.0 L2047.9 771.0 L2049.6 771.0 L2051.4 771.1 L2053.1 771.1 L2054.9 771.1 L2056.6 771.1 L2058.3 771.1 L2060.1 771.1 L2061.8 771.2 L2063.5 771.2 L2065.3 771.2 L2067.0 771.2 L2068.7 771.2 L2070.5 771.2 L2072.2 771.3 L2073.9 771.3 L2075.7 771.3 L2077.4 771.3 L2079.1 771.3 L2080.9 771.3 L2082.6 771.3 L2084.3 771.4 L2086.1 771.4 L2087.8 771.4 L2089.5 771.4 L2091.3 771.4 L2093.0 771.4 L2094.7 771.5 L2096.5 771.5 L2098.2 771.5 L2099.9 771.5 L2101.7 771.5 L2103.4 771.5 L2105.1 771.5 L2106.9 771.6 L2108.6 771.6 L2110.3 771.6 L2112.1 771.6 L2113.8 771.6 L2115.5 771.6 L2117.3 771.6 L2119.0 771.6 L2120.8 771.7 L2122.5 771.7 L2124.2 771.7 L2126.0 771.7 L2127.7 771.7 L2129.4 771.7 L2131.2 771.7 L2132.9 771.7 L2134.6 771.8 L2136.4 771.8 L2138.1 771.8 L2139.8 771.8 L2141.6 771.8 L2143.3 771.8 L2145.0 771.8 L2146.8 771.8 L2148.5 771.9 L2150.2 771.9 L2152.0 771.9 L2153.7 771.9 L2155.4 771.9 L2157.2 771.9 L2158.9 771.9 L2160.6 771.9 L2162.4 771.9 L2164.1 772.0 L2165.8 772.0 L2167.6 772.0 L2169.3 772.0 L2171.0 772.0 L2172.8 772.0 L2174.5 772.0 L2176.2 772.0 L2178.0 772.0 L2179.7 772.0 L2181.4 772.1 L2183.2 772.1 L2184.9 772.1 L2186.6 772.1 L2188.4 772.1 L2190.1 772.1 L2191.8 772.1 L2193.6 772.1 L2195.3 772.1 L2197.0 772.1 L2198.8 772.2 L2200.5 772.2 L2202.3 772.2 L2204.0 772.2 L2205.7 772.2 L2207.5 772.2 L2209.2 772.2 L2210.9 772.2 L2212.7 772.2 L2214.4 772.2 L2216.1 772.3 L2217.9 772.3 L2219.6 772.3 L2221.3 772.3 L2223.1 772.3 L2224.8 772.3 L2226.5 772.3 L2228.3 772.3 L2230.0 772.3 L2231.7 772.3 L2233.5 772.3 L2235.2 772.4 L2236.9 772.4 L2238.7 772.4 L2240.4 772.4 L2242.1 772.4 L2243.9 772.4 L2245.6 772.4 L2247.3 772.4 L2249.1 772.4 L2250.8 772.4 L2252.5 772.4 L2254.3 772.5 L2256.0 772.5 L2257.7 772.5 L2259.5 772.5 L2261.2 772.5 L2262.9 772.5 L2264.7 772.5 L2266.4 772.5 L2268.1 772.5 L2269.9 772.5 L2271.6 772.5 L2273.3 772.5 L2275.1 772.6 L2276.8 772.6 L2278.5 772.6 L2280.3 772.6 L2282.0 772.6 L2283.7 772.6 L2285.5 772.6 L2287.2 772.6 L2288.9 772.6 L2290.7 772.6 L2292.4 772.6 L2294.1 772.7 L2295.9 772.7 L2297.6 772.7 L2299.3 772.7 L2301.1 772.7 L2302.8 772.7 L2304.5 772.7 L2306.3 772.7 L2308.0 772.7 L2309.7 772.7 L2311.5 772.7 L2313.2 772.8 L2314.9 772.8 L2316.7 772.8 L2318.4 772.8 L2320.1 772.8 L2321.9 772.8 L2323.6 772.8 L2325.3 772.8 L2327.1 772.8 L2328.8 772.8 L2330.5 772.8 L2332.3 772.9 L2334.0 772.9 L2335.7 772.9 L2337.4 772.9 L2339.2 772.9 L2340.9 772.9 L2342.6 772.9 L2344.4 772.9 L2346.1 772.9 L2347.8 772.9 L2349.6 773.0 L2351.3 773.0 L2353.0 773.0 L2354.8 773.0 L2356.5 773.0 L2358.2 773.0 L2360.0 773.0" stroke="#ED7D31" stroke-width="9.5"/>
<path d="M385.5 1603.5 L392.5 1596.1 L560.0 1596.1 L560.0 1596.0 L561.7 1596.0 L563.4 1596.1 L565.1 1596.1 L566.8 1596.1 L568.6 1596.1 L570.3 1596.1 L572.1 1596.0 L573.9 1595.8 L575.7 1595.7 L577.4 1595.5 L579.2 1595.3 L580.9 1595.0 L582.7 1594.6 L584.4 1594.3 L586.1 1593.8 L587.8 1593.4 L589.5 1592.8 L591.1 1592.2 L592.7 1591.6 L594.3 1590.9 L595.8 1590.1 L597.3 1589.2 L598.8 1588.3 L600.2 1587.4 L601.6 1586.3 L602.9 1585.3 L604.3 1584.1 L605.5 1583.0 L606.8 1581.8 L607.9 1580.5 L609.1 1579.2 L610.2 1577.9 L611.3 1576.6 L612.3 1575.2 L613.3 1573.8 L614.3 1572.4 L615.2 1570.9 L616.1 1569.5 L616.9 1568.0 L617.8 1566.5 L618.5 1565.0 L619.3 1563.4 L620.0 1561.9 L620.7 1560.3 L621.4 1558.7 L622.1 1557.1 L622.7 1555.5 L623.3 1553.8 L623.9 1552.2 L624.5 1550.6 L625.1 1548.9 L625.6 1547.2 L626.2 1545.6 L626.7 1543.9 L627.2 1542.2 L627.7 1540.5 L628.2 1538.8 L628.7 1537.1 L629.2 1535.4 L629.7 1533.7 L630.2 1532.0 L630.7 1530.3 L631.2 1528.6 L631.6 1526.9 L632.1 1525.2 L632.6 1523.5 L633.1 1521.8 L633.6 1520.1 L634.2 1518.4 L634.7 1516.8 L635.2 1515.1 L635.7 1513.4 L636.3 1511.8 L636.8 1510.1 L637.3 1508.4 L637.8 1506.8 L638.4 1505.1 L638.9 1503.5 L639.5 1501.8 L640.0 1500.1 L640.5 1498.5 L641.1 1496.8 L641.6 1495.2 L642.1 1493.5 L642.6 1491.9 L643.2 1490.2 L643.7 1488.6 L644.2 1486.9 L644.7 1485.3 L645.2 1483.6 L645.7 1482.0 L646.2 1480.3 L646.7 1478.6 L647.2 1477.0 L647.7 1475.3 L648.1 1473.7 L648.6 1472.0 L649.0 1470.3 L649.5 1468.6 L649.9 1467.0 L650.4 1465.3 L650.8 1463.6 L651.2 1461.9 L651.7 1460.3 L652.1 1458.6 L652.5 1456.9 L652.9 1455.2 L653.3 1453.5 L653.7 1451.8 L654.1 1450.2 L654.5 1448.5 L654.9 1446.8 L655.3 1445.1 L655.6 1443.4 L656.0 1441.7 L656.4 1440.0 L656.7 1438.3 L657.1 1436.6 L657.5 1434.9 L657.8 1433.2 L658.2 1431.5 L658.5 1429.8 L658.8 1428.1 L659.2 1426.4 L659.5 1424.7 L659.9 1423.0 L660.2 1421.3 L660.5 1419.6 L660.8 1417.8 L661.2 1416.1 L661.5 1414.4 L661.8 1412.7 L662.1 1411.0 L662.4 1409.3 L662.7 1407.6 L663.0 1405.9 L663.3 1404.1 L663.6 1402.4 L663.9 1400.7 L664.2 1399.0 L664.5 1397.3 L664.8 1395.6 L665.1 1393.8 L665.4 1392.1 L665.7 1390.4 L666.0 1388.7 L666.3 1387.0 L666.6 1385.2 L666.9 1383.5 L667.1 1381.8 L667.4 1380.1 L667.7 1378.4 L668.0 1376.6 L668.3 1374.9 L668.6 1373.2 L668.9 1371.5 L669.1 1369.7 L669.4 1368.0 L669.7 1366.3 L670.0 1364.6 L670.3 1362.9 L670.6 1361.1 L670.8 1359.4 L671.1 1357.7 L671.4 1356.0 L671.7 1354.3 L672.0 1352.5 L672.3 1350.8 L672.6 1349.1 L672.9 1347.4 L673.2 1345.7 L673.5 1343.9 L673.8 1342.2 L674.1 1340.5 L674.4 1338.8 L674.7 1337.1 L675.0 1335.3 L675.3 1333.6 L675.6 1331.9 L675.9 1330.2 L676.2 1328.5 L676.5 1326.8 L676.8 1325.1 L677.1 1323.3 L677.4 1321.6 L677.8 1319.9 L678.1 1318.2 L678.4 1316.5 L678.7 1314.8 L679.0 1313.1 L679.3 1311.4 L679.7 1309.6 L680.0 1307.9 L680.3 1306.2 L680.6 1304.5 L681.0 1302.8 L681.3 1301.1 L681.6 1299.4 L682.0 1297.7 L682.3 1296.0 L682.6 1294.3 L683.0 1292.6 L683.3 1290.9 L683.6 1289.1 L684.0 1287.4 L684.3 1285.7 L684.6 1284.0 L685.0 1282.3 L685.3 1280.6 L685.7 1278.9 L686.0 1277.2 L686.4 1275.5 L686.7 1273.8 L687.0 1272.1 L687.4 1270.4 L687.7 1268.7 L688.1 1267.0 L688.4 1265.3 L688.8 1263.6 L689.1 1261.9 L689.5 1260.2 L689.8 1258.5 L690.2 1256.8 L690.5 1255.1 L690.9 1253.4 L691.3 1251.7 L691.6 1250.0 L692.0 1248.2 L692.3 1246.5 L692.7 1244.8 L693.0 1243.1 L693.4 1241.4 L693.7 1239.7 L694.1 1238.0 L694.5 1236.3 L694.8 1234.6 L695.2 1232.9 L695.5 1231.2 L695.9 1229.5 L696.3 1227.8 L696.6 1226.1 L697.0 1224.4 L697.4 1222.7 L697.7 1221.0 L698.1 1219.3 L698.4 1217.6 L698.8 1215.9 L699.2 1214.2 L699.5 1212.5 L699.9 1210.8 L700.3 1209.1 L700.6 1207.4 L701.0 1205.7 L701.4 1204.0 L701.7 1202.3 L702.1 1200.6 L702.5 1198.9 L702.8 1197.2 L703.2 1195.5 L703.6 1193.8 L703.9 1192.1 L704.3 1190.4 L704.7 1188.7 L705.0 1187.0 L705.4 1185.3 L705.8 1183.6 L706.1 1181.9 L706.5 1180.2 L706.9 1178.5 L707.2 1176.8 L707.6 1175.1 L707.9 1173.4 L708.3 1171.7 L708.7 1170.0 L709.0 1168.3 L709.4 1166.6 L709.8 1164.9 L710.1 1163.2 L710.5 1161.5 L710.9 1159.8 L711.2 1158.1 L711.6 1156.4 L712.0 1154.7 L712.3 1153.0 L712.7 1151.3 L713.1 1149.6 L713.4 1147.9 L713.8 1146.2 L714.2 1144.5 L714.5 1142.8 L714.9 1141.1 L715.3 1139.4 L715.6 1137.7 L716.0 1136.0 L716.4 1134.3 L716.8 1132.6 L717.1 1130.9 L717.5 1129.2 L717.9 1127.5 L718.2 1125.8 L718.6 1124.1 L719.0 1122.4 L719.4 1120.7 L719.7 1119.0 L720.1 1117.3 L720.5 1115.6 L720.8 1113.9 L721.2 1112.2 L721.6 1110.5 L722.0 1108.8 L722.4 1107.1 L722.7 1105.4 L723.1 1103.7 L723.5 1102.0 L723.9 1100.3 L724.3 1098.6 L724.6 1096.9 L725.0 1095.2 L725.4 1093.5 L725.8 1091.8 L726.2 1090.1 L726.6 1088.4 L726.9 1086.7 L727.3 1085.0 L727.7 1083.3 L728.1 1081.6 L728.5 1080.0 L728.9 1078.3 L729.3 1076.6 L729.7 1074.9 L730.1 1073.2 L730.4 1071.5 L730.8 1069.8 L731.2 1068.1 L731.6 1066.4 L732.0 1064.7 L732.4 1063.0 L732.8 1061.3 L733.2 1059.6 L733.6 1057.9 L734.0 1056.2 L734.4 1054.5 L734.9 1052.8 L735.3 1051.2 L735.7 1049.5 L736.1 1047.8 L736.5 1046.1 L736.9 1044.4 L737.3 1042.7 L737.7 1041.0 L738.1 1039.3 L738.6 1037.6 L739.0 1035.9 L739.4 1034.3 L739.8 1032.6 L740.2 1030.9 L740.7 1029.2 L741.1 1027.5 L741.5 1025.8 L741.9 1024.1 L742.4 1022.5 L742.8 1020.8 L743.2 1019.1 L743.7 1017.4 L744.1 1015.7 L744.6 1014.0 L745.0 1012.3 L745.4 1010.7 L745.9 1009.0 L746.3 1007.3 L746.8 1005.6 L747.2 1003.9 L747.7 1002.3 L748.1 1000.6 L748.6 998.9 L749.0 997.2 L749.5 995.5 L749.9 993.9 L750.4 992.2 L750.8 990.5 L751.3 988.8 L751.8 987.2 L752.2 985.5 L752.7 983.8 L753.2 982.1 L753.6 980.5 L754.1 978.8 L754.6 977.1 L755.1 975.4 L755.6 973.8 L756.0 972.1 L756.5 970.4 L757.0 968.7 L757.5 967.1 L758.0 965.4 L758.5 963.7 L759.0 962.1 L759.5 960.4 L760.0 958.7 L760.5 957.1 L761.0 955.4 L761.5 953.7 L762.0 952.1 L762.5 950.4 L763.0 948.7 L763.5 947.1 L764.0 945.4 L764.5 943.8 L765.1 942.1 L765.6 940.4 L766.1 938.8 L766.6 937.1 L767.2 935.5 L767.7 933.8 L768.2 932.1 L768.8 930.5 L769.3 928.8 L769.9 927.2 L770.4 925.5 L770.9 923.9 L771.5 922.2 L772.0 920.6 L772.6 918.9 L773.2 917.3 L773.7 915.6 L774.3 914.0 L774.8 912.3 L775.4 910.7 L776.0 909.0 L776.5 907.4 L777.1 905.7 L777.7 904.1 L778.3 902.4 L778.9 900.8 L779.4 899.2 L780.0 897.5 L780.6 895.9 L781.2 894.2 L781.8 892.6 L782.4 891.0 L783.0 889.3 L783.6 887.7 L784.2 886.0 L784.8 884.4 L785.5 882.8 L786.1 881.1 L786.7 879.5 L787.3 877.9 L787.9 876.2 L788.6 874.6 L789.2 873.0 L789.8 871.4 L790.5 869.7 L791.1 868.1 L791.7 866.5 L792.4 864.9 L793.0 863.2 L793.7 861.6 L794.4 860.0 L795.0 858.4 L795.7 856.7 L796.3 855.1 L797.0 853.5 L797.7 851.9 L798.4 850.3 L799.0 848.7 L799.7 847.0 L800.4 845.4 L801.1 843.8 L801.8 842.2 L802.5 840.6 L803.2 839.0 L803.9 837.4 L804.7 835.8 L805.4 834.3 L806.1 832.7 L806.9 831.1 L807.6 829.5 L808.4 827.9 L809.1 826.4 L809.9 824.8 L810.7 823.2 L811.4 821.7 L812.2 820.1 L813.0 818.6 L813.8 817.0 L814.6 815.5 L815.4 814.0 L816.3 812.4 L817.1 810.9 L817.9 809.4 L818.8 807.9 L819.7 806.4 L820.5 804.9 L821.4 803.4 L822.3 801.9 L823.2 800.4 L824.1 798.9 L825.0 797.5 L825.9 796.0 L826.9 794.5 L827.8 793.1 L828.8 791.7 L829.7 790.2 L830.7 788.8 L831.7 787.4 L832.7 786.0 L833.7 784.6 L834.7 783.2 L835.7 781.8 L836.8 780.4 L837.8 779.1 L838.9 777.7 L840.0 776.4 L841.1 775.0 L842.2 773.7 L843.3 772.4 L844.4 771.1 L845.6 769.8 L846.7 768.5 L847.9 767.2 L849.1 765.9 L850.3 764.6 L851.5 763.4 L852.7 762.2 L854.0 760.9 L855.2 759.7 L856.5 758.5 L857.8 757.3 L859.1 756.1 L860.4 755.0 L861.7 753.8 L863.0 752.6 L864.4 751.5 L865.8 750.4 L867.2 749.3 L868.6 748.2 L870.0 747.1 L871.4 746.0 L872.8 745.0 L874.3 744.0 L875.7 743.0 L877.2 742.0 L878.7 741.0 L880.2 740.0 L881.7 739.1 L883.2 738.2 L884.7 737.3 L886.3 736.4 L887.8 735.6 L889.4 734.8 L890.9 734.0 L892.5 733.2 L894.1 732.5 L895.7 731.7 L897.3 731.0 L898.9 730.4 L900.5 729.7 L902.1 729.1 L903.7 728.5 L905.3 727.9 L907.0 727.3 L908.6 726.8 L910.3 726.2 L911.9 725.7 L913.6 725.3 L915.2 724.8 L916.9 724.4 L918.6 723.9 L920.3 723.5 L922.0 723.1 L923.6 722.8 L925.3 722.4 L927.0 722.1 L928.7 721.8 L930.4 721.5 L932.2 721.2 L933.9 720.9 L935.6 720.7 L937.3 720.4 L939.0 720.2 L940.8 720.0 L942.5 719.8 L944.2 719.6 L946.0 719.5 L947.7 719.3 L949.4 719.2 L951.2 719.0 L952.9 718.9 L954.7 718.8 L956.4 718.7 L958.1 718.6 L959.9 718.5 L961.6 718.5 L963.4 718.4 L965.1 718.4 L966.9 718.3 L968.6 718.3 L970.4 718.3 L972.1 718.2 L973.9 718.2 L975.6 718.2 L977.3 718.2 L979.1 718.2 L980.8 718.2 L982.6 718.3 L984.3 718.3 L986.1 718.3 L987.8 718.4 L989.5 718.4 L991.3 718.5 L993.0 718.5 L994.8 718.6 L996.5 718.6 L998.2 718.7 L1000.0 718.8 L1001.7 718.9 L1003.4 719.0 L1005.2 719.1 L1006.9 719.2 L1008.6 719.3 L1010.4 719.4 L1012.1 719.5 L1013.8 719.6 L1015.6 719.8 L1017.3 719.9 L1019.0 720.0 L1020.8 720.2 L1022.5 720.3 L1024.2 720.5 L1026.0 720.6 L1027.7 720.8 L1029.4 721.0 L1031.2 721.1 L1032.9 721.3 L1034.6 721.5 L1036.3 721.7 L1038.1 721.8 L1039.8 722.0 L1041.5 722.2 L1043.2 722.4 L1045.0 722.6 L1046.7 722.8 L1048.4 723.0 L1050.2 723.2 L1051.9 723.4 L1053.6 723.7 L1055.3 723.9 L1057.1 724.1 L1058.8 724.3 L1060.5 724.5 L1062.2 724.8 L1064.0 725.0 L1065.7 725.2 L1067.4 725.5 L1069.1 725.7 L1070.9 725.9 L1072.6 726.2 L1074.3 726.4 L1076.0 726.6 L1077.8 726.9 L1079.5 727.1 L1081.2 727.4 L1082.9 727.6 L1084.6 727.9 L1086.4 728.1 L1088.1 728.4 L1089.8 728.6 L1091.5 728.9 L1093.3 729.1 L1095.0 729.4 L1096.7 729.7 L1098.4 729.9 L1100.2 730.2 L1101.9 730.4 L1103.6 730.7 L1105.3 731.0 L1107.0 731.2 L1108.8 731.5 L1110.5 731.7 L1112.2 732.0 L1113.9 732.2 L1115.7 732.5 L1117.4 732.8 L1119.1 733.0 L1120.8 733.3 L1122.5 733.5 L1124.3 733.8 L1126.0 734.0 L1127.7 734.3 L1129.4 734.5 L1131.2 734.8 L1132.9 735.0 L1134.6 735.3 L1136.3 735.5 L1138.1 735.8 L1139.8 736.0 L1141.5 736.3 L1143.2 736.5 L1145.0 736.8 L1146.7 737.0 L1148.4 737.2 L1150.1 737.5 L1151.9 737.7 L1153.6 737.9 L1155.3 738.2 L1157.0 738.4 L1158.8 738.6 L1160.5 738.9 L1162.2 739.1 L1164.0 739.3 L1165.7 739.5 L1167.4 739.7 L1169.1 740.0 L1170.9 740.2 L1172.6 740.4 L1174.3 740.6 L1176.0 740.8 L1177.8 741.0 L1179.5 741.2 L1181.2 741.5 L1183.0 741.7 L1184.7 741.9 L1186.4 742.1 L1188.1 742.3 L1189.9 742.5 L1191.6 742.7 L1193.3 742.9 L1195.1 743.1 L1196.8 743.3 L1198.5 743.5 L1200.2 743.7 L1202.0 743.9 L1203.7 744.1 L1205.4 744.3 L1207.2 744.5 L1208.9 744.6 L1210.6 744.8 L1212.4 745.0 L1214.1 745.2 L1215.8 745.4 L1217.5 745.6 L1219.3 745.8 L1221.0 745.9 L1222.7 746.1 L1224.5 746.3 L1226.2 746.5 L1227.9 746.6 L1229.7 746.8 L1231.4 747.0 L1233.1 747.2 L1234.9 747.3 L1236.6 747.5 L1238.3 747.7 L1240.1 747.9 L1241.8 748.0 L1243.5 748.2 L1245.3 748.4 L1247.0 748.5 L1248.7 748.7 L1250.5 748.8 L1252.2 749.0 L1253.9 749.2 L1255.7 749.3 L1257.4 749.5 L1259.1 749.6 L1260.8 749.8 L1262.6 750.0 L1264.3 750.1 L1266.0 750.3 L1267.8 750.4 L1269.5 750.6 L1271.3 750.7 L1273.0 750.9 L1274.7 751.0 L1276.5 751.2 L1278.2 751.3 L1279.9 751.5 L1281.7 751.6 L1283.4 751.8 L1285.1 751.9 L1286.9 752.0 L1288.6 752.2 L1290.3 752.3 L1292.1 752.5 L1293.8 752.6 L1295.5 752.7 L1297.3 752.9 L1299.0 753.0 L1300.7 753.2 L1302.5 753.3 L1304.2 753.4 L1305.9 753.6 L1307.7 753.7 L1309.4 753.8 L1311.1 754.0 L1312.9 754.1 L1314.6 754.2 L1316.3 754.4 L1318.1 754.5 L1319.8 754.6 L1321.5 754.7 L1323.3 754.9 L1325.0 755.0 L1326.8 755.1 L1328.5 755.2 L1330.2 755.4 L1332.0 755.5 L1333.7 755.6 L1335.4 755.7 L1337.2 755.9 L1338.9 756.0 L1340.6 756.1 L1342.4 756.2 L1344.1 756.3 L1345.8 756.5 L1347.6 756.6 L1349.3 756.7 L1351.1 756.8 L1352.8 756.9 L1354.5 757.0 L1356.3 757.1 L1358.0 757.3 L1359.7 757.4 L1361.5 757.5 L1363.2 757.6 L1364.9 757.7 L1366.7 757.8 L1368.4 757.9 L1370.1 758.0 L1371.9 758.1 L1373.6 758.2 L1375.4 758.3 L1377.1 758.5 L1378.8 758.6 L1380.6 758.7 L1382.3 758.8 L1384.0 758.9 L1385.8 759.0 L1387.5 759.1 L1389.2 759.2 L1391.0 759.3 L1392.7 759.4 L1394.5 759.5 L1396.2 759.6 L1397.9 759.7 L1399.7 759.8 L1401.4 759.9 L1403.1 760.0 L1404.9 760.0 L1406.6 760.1 L1408.4 760.2 L1410.1 760.3 L1411.8 760.4 L1413.6 760.5 L1415.3 760.6 L1417.0 760.7 L1418.8 760.8 L1420.5 760.9 L1422.3 761.0 L1424.0 761.1 L1425.7 761.1 L1427.5 761.2 L1429.2 761.3 L1430.9 761.4 L1432.7 761.5 L1434.4 761.6 L1436.2 761.7 L1437.9 761.7 L1439.6 761.8 L1441.4 761.9 L1443.1 762.0 L1444.8 762.1 L1446.6 762.2 L1448.3 762.2 L1450.1 762.3 L1451.8 762.4 L1453.5 762.5 L1455.3 762.5 L1457.0 762.6 L1458.7 762.7 L1460.5 762.8 L1462.2 762.9 L1464.0 762.9 L1465.7 763.0 L1467.4 763.1 L1469.2 763.2 L1470.9 763.2 L1472.6 763.3 L1474.4 763.4 L1476.1 763.4 L1477.9 763.5 L1479.6 763.6 L1481.3 763.7 L1483.1 763.7 L1484.8 763.8 L1486.6 763.9 L1488.3 763.9 L1490.0 764.0 L1491.8 764.1 L1493.5 764.1 L1495.2 764.2 L1497.0 764.3 L1498.7 764.3 L1500.5 764.4 L1502.2 764.5 L1503.9 764.5 L1505.7 764.6 L1507.4 764.7 L1509.2 764.7 L1510.9 764.8 L1512.6 764.8 L1514.4 764.9 L1516.1 765.0 L1517.9 765.0 L1519.6 765.1 L1521.3 765.2 L1523.1 765.2 L1524.8 765.3 L1526.5 765.3 L1528.3 765.4 L1530.0 765.4 L1531.8 765.5 L1533.5 765.6 L1535.2 765.6 L1537.0 765.7 L1538.7 765.7 L1540.5 765.8 L1542.2 765.8 L1543.9 765.9 L1545.7 765.9 L1547.4 766.0 L1549.2 766.1 L1550.9 766.1 L1552.6 766.2 L1554.4 766.2 L1556.1 766.3 L1557.9 766.3 L1559.6 766.4 L1561.3 766.4 L1563.1 766.5 L1564.8 766.5 L1566.5 766.6 L1568.3 766.6 L1570.0 766.7 L1571.8 766.7 L1573.5 766.8 L1575.2 766.8 L1577.0 766.9 L1578.7 766.9 L1580.5 766.9 L1582.2 767.0 L1583.9 767.0 L1585.7 767.1 L1587.4 767.1 L1589.2 767.2 L1590.9 767.2 L1592.6 767.3 L1594.4 767.3 L1596.1 767.3 L1597.9 767.4 L1599.6 767.4 L1601.3 767.5 L1603.1 767.5 L1604.8 767.6 L1606.6 767.6 L1608.3 767.6 L1610.0 767.7 L1611.8 767.7 L1613.5 767.8 L1615.3 767.8 L1617.0 767.8 L1618.7 767.9 L1620.5 767.9 L1622.2 768.0 L1624.0 768.0 L1625.7 768.0 L1627.4 768.1 L1629.2 768.1 L1630.9 768.2 L1632.7 768.2 L1634.4 768.2 L1636.1 768.3 L1637.9 768.3 L1639.6 768.3 L1641.4 768.4 L1643.1 768.4 L1644.8 768.4 L1646.6 768.5 L1648.3 768.5 L1650.1 768.6 L1651.8 768.6 L1653.5 768.6 L1655.3 768.7 L1657.0 768.7 L1658.8 768.7 L1660.5 768.8 L1662.2 768.8 L1664.0 768.8 L1665.7 768.9 L1667.5 768.9 L1669.2 768.9 L1670.9 769.0 L1672.7 769.0 L1674.4 769.0 L1676.2 769.1 L1677.9 769.1 L1679.6 769.1 L1681.4 769.1 L1683.1 769.2 L1684.9 769.2 L1686.6 769.2 L1688.3 769.3 L1690.1 769.3 L1691.8 769.3 L1693.6 769.4 L1695.3 769.4 L1697.0 769.4 L1698.8 769.4 L1700.5 769.5 L1702.3 769.5 L1704.0 769.5 L1705.7 769.6 L1707.5 769.6 L1709.2 769.6 L1711.0 769.6 L1712.7 769.7 L1714.5 769.7 L1716.2 769.7 L1717.9 769.8 L1719.7 769.8 L1721.4 769.8 L1723.2 769.8 L1724.9 769.9 L1726.6 769.9 L1728.4 769.9 L1730.1 769.9 L1731.9 770.0 L1733.6 770.0 L1735.3 770.0 L1737.1 770.1 L1738.8 770.1 L1740.6 770.1 L1742.3 770.1 L1744.0 770.2 L1745.8 770.2 L1747.5 770.2 L1749.3 770.2 L1751.0 770.3 L1752.7 770.3 L1754.5 770.3 L1756.2 770.3 L1758.0 770.4 L1759.7 770.4 L1761.4 770.4 L1763.2 770.4 L1764.9 770.5 L1766.7 770.5 L1768.4 770.5 L1770.1 770.5 L1771.9 770.6 L1773.6 770.6 L1775.4 770.6 L1777.1 770.6 L1778.8 770.7 L1780.6 770.7 L1782.3 770.7 L1784.1 770.7 L1785.8 770.8 L1787.5 770.8 L1789.3 770.8 L1791.0 770.8 L1792.8 770.9 L1794.5 770.9 L1796.2 770.9 L1798.0 770.9 L1799.7 771.0 L1801.5 771.0 L1803.2 771.0 L1804.9 771.0 L1806.7 771.1 L1808.4 771.1 L1810.2 771.1 L1811.9 771.1 L1813.6 771.2 L1815.4 771.2 L1817.1 771.2 L1818.9 771.2 L1820.6 771.3 L1822.3 771.3 L1824.1 771.3 L1825.8 771.3 L1827.6 771.3 L1829.3 771.4 L1831.0 771.4 L1832.8 771.4 L1834.5 771.4 L1836.3 771.5 L1838.0 771.5 L1839.8 771.5 L1841.5 771.5 L1843.2 771.6 L1845.0 771.6 L1846.7 771.6 L1848.5 771.6 L1850.2 771.7 L1851.9 771.7 L1853.7 771.7 L1855.4 771.7 L1857.2 771.8 L1858.9 771.8 L1860.6 771.8 L1862.4 771.8 L1864.1 771.9 L1865.9 771.9 L1867.6 771.9 L1869.3 771.9 L1871.1 772.0 L1872.8 772.0 L1874.6 772.0 L1876.3 772.0 L1878.0 772.0 L1879.8 772.1 L1881.5 772.1 L1883.3 772.1 L1885.0 772.1 L1886.7 772.2 L1888.5 772.2 L1890.2 772.2 L1891.9 772.2 L1893.7 772.3 L1895.4 772.3 L1897.2 772.3 L1898.9 772.3 L1900.6 772.4 L1902.4 772.4 L1904.1 772.4 L1905.9 772.4 L1907.6 772.5 L1909.3 772.5 L1911.1 772.5 L1912.8 772.5 L1914.6 772.5 L1916.3 772.6 L1918.0 772.6 L1919.8 772.6 L1921.5 772.6 L1923.3 772.7 L1925.0 772.7 L1926.7 772.7 L1928.5 772.7 L1930.2 772.8 L1932.0 772.8 L1933.7 772.8 L1935.4 772.8 L1937.2 772.8 L1938.9 772.9 L1940.7 772.9 L1942.4 772.9 L1944.1 772.9 L1945.9 773.0 L1947.6 773.0 L1949.4 773.0 L1951.1 773.0 L1952.8 773.1 L1954.6 773.1 L1956.3 773.1 L1958.1 773.1 L1959.8 773.1 L1961.5 773.2 L1963.3 773.2 L1965.0 773.2 L1966.8 773.2 L1968.5 773.3 L1970.2 773.3 L1972.0 773.3 L1973.7 773.3 L1975.5 773.3 L1977.2 773.4 L1978.9 773.4 L1980.7 773.4 L1982.4 773.4 L1984.2 773.5 L1985.9 773.5 L1987.6 773.5 L1989.4 773.5 L1991.1 773.5 L1992.9 773.6 L1994.6 773.6 L1996.3 773.6 L1998.1 773.6 L1999.8 773.6 L2001.6 773.7 L2003.3 773.7 L2005.0 773.7 L2006.8 773.7 L2008.5 773.8 L2010.3 773.8 L2012.0 773.8 L2013.7 773.8 L2015.5 773.8 L2017.2 773.9 L2019.0 773.9 L2020.7 773.9 L2022.4 773.9 L2024.2 773.9 L2025.9 774.0 L2027.7 774.0 L2029.4 774.0 L2031.1 774.0 L2032.9 774.0 L2034.6 774.1 L2036.4 774.1 L2038.1 774.1 L2039.8 774.1 L2041.6 774.1 L2043.3 774.2 L2045.1 774.2 L2046.8 774.2 L2048.5 774.2 L2050.3 774.2 L2052.0 774.3 L2053.8 774.3 L2055.5 774.3 L2057.2 774.3 L2059.0 774.3 L2060.7 774.4 L2062.4 774.4 L2064.2 774.4 L2065.9 774.4 L2067.7 774.4 L2069.4 774.5 L2071.1 774.5 L2072.9 774.5 L2074.6 774.5 L2076.4 774.5 L2078.1 774.6 L2079.8 774.6 L2081.6 774.6 L2083.3 774.6 L2085.1 774.6 L2086.8 774.6 L2088.5 774.7 L2090.3 774.7 L2092.0 774.7 L2093.8 774.7 L2095.5 774.7 L2097.2 774.8 L2099.0 774.8 L2100.7 774.8 L2102.5 774.8 L2104.2 774.8 L2105.9 774.8 L2107.7 774.9 L2109.4 774.9 L2111.2 774.9 L2112.9 774.9 L2114.6 774.9 L2116.4 774.9 L2118.1 775.0 L2119.9 775.0 L2121.6 775.0 L2123.3 775.0 L2125.1 775.0 L2126.8 775.0 L2128.6 775.1 L2130.3 775.1 L2132.0 775.1 L2133.8 775.1 L2135.5 775.1 L2137.3 775.1 L2139.0 775.2 L2140.7 775.2 L2142.5 775.2 L2144.2 775.2 L2146.0 775.2 L2147.7 775.2 L2149.4 775.3 L2151.2 775.3 L2152.9 775.3 L2154.7 775.3 L2156.4 775.3 L2158.1 775.3 L2159.9 775.3 L2161.6 775.4 L2163.4 775.4 L2165.1 775.4 L2166.8 775.4 L2168.6 775.4 L2170.3 775.4 L2172.1 775.5 L2173.8 775.5 L2175.5 775.5 L2177.3 775.5 L2179.0 775.5 L2180.8 775.5 L2182.5 775.5 L2184.2 775.6 L2186.0 775.6 L2187.7 775.6 L2189.5 775.6 L2191.2 775.6 L2192.9 775.6 L2194.7 775.6 L2196.4 775.6 L2198.2 775.7 L2199.9 775.7 L2201.6 775.7 L2203.4 775.7 L2205.1 775.7 L2206.9 775.7 L2208.6 775.7 L2210.3 775.7 L2212.1 775.8 L2213.8 775.8 L2215.6 775.8 L2217.3 775.8 L2219.0 775.8 L2220.8 775.8 L2222.5 775.8 L2224.3 775.8 L2226.0 775.9 L2227.7 775.9 L2229.5 775.9 L2231.2 775.9 L2233.0 775.9 L2234.7 775.9 L2236.4 775.9 L2238.2 775.9 L2239.9 775.9 L2241.7 776.0 L2243.4 776.0 L2245.1 776.0 L2246.9 776.0 L2248.6 776.0 L2250.4 776.0 L2252.1 776.0 L2253.8 776.0 L2255.6 776.0 L2257.3 776.0 L2259.1 776.1 L2260.8 776.1 L2262.5 776.1 L2264.3 776.1 L2266.0 776.1 L2267.8 776.1 L2269.5 776.1 L2271.2 776.1 L2273.0 776.1 L2274.7 776.1 L2276.5 776.1 L2278.2 776.1 L2279.9 776.2 L2281.7 776.2 L2283.4 776.2 L2285.2 776.2 L2286.9 776.2 L2288.6 776.2 L2290.4 776.2 L2292.1 776.2 L2293.9 776.2 L2295.6 776.2 L2297.3 776.2 L2299.1 776.2 L2300.8 776.2 L2302.6 776.2 L2304.3 776.3 L2306.1 776.3 L2307.8 776.3 L2309.5 776.3 L2311.3 776.3 L2313.0 776.3 L2314.8 776.3 L2316.5 776.3 L2318.2 776.3 L2320.0 776.3 L2321.7 776.3 L2323.5 776.3 L2325.2 776.3 L2326.9 776.3 L2328.7 776.3 L2330.4 776.3 L2332.2 776.3 L2333.9 776.3 L2335.6 776.3 L2337.4 776.3 L2339.1 776.4 L2340.9 776.4 L2342.6 776.4 L2344.3 776.4 L2346.1 776.4 L2347.8 776.4 L2349.6 776.4 L2351.3 776.4 L2353.0 776.4 L2354.8 776.4 L2356.5 776.4 L2358.3 776.4 L2360.0 776.4" stroke="#C00000" stroke-width="11.6" stroke-linecap="round" stroke-dasharray="36.0 47.0" stroke-dashoffset="39.0"/>
<path d="M385.5 1603.5 L392.5 1596.1 L530.0 1596.1 L530.0 1595.9 L531.7 1596.1 L533.4 1596.2 L535.1 1596.3 L536.8 1596.4 L538.5 1596.5 L540.2 1596.5 L542.0 1596.5 L543.7 1596.4 L545.5 1596.4 L547.2 1596.2 L548.9 1596.1 L550.7 1595.9 L552.4 1595.7 L554.2 1595.5 L555.9 1595.2 L557.6 1594.9 L559.4 1594.6 L561.1 1594.2 L562.8 1593.8 L564.5 1593.3 L566.2 1592.9 L567.9 1592.4 L569.5 1591.8 L571.2 1591.2 L572.8 1590.6 L574.5 1589.9 L576.1 1589.2 L577.6 1588.5 L579.2 1587.7 L580.8 1586.9 L582.3 1586.1 L583.8 1585.2 L585.2 1584.3 L586.7 1583.3 L588.1 1582.4 L589.5 1581.3 L590.9 1580.3 L592.2 1579.2 L593.5 1578.1 L594.8 1576.9 L596.0 1575.7 L597.2 1574.5 L598.4 1573.3 L599.6 1572.0 L600.7 1570.7 L601.8 1569.4 L602.8 1568.1 L603.8 1566.7 L604.8 1565.3 L605.8 1563.9 L606.7 1562.4 L607.6 1561.0 L608.5 1559.5 L609.4 1558.0 L610.2 1556.5 L611.0 1555.0 L611.8 1553.5 L612.6 1551.9 L613.4 1550.4 L614.2 1548.8 L614.9 1547.2 L615.6 1545.6 L616.4 1544.1 L617.1 1542.5 L617.8 1540.9 L618.5 1539.3 L619.2 1537.7 L619.8 1536.1 L620.5 1534.4 L621.2 1532.8 L621.9 1531.2 L622.5 1529.6 L623.2 1528.0 L623.9 1526.4 L624.5 1524.8 L625.2 1523.2 L625.8 1521.5 L626.5 1519.9 L627.1 1518.3 L627.7 1516.7 L628.3 1515.1 L629.0 1513.4 L629.6 1511.8 L630.2 1510.2 L630.8 1508.6 L631.4 1506.9 L632.0 1505.3 L632.6 1503.7 L633.2 1502.0 L633.8 1500.4 L634.4 1498.8 L635.0 1497.1 L635.5 1495.5 L636.1 1493.8 L636.7 1492.2 L637.2 1490.6 L637.8 1488.9 L638.4 1487.3 L638.9 1485.6 L639.5 1484.0 L640.0 1482.4 L640.6 1480.7 L641.1 1479.1 L641.6 1477.4 L642.2 1475.8 L642.7 1474.1 L643.2 1472.5 L643.7 1470.8 L644.3 1469.2 L644.8 1467.5 L645.3 1465.8 L645.8 1464.2 L646.3 1462.5 L646.8 1460.9 L647.3 1459.2 L647.8 1457.6 L648.3 1455.9 L648.8 1454.2 L649.3 1452.6 L649.8 1450.9 L650.3 1449.3 L650.8 1447.6 L651.3 1445.9 L651.8 1444.3 L652.3 1442.6 L652.7 1440.9 L653.2 1439.3 L653.7 1437.6 L654.2 1435.9 L654.6 1434.3 L655.1 1432.6 L655.6 1430.9 L656.0 1429.3 L656.5 1427.6 L657.0 1425.9 L657.4 1424.3 L657.9 1422.6 L658.3 1420.9 L658.8 1419.2 L659.2 1417.6 L659.7 1415.9 L660.1 1414.2 L660.6 1412.5 L661.0 1410.9 L661.5 1409.2 L661.9 1407.5 L662.4 1405.8 L662.8 1404.2 L663.3 1402.5 L663.7 1400.8 L664.1 1399.1 L664.6 1397.5 L665.0 1395.8 L665.5 1394.1 L665.9 1392.4 L666.3 1390.8 L666.8 1389.1 L667.2 1387.4 L667.7 1385.7 L668.1 1384.0 L668.5 1382.4 L669.0 1380.7 L669.4 1379.0 L669.8 1377.3 L670.3 1375.7 L670.7 1374.0 L671.1 1372.3 L671.6 1370.6 L672.0 1368.9 L672.4 1367.3 L672.9 1365.6 L673.3 1363.9 L673.7 1362.2 L674.2 1360.5 L674.6 1358.9 L675.0 1357.2 L675.5 1355.5 L675.9 1353.8 L676.3 1352.2 L676.8 1350.5 L677.2 1348.8 L677.6 1347.1 L678.1 1345.4 L678.5 1343.8 L678.9 1342.1 L679.4 1340.4 L679.8 1338.7 L680.2 1337.0 L680.6 1335.4 L681.1 1333.7 L681.5 1332.0 L681.9 1330.3 L682.4 1328.6 L682.8 1327.0 L683.2 1325.3 L683.7 1323.6 L684.1 1321.9 L684.5 1320.2 L685.0 1318.6 L685.4 1316.9 L685.8 1315.2 L686.2 1313.5 L686.7 1311.8 L687.1 1310.2 L687.5 1308.5 L688.0 1306.8 L688.4 1305.1 L688.8 1303.4 L689.2 1301.8 L689.7 1300.1 L690.1 1298.4 L690.5 1296.7 L691.0 1295.0 L691.4 1293.4 L691.8 1291.7 L692.3 1290.0 L692.7 1288.3 L693.1 1286.6 L693.5 1285.0 L694.0 1283.3 L694.4 1281.6 L694.8 1279.9 L695.3 1278.2 L695.7 1276.6 L696.1 1274.9 L696.5 1273.2 L697.0 1271.5 L697.4 1269.8 L697.8 1268.2 L698.3 1266.5 L698.7 1264.8 L699.1 1263.1 L699.5 1261.4 L700.0 1259.8 L700.4 1258.1 L700.8 1256.4 L701.3 1254.7 L701.7 1253.0 L702.1 1251.4 L702.5 1249.7 L703.0 1248.0 L703.4 1246.3 L703.8 1244.6 L704.3 1243.0 L704.7 1241.3 L705.1 1239.6 L705.5 1237.9 L706.0 1236.2 L706.4 1234.6 L706.8 1232.9 L707.3 1231.2 L707.7 1229.5 L708.1 1227.8 L708.5 1226.2 L709.0 1224.5 L709.4 1222.8 L709.8 1221.1 L710.3 1219.4 L710.7 1217.8 L711.1 1216.1 L711.5 1214.4 L712.0 1212.7 L712.4 1211.0 L712.8 1209.4 L713.3 1207.7 L713.7 1206.0 L714.1 1204.3 L714.6 1202.6 L715.0 1201.0 L715.4 1199.3 L715.8 1197.6 L716.3 1195.9 L716.7 1194.2 L717.1 1192.6 L717.6 1190.9 L718.0 1189.2 L718.4 1187.5 L718.9 1185.8 L719.3 1184.2 L719.7 1182.5 L720.1 1180.8 L720.6 1179.1 L721.0 1177.4 L721.4 1175.8 L721.9 1174.1 L722.3 1172.4 L722.7 1170.7 L723.2 1169.0 L723.6 1167.4 L724.0 1165.7 L724.5 1164.0 L724.9 1162.3 L725.3 1160.6 L725.8 1159.0 L726.2 1157.3 L726.6 1155.6 L727.1 1153.9 L727.5 1152.2 L727.9 1150.6 L728.4 1148.9 L728.8 1147.2 L729.2 1145.5 L729.7 1143.9 L730.1 1142.2 L730.5 1140.5 L731.0 1138.8 L731.4 1137.1 L731.8 1135.5 L732.3 1133.8 L732.7 1132.1 L733.1 1130.4 L733.6 1128.7 L734.0 1127.1 L734.5 1125.4 L734.9 1123.7 L735.3 1122.0 L735.8 1120.4 L736.2 1118.7 L736.6 1117.0 L737.1 1115.3 L737.5 1113.6 L738.0 1112.0 L738.4 1110.3 L738.8 1108.6 L739.3 1106.9 L739.7 1105.3 L740.1 1103.6 L740.6 1101.9 L741.0 1100.2 L741.5 1098.6 L741.9 1096.9 L742.4 1095.2 L742.8 1093.5 L743.3 1091.9 L743.7 1090.2 L744.2 1088.5 L744.6 1086.8 L745.1 1085.2 L745.5 1083.5 L746.0 1081.8 L746.5 1080.2 L746.9 1078.5 L747.4 1076.8 L747.9 1075.2 L748.4 1073.5 L748.8 1071.8 L749.3 1070.2 L749.8 1068.5 L750.3 1066.8 L750.8 1065.2 L751.3 1063.5 L751.8 1061.9 L752.3 1060.2 L752.8 1058.5 L753.3 1056.9 L753.9 1055.2 L754.4 1053.6 L754.9 1051.9 L755.4 1050.3 L756.0 1048.6 L756.5 1047.0 L757.1 1045.4 L757.6 1043.7 L758.2 1042.1 L758.7 1040.4 L759.3 1038.8 L759.8 1037.1 L760.4 1035.5 L761.0 1033.9 L761.6 1032.2 L762.1 1030.6 L762.7 1029.0 L763.3 1027.3 L763.9 1025.7 L764.4 1024.1 L765.0 1022.4 L765.6 1020.8 L766.2 1019.2 L766.8 1017.5 L767.3 1015.9 L767.9 1014.2 L768.5 1012.6 L769.1 1011.0 L769.7 1009.3 L770.2 1007.7 L770.8 1006.1 L771.4 1004.4 L772.0 1002.8 L772.5 1001.2 L773.1 999.5 L773.7 997.9 L774.2 996.2 L774.8 994.6 L775.3 992.9 L775.9 991.3 L776.5 989.7 L777.0 988.0 L777.6 986.4 L778.1 984.7 L778.6 983.1 L779.2 981.4 L779.7 979.8 L780.3 978.1 L780.8 976.5 L781.3 974.8 L781.9 973.2 L782.4 971.5 L783.0 969.9 L783.5 968.2 L784.0 966.6 L784.6 964.9 L785.1 963.3 L785.6 961.6 L786.2 959.9 L786.7 958.3 L787.3 956.7 L787.8 955.0 L788.3 953.4 L788.9 951.7 L789.4 950.1 L790.0 948.4 L790.5 946.8 L791.1 945.1 L791.7 943.5 L792.2 941.8 L792.8 940.2 L793.4 938.6 L793.9 936.9 L794.5 935.3 L795.1 933.7 L795.7 932.0 L796.3 930.4 L796.9 928.8 L797.5 927.2 L798.1 925.5 L798.7 923.9 L799.3 922.3 L799.9 920.7 L800.5 919.1 L801.2 917.5 L801.8 915.8 L802.4 914.2 L803.1 912.6 L803.7 911.0 L804.4 909.4 L805.1 907.8 L805.8 906.3 L806.5 904.7 L807.1 903.1 L807.8 901.5 L808.6 899.9 L809.3 898.3 L810.0 896.8 L810.7 895.2 L811.5 893.6 L812.2 892.1 L812.9 890.5 L813.7 888.9 L814.5 887.4 L815.2 885.8 L816.0 884.3 L816.8 882.7 L817.5 881.2 L818.3 879.6 L819.1 878.1 L819.9 876.5 L820.7 875.0 L821.5 873.4 L822.3 871.9 L823.1 870.4 L823.9 868.8 L824.7 867.3 L825.5 865.7 L826.3 864.2 L827.1 862.7 L827.9 861.1 L828.7 859.6 L829.6 858.1 L830.4 856.5 L831.2 855.0 L832.0 853.5 L832.8 851.9 L833.6 850.4 L834.5 848.9 L835.3 847.4 L836.1 845.8 L836.9 844.3 L837.8 842.8 L838.6 841.3 L839.4 839.7 L840.3 838.2 L841.1 836.7 L842.0 835.2 L842.8 833.7 L843.7 832.2 L844.5 830.7 L845.4 829.2 L846.3 827.7 L847.1 826.2 L848.0 824.7 L848.9 823.2 L849.8 821.7 L850.7 820.3 L851.6 818.8 L852.5 817.3 L853.4 815.8 L854.3 814.4 L855.3 812.9 L856.2 811.5 L857.2 810.0 L858.1 808.6 L859.1 807.1 L860.1 805.7 L861.1 804.3 L862.0 802.9 L863.0 801.4 L864.0 800.0 L865.0 798.6 L866.1 797.2 L867.1 795.8 L868.1 794.4 L869.1 793.0 L870.2 791.6 L871.2 790.3 L872.3 788.9 L873.3 787.5 L874.4 786.1 L875.5 784.8 L876.5 783.4 L877.6 782.0 L878.7 780.7 L879.8 779.3 L880.9 778.0 L882.0 776.6 L883.1 775.3 L884.2 774.0 L885.3 772.6 L886.4 771.3 L887.6 770.0 L888.7 768.7 L889.9 767.4 L891.0 766.1 L892.2 764.9 L893.4 763.6 L894.6 762.4 L895.8 761.1 L897.1 759.9 L898.3 758.7 L899.6 757.5 L900.8 756.3 L902.1 755.1 L903.4 754.0 L904.7 752.9 L906.0 751.7 L907.4 750.6 L908.7 749.5 L910.1 748.5 L911.5 747.4 L912.9 746.4 L914.3 745.3 L915.7 744.3 L917.2 743.3 L918.6 742.3 L920.1 741.4 L921.5 740.4 L923.0 739.5 L924.5 738.6 L926.0 737.7 L927.5 736.8 L929.1 735.9 L930.6 735.1 L932.1 734.2 L933.7 733.4 L935.2 732.6 L936.8 731.8 L938.4 731.1 L939.9 730.3 L941.5 729.6 L943.1 728.9 L944.7 728.2 L946.3 727.5 L947.9 726.8 L949.5 726.2 L951.1 725.5 L952.7 724.9 L954.4 724.3 L956.0 723.7 L957.6 723.1 L959.3 722.6 L960.9 722.0 L962.5 721.5 L964.2 721.0 L965.8 720.5 L967.5 720.0 L969.1 719.6 L970.8 719.1 L972.4 718.7 L974.1 718.3 L975.8 717.9 L977.4 717.5 L979.1 717.1 L980.8 716.7 L982.5 716.4 L984.2 716.0 L985.8 715.7 L987.5 715.4 L989.2 715.1 L990.9 714.8 L992.6 714.5 L994.3 714.3 L996.0 714.0 L997.7 713.8 L999.4 713.5 L1001.1 713.3 L1002.9 713.1 L1004.6 712.9 L1006.3 712.7 L1008.0 712.6 L1009.7 712.4 L1011.4 712.2 L1013.2 712.1 L1014.9 712.0 L1016.6 711.9 L1018.3 711.7 L1020.1 711.6 L1021.8 711.6 L1023.5 711.5 L1025.3 711.4 L1027.0 711.3 L1028.7 711.3 L1030.5 711.2 L1032.2 711.2 L1033.9 711.2 L1035.7 711.1 L1037.4 711.1 L1039.2 711.1 L1040.9 711.1 L1042.7 711.1 L1044.4 711.2 L1046.1 711.2 L1047.9 711.2 L1049.6 711.3 L1051.4 711.3 L1053.1 711.4 L1054.9 711.4 L1056.6 711.5 L1058.4 711.5 L1060.1 711.6 L1061.9 711.7 L1063.6 711.8 L1065.4 711.9 L1067.1 712.0 L1068.9 712.1 L1070.6 712.2 L1072.3 712.3 L1074.1 712.4 L1075.8 712.5 L1077.6 712.7 L1079.3 712.8 L1081.1 712.9 L1082.8 713.1 L1084.6 713.2 L1086.3 713.3 L1088.0 713.5 L1089.8 713.6 L1091.5 713.8 L1093.3 713.9 L1095.0 714.1 L1096.7 714.3 L1098.5 714.4 L1100.2 714.6 L1101.9 714.7 L1103.6 714.9 L1105.4 715.1 L1107.1 715.2 L1108.8 715.4 L1110.6 715.6 L1112.3 715.8 L1114.0 715.9 L1115.7 716.1 L1117.4 716.3 L1119.2 716.5 L1120.9 716.7 L1122.6 716.8 L1124.3 717.0 L1126.0 717.2 L1127.8 717.4 L1129.5 717.6 L1131.2 717.8 L1132.9 718.0 L1134.6 718.2 L1136.3 718.4 L1138.0 718.5 L1139.8 718.7 L1141.5 718.9 L1143.2 719.1 L1144.9 719.3 L1146.6 719.5 L1148.3 719.7 L1150.0 719.9 L1151.7 720.1 L1153.4 720.3 L1155.2 720.5 L1156.9 720.7 L1158.6 720.9 L1160.3 721.1 L1162.0 721.3 L1163.7 721.5 L1165.4 721.7 L1167.1 721.9 L1168.9 722.1 L1170.6 722.3 L1172.3 722.5 L1174.0 722.7 L1175.7 722.9 L1177.4 723.1 L1179.1 723.3 L1180.9 723.5 L1182.6 723.6 L1184.3 723.8 L1186.0 724.0 L1187.7 724.2 L1189.4 724.4 L1191.2 724.6 L1192.9 724.8 L1194.6 725.0 L1196.3 725.2 L1198.0 725.4 L1199.8 725.6 L1201.5 725.8 L1203.2 725.9 L1204.9 726.1 L1206.7 726.3 L1208.4 726.5 L1210.1 726.7 L1211.8 726.9 L1213.5 727.1 L1215.3 727.2 L1217.0 727.4 L1218.7 727.6 L1220.4 727.8 L1222.2 728.0 L1223.9 728.2 L1225.6 728.3 L1227.4 728.5 L1229.1 728.7 L1230.8 728.9 L1232.5 729.1 L1234.3 729.3 L1236.0 729.4 L1237.7 729.6 L1239.4 729.8 L1241.2 730.0 L1242.9 730.2 L1244.6 730.3 L1246.4 730.5 L1248.1 730.7 L1249.8 730.9 L1251.5 731.0 L1253.3 731.2 L1255.0 731.4 L1256.7 731.6 L1258.5 731.8 L1260.2 731.9 L1261.9 732.1 L1263.6 732.3 L1265.4 732.5 L1267.1 732.6 L1268.8 732.8 L1270.6 733.0 L1272.3 733.1 L1274.0 733.3 L1275.7 733.5 L1277.5 733.7 L1279.2 733.8 L1280.9 734.0 L1282.6 734.2 L1284.4 734.3 L1286.1 734.5 L1287.8 734.7 L1289.6 734.9 L1291.3 735.0 L1293.0 735.2 L1294.7 735.4 L1296.5 735.5 L1298.2 735.7 L1299.9 735.9 L1301.7 736.0 L1303.4 736.2 L1305.1 736.4 L1306.8 736.5 L1308.6 736.7 L1310.3 736.9 L1312.0 737.0 L1313.8 737.2 L1315.5 737.4 L1317.2 737.5 L1318.9 737.7 L1320.7 737.8 L1322.4 738.0 L1324.1 738.2 L1325.8 738.3 L1327.6 738.5 L1329.3 738.7 L1331.0 738.8 L1332.8 739.0 L1334.5 739.1 L1336.2 739.3 L1337.9 739.5 L1339.7 739.6 L1341.4 739.8 L1343.1 739.9 L1344.9 740.1 L1346.6 740.2 L1348.3 740.4 L1350.0 740.6 L1351.8 740.7 L1353.5 740.9 L1355.2 741.0 L1356.9 741.2 L1358.7 741.3 L1360.4 741.5 L1362.1 741.6 L1363.9 741.8 L1365.6 741.9 L1367.3 742.1 L1369.0 742.3 L1370.8 742.4 L1372.5 742.6 L1374.2 742.7 L1376.0 742.9 L1377.7 743.0 L1379.4 743.2 L1381.1 743.3 L1382.9 743.5 L1384.6 743.6 L1386.3 743.8 L1388.1 743.9 L1389.8 744.0 L1391.5 744.2 L1393.2 744.3 L1395.0 744.5 L1396.7 744.6 L1398.4 744.8 L1400.1 744.9 L1401.9 745.1 L1403.6 745.2 L1405.3 745.3 L1407.1 745.5 L1408.8 745.6 L1410.5 745.8 L1412.2 745.9 L1414.0 746.1 L1415.7 746.2 L1417.4 746.3 L1419.2 746.5 L1420.9 746.6 L1422.6 746.8 L1424.3 746.9 L1426.1 747.0 L1427.8 747.2 L1429.5 747.3 L1431.3 747.4 L1433.0 747.6 L1434.7 747.7 L1436.4 747.9 L1438.2 748.0 L1439.9 748.1 L1441.6 748.3 L1443.4 748.4 L1445.1 748.5 L1446.8 748.7 L1448.5 748.8 L1450.3 748.9 L1452.0 749.0 L1453.7 749.2 L1455.4 749.3 L1457.2 749.4 L1458.9 749.6 L1460.6 749.7 L1462.4 749.8 L1464.1 750.0 L1465.8 750.1 L1467.5 750.2 L1469.3 750.3 L1471.0 750.5 L1472.7 750.6 L1474.5 750.7 L1476.2 750.8 L1477.9 751.0 L1479.7 751.1 L1481.4 751.2 L1483.1 751.3 L1484.8 751.5 L1486.6 751.6 L1488.3 751.7 L1490.0 751.8 L1491.8 751.9 L1493.5 752.1 L1495.2 752.2 L1496.9 752.3 L1498.7 752.4 L1500.4 752.5 L1502.1 752.6 L1503.9 752.8 L1505.6 752.9 L1507.3 753.0 L1509.0 753.1 L1510.8 753.2 L1512.5 753.3 L1514.2 753.5 L1516.0 753.6 L1517.7 753.7 L1519.4 753.8 L1521.2 753.9 L1522.9 754.0 L1524.6 754.1 L1526.3 754.2 L1528.1 754.3 L1529.8 754.5 L1531.5 754.6 L1533.3 754.7 L1535.0 754.8 L1536.7 754.9 L1538.5 755.0 L1540.2 755.1 L1541.9 755.2 L1543.6 755.3 L1545.4 755.4 L1547.1 755.5 L1548.8 755.6 L1550.6 755.7 L1552.3 755.8 L1554.0 755.9 L1555.8 756.0 L1557.5 756.1 L1559.2 756.3 L1560.9 756.4 L1562.7 756.5 L1564.4 756.6 L1566.1 756.7 L1567.9 756.8 L1569.6 756.9 L1571.3 756.9 L1573.1 757.0 L1574.8 757.1 L1576.5 757.2 L1578.2 757.3 L1580.0 757.4 L1581.7 757.5 L1583.4 757.6 L1585.2 757.7 L1586.9 757.8 L1588.6 757.9 L1590.4 758.0 L1592.1 758.1 L1593.8 758.2 L1595.6 758.3 L1597.3 758.4 L1599.0 758.5 L1600.7 758.6 L1602.5 758.7 L1604.2 758.7 L1605.9 758.8 L1607.7 758.9 L1609.4 759.0 L1611.1 759.1 L1612.9 759.2 L1614.6 759.3 L1616.3 759.4 L1618.1 759.4 L1619.8 759.5 L1621.5 759.6 L1623.3 759.7 L1625.0 759.8 L1626.7 759.9 L1628.4 760.0 L1630.2 760.0 L1631.9 760.1 L1633.6 760.2 L1635.4 760.3 L1637.1 760.4 L1638.8 760.5 L1640.6 760.5 L1642.3 760.6 L1644.0 760.7 L1645.8 760.8 L1647.5 760.9 L1649.2 760.9 L1651.0 761.0 L1652.7 761.1 L1654.4 761.2 L1656.2 761.3 L1657.9 761.3 L1659.6 761.4 L1661.3 761.5 L1663.1 761.6 L1664.8 761.6 L1666.5 761.7 L1668.3 761.8 L1670.0 761.9 L1671.7 761.9 L1673.5 762.0 L1675.2 762.1 L1676.9 762.2 L1678.7 762.2 L1680.4 762.3 L1682.1 762.4 L1683.9 762.5 L1685.6 762.5 L1687.3 762.6 L1689.1 762.7 L1690.8 762.7 L1692.5 762.8 L1694.3 762.9 L1696.0 763.0 L1697.7 763.0 L1699.5 763.1 L1701.2 763.2 L1702.9 763.2 L1704.6 763.3 L1706.4 763.4 L1708.1 763.4 L1709.8 763.5 L1711.6 763.6 L1713.3 763.6 L1715.0 763.7 L1716.8 763.8 L1718.5 763.8 L1720.2 763.9 L1722.0 764.0 L1723.7 764.0 L1725.4 764.1 L1727.2 764.1 L1728.9 764.2 L1730.6 764.3 L1732.4 764.3 L1734.1 764.4 L1735.8 764.5 L1737.6 764.5 L1739.3 764.6 L1741.0 764.6 L1742.8 764.7 L1744.5 764.8 L1746.2 764.8 L1748.0 764.9 L1749.7 764.9 L1751.4 765.0 L1753.2 765.0 L1754.9 765.1 L1756.6 765.2 L1758.4 765.2 L1760.1 765.3 L1761.8 765.3 L1763.6 765.4 L1765.3 765.4 L1767.0 765.5 L1768.8 765.6 L1770.5 765.6 L1772.2 765.7 L1774.0 765.7 L1775.7 765.8 L1777.4 765.8 L1779.2 765.9 L1780.9 765.9 L1782.6 766.0 L1784.4 766.0 L1786.1 766.1 L1787.8 766.1 L1789.6 766.2 L1791.3 766.2 L1793.0 766.3 L1794.8 766.3 L1796.5 766.4 L1798.2 766.4 L1800.0 766.5 L1801.7 766.5 L1803.4 766.6 L1805.2 766.6 L1806.9 766.7 L1808.6 766.7 L1810.4 766.8 L1812.1 766.8 L1813.8 766.9 L1815.6 766.9 L1817.3 767.0 L1819.0 767.0 L1820.8 767.1 L1822.5 767.1 L1824.2 767.2 L1826.0 767.2 L1827.7 767.2 L1829.4 767.3 L1831.2 767.3 L1832.9 767.4 L1834.6 767.4 L1836.4 767.5 L1838.1 767.5 L1839.8 767.5 L1841.6 767.6 L1843.3 767.6 L1845.0 767.7 L1846.8 767.7 L1848.5 767.8 L1850.2 767.8 L1852.0 767.8 L1853.7 767.9 L1855.4 767.9 L1857.2 768.0 L1858.9 768.0 L1860.6 768.0 L1862.4 768.1 L1864.1 768.1 L1865.8 768.2 L1867.6 768.2 L1869.3 768.2 L1871.0 768.3 L1872.8 768.3 L1874.5 768.3 L1876.2 768.4 L1878.0 768.4 L1879.7 768.5 L1881.4 768.5 L1883.2 768.5 L1884.9 768.6 L1886.6 768.6 L1888.4 768.6 L1890.1 768.7 L1891.8 768.7 L1893.6 768.7 L1895.3 768.8 L1897.0 768.8 L1898.8 768.8 L1900.5 768.9 L1902.2 768.9 L1904.0 768.9 L1905.7 769.0 L1907.4 769.0 L1909.2 769.0 L1910.9 769.1 L1912.6 769.1 L1914.4 769.1 L1916.1 769.2 L1917.8 769.2 L1919.6 769.2 L1921.3 769.3 L1923.1 769.3 L1924.8 769.3 L1926.5 769.4 L1928.3 769.4 L1930.0 769.4 L1931.7 769.5 L1933.5 769.5 L1935.2 769.5 L1936.9 769.5 L1938.7 769.6 L1940.4 769.6 L1942.1 769.6 L1943.9 769.7 L1945.6 769.7 L1947.3 769.7 L1949.1 769.7 L1950.8 769.8 L1952.5 769.8 L1954.3 769.8 L1956.0 769.8 L1957.7 769.9 L1959.5 769.9 L1961.2 769.9 L1962.9 770.0 L1964.7 770.0 L1966.4 770.0 L1968.1 770.0 L1969.9 770.1 L1971.6 770.1 L1973.3 770.1 L1975.1 770.1 L1976.8 770.2 L1978.5 770.2 L1980.3 770.2 L1982.0 770.2 L1983.7 770.3 L1985.5 770.3 L1987.2 770.3 L1988.9 770.3 L1990.7 770.3 L1992.4 770.4 L1994.2 770.4 L1995.9 770.4 L1997.6 770.4 L1999.4 770.5 L2001.1 770.5 L2002.8 770.5 L2004.6 770.5 L2006.3 770.5 L2008.0 770.6 L2009.8 770.6 L2011.5 770.6 L2013.2 770.6 L2015.0 770.7 L2016.7 770.7 L2018.4 770.7 L2020.2 770.7 L2021.9 770.7 L2023.6 770.8 L2025.4 770.8 L2027.1 770.8 L2028.8 770.8 L2030.6 770.8 L2032.3 770.9 L2034.0 770.9 L2035.8 770.9 L2037.5 770.9 L2039.2 770.9 L2041.0 770.9 L2042.7 771.0 L2044.4 771.0 L2046.2 771.0 L2047.9 771.0 L2049.6 771.0 L2051.4 771.1 L2053.1 771.1 L2054.9 771.1 L2056.6 771.1 L2058.3 771.1 L2060.1 771.1 L2061.8 771.2 L2063.5 771.2 L2065.3 771.2 L2067.0 771.2 L2068.7 771.2 L2070.5 771.2 L2072.2 771.3 L2073.9 771.3 L2075.7 771.3 L2077.4 771.3 L2079.1 771.3 L2080.9 771.3 L2082.6 771.3 L2084.3 771.4 L2086.1 771.4 L2087.8 771.4 L2089.5 771.4 L2091.3 771.4 L2093.0 771.4 L2094.7 771.5 L2096.5 771.5 L2098.2 771.5 L2099.9 771.5 L2101.7 771.5 L2103.4 771.5 L2105.1 771.5 L2106.9 771.6 L2108.6 771.6 L2110.3 771.6 L2112.1 771.6 L2113.8 771.6 L2115.5 771.6 L2117.3 771.6 L2119.0 771.6 L2120.8 771.7 L2122.5 771.7 L2124.2 771.7 L2126.0 771.7 L2127.7 771.7 L2129.4 771.7 L2131.2 771.7 L2132.9 771.7 L2134.6 771.8 L2136.4 771.8 L2138.1 771.8 L2139.8 771.8 L2141.6 771.8 L2143.3 771.8 L2145.0 771.8 L2146.8 771.8 L2148.5 771.9 L2150.2 771.9 L2152.0 771.9 L2153.7 771.9 L2155.4 771.9 L2157.2 771.9 L2158.9 771.9 L2160.6 771.9 L2162.4 771.9 L2164.1 772.0 L2165.8 772.0 L2167.6 772.0 L2169.3 772.0 L2171.0 772.0 L2172.8 772.0 L2174.5 772.0 L2176.2 772.0 L2178.0 772.0 L2179.7 772.0 L2181.4 772.1 L2183.2 772.1 L2184.9 772.1 L2186.6 772.1 L2188.4 772.1 L2190.1 772.1 L2191.8 772.1 L2193.6 772.1 L2195.3 772.1 L2197.0 772.1 L2198.8 772.2 L2200.5 772.2 L2202.3 772.2 L2204.0 772.2 L2205.7 772.2 L2207.5 772.2 L2209.2 772.2 L2210.9 772.2 L2212.7 772.2 L2214.4 772.2 L2216.1 772.3 L2217.9 772.3 L2219.6 772.3 L2221.3 772.3 L2223.1 772.3 L2224.8 772.3 L2226.5 772.3 L2228.3 772.3 L2230.0 772.3 L2231.7 772.3 L2233.5 772.3 L2235.2 772.4 L2236.9 772.4 L2238.7 772.4 L2240.4 772.4 L2242.1 772.4 L2243.9 772.4 L2245.6 772.4 L2247.3 772.4 L2249.1 772.4 L2250.8 772.4 L2252.5 772.4 L2254.3 772.5 L2256.0 772.5 L2257.7 772.5 L2259.5 772.5 L2261.2 772.5 L2262.9 772.5 L2264.7 772.5 L2266.4 772.5 L2268.1 772.5 L2269.9 772.5 L2271.6 772.5 L2273.3 772.5 L2275.1 772.6 L2276.8 772.6 L2278.5 772.6 L2280.3 772.6 L2282.0 772.6 L2283.7 772.6 L2285.5 772.6 L2287.2 772.6 L2288.9 772.6 L2290.7 772.6 L2292.4 772.6 L2294.1 772.7 L2295.9 772.7 L2297.6 772.7 L2299.3 772.7 L2301.1 772.7 L2302.8 772.7 L2304.5 772.7 L2306.3 772.7 L2308.0 772.7 L2309.7 772.7 L2311.5 772.7 L2313.2 772.8 L2314.9 772.8 L2316.7 772.8 L2318.4 772.8 L2320.1 772.8 L2321.9 772.8 L2323.6 772.8 L2325.3 772.8 L2327.1 772.8 L2328.8 772.8 L2330.5 772.8 L2332.3 772.9 L2334.0 772.9 L2335.7 772.9 L2337.4 772.9 L2339.2 772.9 L2340.9 772.9 L2342.6 772.9 L2344.4 772.9 L2346.1 772.9 L2347.8 772.9 L2349.6 773.0 L2351.3 773.0 L2353.0 773.0 L2354.8 773.0 L2356.5 773.0 L2358.2 773.0 L2360.0 773.0" stroke="#C00000" stroke-width="12.3"/>
</g>
<g id="markers">
<rect x="490.0" y="1193.3" width="37.6" height="37.6" fill="#1F4E79" stroke="#0070C0" stroke-width="2.4"/>
<rect x="513.9" y="1203.1" width="37.6" height="37.6" fill="#1F4E79" stroke="#0070C0" stroke-width="2.4"/>
<rect x="580.3" y="1205.2" width="37.6" height="37.6" fill="#1F4E79" stroke="#0070C0" stroke-width="2.4"/>
<rect x="639.4" y="1215.0" width="37.6" height="37.6" fill="#1F4E79" stroke="#0070C0" stroke-width="2.4"/>
<rect x="724.5" y="1243.3" width="37.6" height="37.6" fill="#1F4E79" stroke="#0070C0" stroke-width="2.4"/>
<rect x="800.5" y="1248.1" width="37.6" height="37.6" fill="#1F4E79" stroke="#0070C0" stroke-width="2.4"/>
<rect x="885.6" y="1257.5" width="37.6" height="37.6" fill="#1F4E79" stroke="#0070C0" stroke-width="2.4"/>
<rect x="968.5" y="1250.2" width="37.6" height="37.6" fill="#1F4E79" stroke="#0070C0" stroke-width="2.4"/>
<rect x="1091.7" y="1219.7" width="37.6" height="37.6" fill="#1F4E79" stroke="#0070C0" stroke-width="2.4"/>
<rect x="1205.5" y="968.3" width="37.6" height="37.6" fill="#1F4E79" stroke="#0070C0" stroke-width="2.4"/>
<rect x="1300.2" y="665.4" width="37.6" height="37.6" fill="#1F4E79" stroke="#0070C0" stroke-width="2.4"/>
<rect x="1425.4" y="530.1" width="37.6" height="37.6" fill="#1F4E79" stroke="#0070C0" stroke-width="2.4"/>
<circle cx="537.3" cy="1489.5" r="22.1" fill="#C00000" stroke="#ED7D31" stroke-width="4.4"/>
<circle cx="599.1" cy="1506.0" r="22.1" fill="#C00000" stroke="#ED7D31" stroke-width="4.4"/>
<circle cx="661.0" cy="1510.4" r="22.1" fill="#C00000" stroke="#ED7D31" stroke-width="4.4"/>
<circle cx="743.3" cy="1499.8" r="22.1" fill="#C00000" stroke="#ED7D31" stroke-width="4.4"/>
<circle cx="750.9" cy="1459.1" r="22.1" fill="#C00000" stroke="#ED7D31" stroke-width="4.4"/>
<circle cx="821.5" cy="1319.5" r="22.1" fill="#C00000" stroke="#ED7D31" stroke-width="4.4"/>
<circle cx="904.6" cy="814.9" r="22.1" fill="#C00000" stroke="#ED7D31" stroke-width="4.4"/>
<circle cx="987.7" cy="610.6" r="22.1" fill="#C00000" stroke="#ED7D31" stroke-width="4.4"/>
<circle cx="1114.0" cy="577.8" r="22.1" fill="#C00000" stroke="#ED7D31" stroke-width="4.4"/>
</g>
<g id="legend">
<rect x="1557.0" y="942.0" width="747.4000000000001" height="1084.0" fill="#fff" stroke="#E3E3E3" stroke-width="4.6"/>
<rect x="1619.9" y="975.6" width="37.6" height="37.6" fill="#1F4E79" stroke="#0070C0" stroke-width="2.4"/>
<text transform="translate(1712.44 1013.20) scale(1.0845 1)" font-size="56.3" >Exp<tspan class="u" dy="-0.8">_</tspan><tspan dy="0.8">Sigma</tspan><tspan class="u" dy="-0.8">_</tspan><tspan dy="0.8">03</tspan></text>
<circle cx="1638.7" cy="1103.3" r="22.1" fill="#C00000" stroke="#ED7D31" stroke-width="4.4"/>
<text transform="translate(1712.44 1122.10) scale(1.0841 1)" font-size="56.3" >Exp<tspan class="u" dy="-0.8">_</tspan><tspan dy="0.8">Sigma</tspan><tspan class="u" dy="-0.8">_</tspan><tspan dy="0.8">05</tspan></text>
<path d="M1574.6 1212.5H1699.5" stroke="#2E75B6" stroke-width="11.6" stroke-linecap="round" stroke-dasharray="36.0 47.0" fill="none"/>
<text transform="translate(1714.75 1231.30) scale(1.0552 1)" font-size="56.3" >Sigma<tspan class="u" dy="-0.8">_</tspan><tspan dy="0.8">03</tspan><tspan class="u" dy="-0.8">_</tspan><tspan dy="0.8">UD</tspan><tspan class="u" dy="-0.8">_</tspan><tspan dy="0.8">SS</tspan></text>
<path d="M1574.6 1318.8H1699.5" stroke="#002060" stroke-width="11.6" stroke-linecap="round" stroke-dasharray="36.0 47.0" fill="none"/>
<text transform="translate(1714.72 1337.60) scale(1.0669 1)" font-size="56.3" >Sigma<tspan class="u" dy="-0.8">_</tspan><tspan dy="0.8">03</tspan><tspan class="u" dy="-0.8">_</tspan><tspan dy="0.8">UD</tspan><tspan class="u" dy="-0.8">_</tspan><tspan dy="0.8">ZGB</tspan></text>
<path d="M1574.6 1427.9H1699.5" stroke="#0070C0" stroke-width="12.2" stroke-linecap="round" fill="none"/>
<text transform="translate(1714.76 1446.70) scale(1.0503 1)" font-size="56.3" >Sigma<tspan class="u" dy="-0.8">_</tspan><tspan dy="0.8">03</tspan><tspan class="u" dy="-0.8">_</tspan><tspan dy="0.8">LUD</tspan><tspan class="u" dy="-0.8">_</tspan><tspan dy="0.8">SS</tspan></text>
<path d="M1574.6 1536.7H1699.5" stroke="#002060" stroke-width="12.2" stroke-linecap="round" fill="none"/>
<text transform="translate(1714.74 1555.50) scale(1.0587 1)" font-size="56.3" >Sigma<tspan class="u" dy="-0.8">_</tspan><tspan dy="0.8">03</tspan><tspan class="u" dy="-0.8">_</tspan><tspan dy="0.8">LUD</tspan><tspan class="u" dy="-0.8">_</tspan><tspan dy="0.8">ZGB</tspan></text>
<path d="M1574.6 1645.5H1699.5" stroke="#ED7D31" stroke-width="11.6" stroke-linecap="round" stroke-dasharray="36.0 47.0" fill="none"/>
<text transform="translate(1714.75 1664.30) scale(1.0552 1)" font-size="56.3" >Sigma<tspan class="u" dy="-0.8">_</tspan><tspan dy="0.8">05</tspan><tspan class="u" dy="-0.8">_</tspan><tspan dy="0.8">UD</tspan><tspan class="u" dy="-0.8">_</tspan><tspan dy="0.8">SS</tspan></text>
<path d="M1574.6 1753.8H1699.5" stroke="#ED7D31" stroke-width="9.6" stroke-linecap="round" fill="none"/>
<text transform="translate(1714.76 1772.60) scale(1.0503 1)" font-size="56.3" >Sigma<tspan class="u" dy="-0.8">_</tspan><tspan dy="0.8">05</tspan><tspan class="u" dy="-0.8">_</tspan><tspan dy="0.8">LUD</tspan><tspan class="u" dy="-0.8">_</tspan><tspan dy="0.8">SS</tspan></text>
<path d="M1574.6 1861.3H1699.5" stroke="#C00000" stroke-width="11.6" stroke-linecap="round" stroke-dasharray="36.0 47.0" fill="none"/>
<text transform="translate(1714.72 1880.10) scale(1.0669 1)" font-size="56.3" >Sigma<tspan class="u" dy="-0.8">_</tspan><tspan dy="0.8">05</tspan><tspan class="u" dy="-0.8">_</tspan><tspan dy="0.8">UD</tspan><tspan class="u" dy="-0.8">_</tspan><tspan dy="0.8">ZGB</tspan></text>
<path d="M1574.6 1970.1H1699.5" stroke="#C00000" stroke-width="12.2" stroke-linecap="round" fill="none"/>
<text transform="translate(1714.74 1988.90) scale(1.0587 1)" font-size="56.3" >Sigma<tspan class="u" dy="-0.8">_</tspan><tspan dy="0.8">05</tspan><tspan class="u" dy="-0.8">_</tspan><tspan dy="0.8">LUD</tspan><tspan class="u" dy="-0.8">_</tspan><tspan dy="0.8">ZGB</tspan></text>
</g>
<g id="ticklabels">
<text transform="translate(238.38 140.00) scale(1.1122 1)" font-size="56.8" >0.4</text>
<text transform="translate(238.34 466.70) scale(1.1301 1)" font-size="56.8" >0.2</text>
<text transform="translate(291.14 793.80) scale(1.1307 1)" font-size="56.8" >0</text>
<text transform="translate(217.10 1122.70) scale(1.1287 1)" font-size="56.8" >-0.2</text>
<text transform="translate(217.14 1449.60) scale(1.1144 1)" font-size="56.8" >-0.4</text>
<text transform="translate(217.11 1776.70) scale(1.1243 1)" font-size="56.8" >-0.6</text>
<text transform="translate(217.11 2103.80) scale(1.1240 1)" font-size="56.8" >-0.8</text>
<text transform="translate(372.93 885.50) scale(1.1123 1)" font-size="56.8" >0</text>
<text transform="translate(863.22 885.50) scale(1.0859 1)" font-size="56.8" >2</text>
<text transform="translate(1351.82 885.50) scale(1.0586 1)" font-size="56.8" >4</text>
<text transform="translate(1841.31 885.50) scale(1.1141 1)" font-size="56.8" >6</text>
<text transform="translate(2331.40 885.50) scale(1.1143 1)" font-size="56.8" >8</text>
</g>
<g id="titles">
<text transform="translate(1294.64 2180.85) scale(1.2154 1)" font-size="66.5" >x/d</text>
<text transform="translate(179.45 1146.48) rotate(-90) scale(0.9576 1)" font-size="66.5">Cp</text>
</g>
</g>
</svg></body></html>
